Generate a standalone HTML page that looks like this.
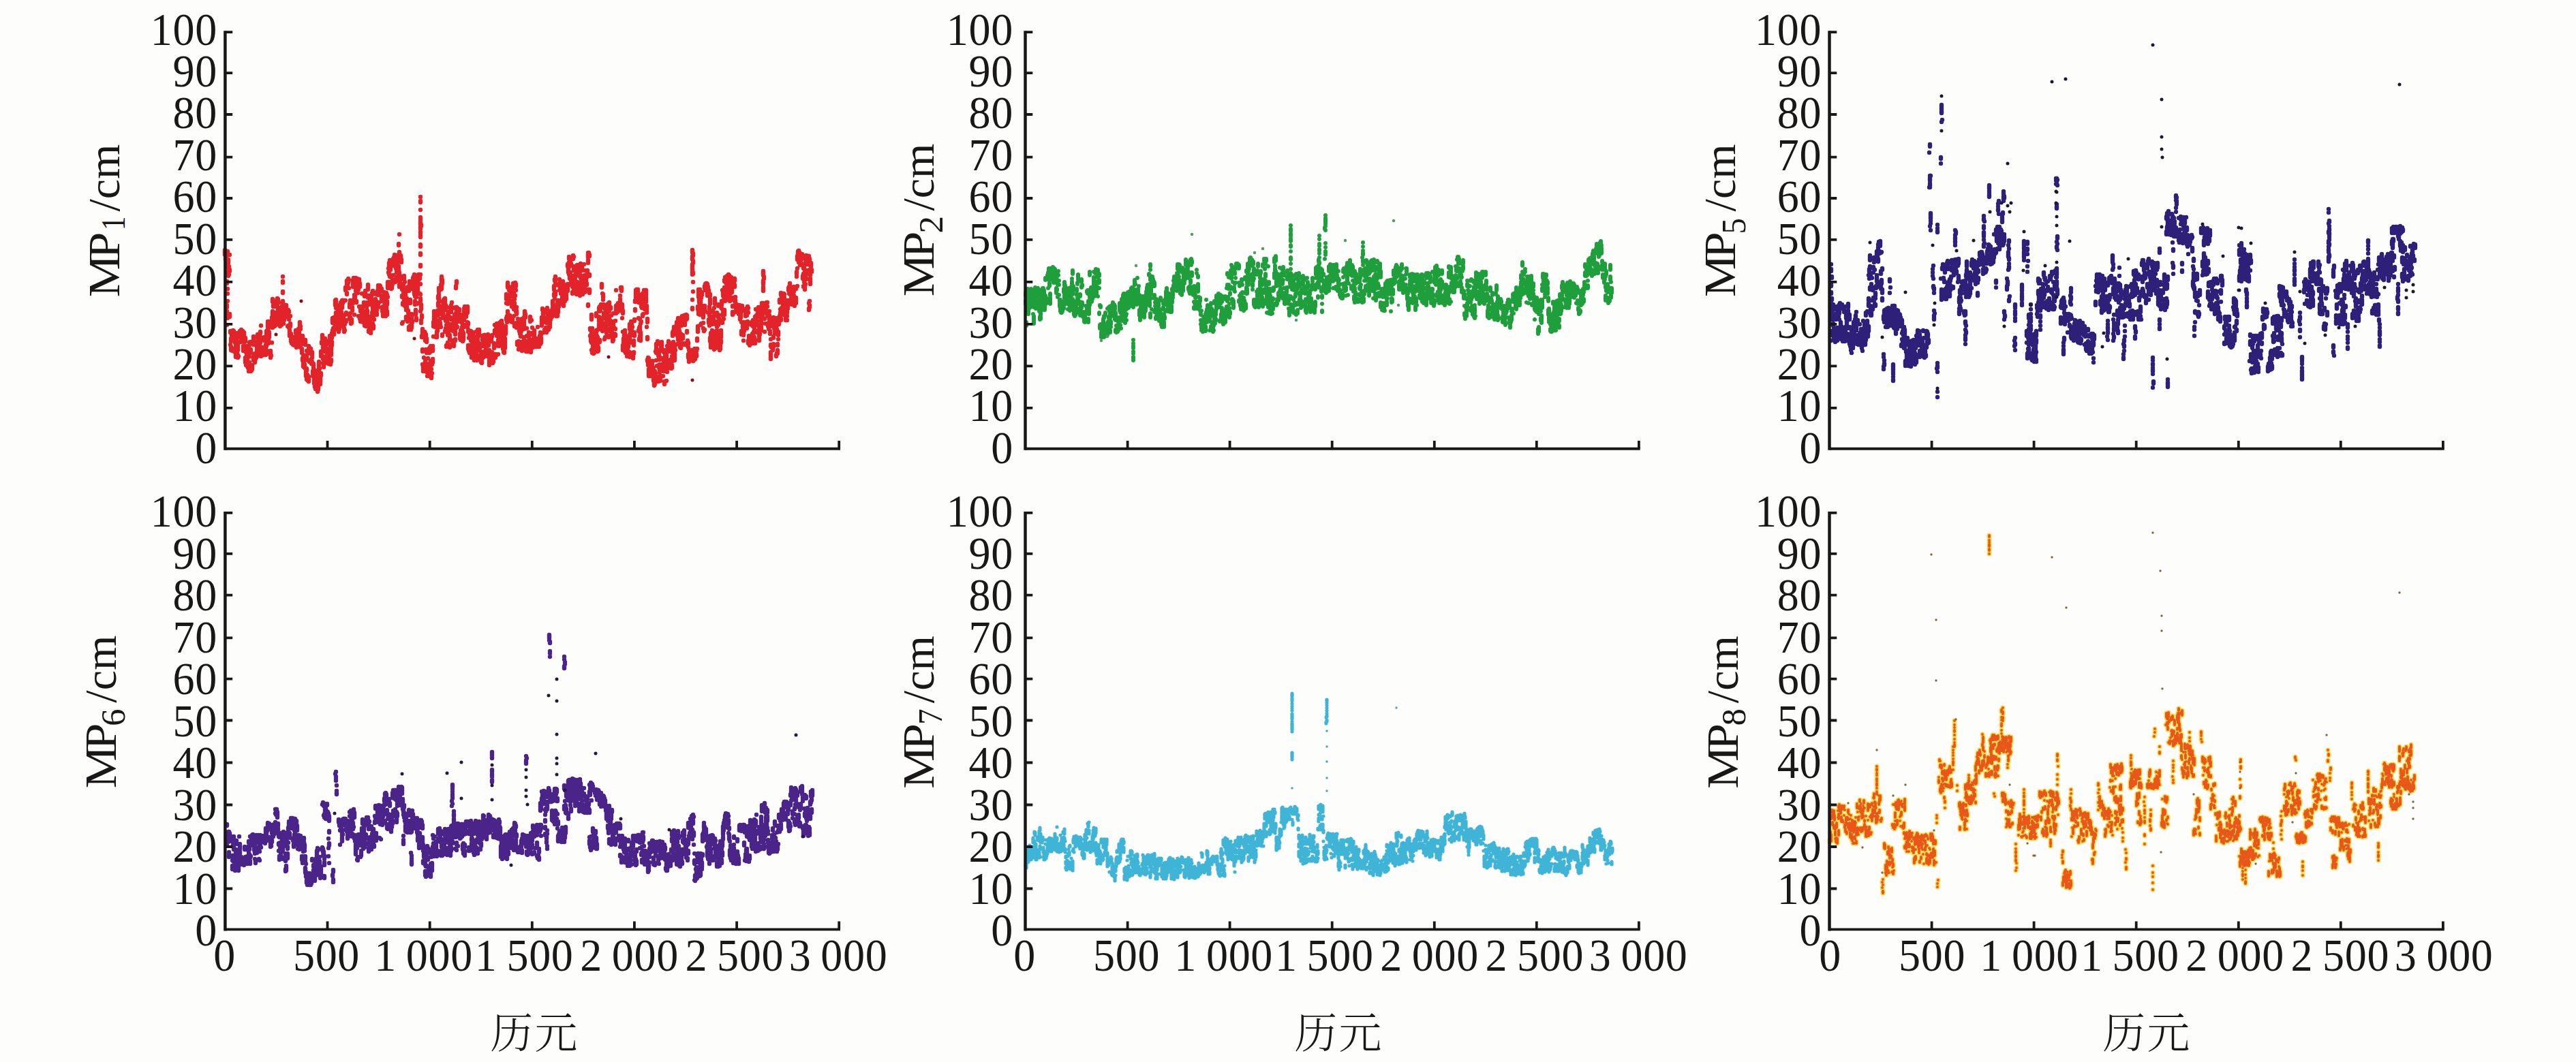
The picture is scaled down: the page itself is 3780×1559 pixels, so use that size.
<!DOCTYPE html>
<html lang="zh"><head><meta charset="utf-8"><title>MP</title>
<style>
html,body{margin:0;padding:0;background:#fdfdfb;}
body{width:3780px;height:1559px;overflow:hidden;}
svg{display:block;}
text{font-family:"Liberation Serif","Noto Serif CJK SC",serif;fill:#1a1718;}
.t{font-size:64px;}
.cj{font-family:"Liberation Serif","Noto Serif CJK SC",serif;font-size:63px;font-weight:300;}
.ax{stroke:#1a1718;fill:none;}
.d{fill:none;stroke-linecap:round;}
</style></head><body>
<svg width="3780" height="1559" viewBox="0 0 3780 1559">
<rect width="3780" height="1559" fill="#fdfdfb"/>
<g>
<text font-size="67.5" letter-spacing="0.7" transform="translate(318.9 679.8) scale(0.95 1)" text-anchor="end">0</text>
<text font-size="67.5" letter-spacing="0.7" transform="translate(318.9 618.4) scale(0.95 1)" text-anchor="end">10</text>
<text font-size="67.5" letter-spacing="0.7" transform="translate(318.9 556.9) scale(0.95 1)" text-anchor="end">20</text>
<text font-size="67.5" letter-spacing="0.7" transform="translate(318.9 495.5) scale(0.95 1)" text-anchor="end">30</text>
<text font-size="67.5" letter-spacing="0.7" transform="translate(318.9 434.1) scale(0.95 1)" text-anchor="end">40</text>
<text font-size="67.5" letter-spacing="0.7" transform="translate(318.9 372.7) scale(0.95 1)" text-anchor="end">50</text>
<text font-size="67.5" letter-spacing="0.7" transform="translate(318.9 311.2) scale(0.95 1)" text-anchor="end">60</text>
<text font-size="67.5" letter-spacing="0.7" transform="translate(318.9 249.8) scale(0.95 1)" text-anchor="end">70</text>
<text font-size="67.5" letter-spacing="0.7" transform="translate(318.9 188.4) scale(0.95 1)" text-anchor="end">80</text>
<text font-size="67.5" letter-spacing="0.7" transform="translate(318.9 126.9) scale(0.95 1)" text-anchor="end">90</text>
<text font-size="67.5" letter-spacing="0.7" transform="translate(318.9 65.5) scale(0.95 1)" text-anchor="end">100</text>
<g transform="translate(174.6 434.1) rotate(-90)" font-size="66"><text letter-spacing="-5.6" transform="translate(-2.1 0) scale(1.065 1)">MP</text><text transform="translate(96 8.5) scale(0.8 1)" font-size="51">1</text><text x="123.5" y="0">/cm</text></g>
<path class="d" stroke="#e2232a" stroke-width="6.4" d="M330 367v7M331 379v2M331 368v5M331 373v3M332 387v4M332 369v5M332 370v2M333 371v4M333 381v3M333 392h0M334 372h0M334 369v5M334 386v3M335 381v5M335 400v5M335 398v4M336 393h0M336 403h0M336 391v5M337 374h0M337 396v2M337 461v4M338 488h0M338 486h0M338 506h0M339 509v5M339 497v4M339 489h0M340 490v3M340 490h0M340 493v3M341 512h0M341 512v3M341 489v7M342 485v5M342 488v2M342 498v2M343 488h0M343 487v2M343 486v7M344 494v4M344 516h0M344 493h0M345 490v5M345 503h0M345 494v7M346 489h0M346 508v5M346 519v5M347 507v5M347 495v4M347 505v5M348 512v4M348 518v2M349 525h0M349 521v3M349 507v7M349 504h0M350 523h0M350 490v5M350 490v3M351 492h0M351 488v3M352 488h0M352 486v5M352 502h0M353 486v5M353 493v3M353 491v4M353 486v3M354 491v5M354 484v7M354 495v7M355 490v3M355 492h0M356 487v4M356 486v4M356 486v3M356 489h0M357 488h0M357 488h0M357 508v7M358 488v4M358 493h0M358 499h0M359 507h0M359 515h0M359 500v2M360 529v2M360 496v5M360 525v7M361 510v7M361 531h0M361 536h0M362 516v5M362 517h0M363 531v7M363 524v4M363 533v5M364 537v3M364 533v4M364 508v3M364 539h0M365 521h0M365 524h0M365 545h0M366 532v5M366 507h0M366 503h0M367 502h0M367 537h0M368 513v5M368 537v4M368 543v2M368 544h0M369 544h0M369 543h0M369 542v2M370 539v3M370 537h0M370 536v2M371 524h0M371 504h0M371 501h0M372 524v5M372 506h0M372 494v5M373 504h0M373 522h0M374 519v2M374 527v5M374 519h0M374 527h0M375 523v4M375 524h0M375 521v3M376 520v5M376 520h0M376 520v3M377 509v7M377 517v5M377 507h0M378 491v5M378 512v2M378 501v4M379 498v3M379 501v3M379 514v5M380 516v4M380 520v2M380 496v5M381 518v3M381 502v7M381 499v3M382 494v7M382 487v2M382 498v5M383 478h0M383 517v2M383 516v7M384 512h0M384 516v5M384 496v3M385 510v3M385 518h0M386 511v4M386 518v2M386 518h0M386 519h0M387 518v3M387 516h0M387 515h0M388 511v3M388 495v5M388 514v2M389 516h0M389 517h0M390 516v5M390 512h0M390 506v2M391 508h0M391 517h0M391 494v7M391 486v7M392 515v4M392 502v3M393 495h0M393 493v2M393 476v5M393 472v7M394 486h0M394 480h0M394 499v5M395 488v4M395 495h0M396 475v4M396 477v3M396 472v5M396 478h0M397 521v3M397 515v4M397 522v3M398 522h0M398 522h0M399 503h0M399 470h0M399 469h0M399 466h0M400 474v7M400 457v7M400 439v4M401 441h0M401 448v2M401 461v7M402 463v5M402 459v2M403 474h0M403 475v4M403 475v3M403 474v5M404 476h0M404 476h0M404 473h0M405 477h0M405 445v5M406 467v7M406 459v7M406 444h0M407 445v3M407 458v3M407 438v7M408 439v5M408 466h0M408 455v7M409 452h0M409 444h0M409 454h0M410 458h0M410 470h0M410 470v5M411 472v7M411 453h0M411 462h0M412 472v3M412 461v2M412 474h0M412 464v3M413 475h0M413 472v5M413 459h0M414 449v5M414 458v7M414 458v4M415 442v7M415 457h0M416 450v4M416 475h0M416 471h0M416 459v2M417 466v4M417 462v2M417 462v4M418 453h0M418 460h0M418 455h0M419 458v4M419 448v2M420 449v4M420 450h0M420 448v7M421 463v2M421 464h0M421 462h0M421 455v7M422 456h0M422 479h0M423 478h0M423 460v2M423 455v4M424 464v5M424 481h0M424 458h0M424 457h0M425 484v7M425 490v3M425 484h0M426 464h0M426 475v4M427 490v4M427 497v2M427 491h0M427 497v4M428 502h0M428 500v4M428 502h0M429 503h0M429 503h0M430 501v5M430 503v2M430 503v2M431 496v7M431 495v5M431 503v3M432 500h0M432 499v7M432 504v3M433 505h0M433 497v2M433 500v2M434 485v4M434 495h0M434 500v5M435 489v2M435 499h0M435 503h0M435 503v7M436 507h0M436 503v5M437 487v4M437 500v5M437 506v2M438 506v3M438 483h0M438 504v3M438 505h0M439 482v2M439 492v5M439 487v7M440 481h0M440 473v5M441 483h0M441 505v5M441 493v5M441 479h0M442 495v3M442 503h0M442 495h0M443 505h0M443 512v5M443 513v5M444 493v5M444 526v3M445 521v5M445 532h0M445 534v2M445 533v5M446 539h0M446 531v7M447 535v4M447 539h0M447 536h0M447 536v4M448 540h0M448 506h0M448 499v7M449 547v5M449 543v3M450 515h0M450 521v5M450 541v3M450 553v4M451 550h0M451 554v4M452 555v4M452 552v7M452 529h0M453 553h0M453 555v5M453 508v4M454 514v3M454 531h0M454 512v3M454 510v3M455 512h0M455 512v2M456 512v3M456 512v4M456 513v5M456 514v5M457 517h0M457 527v7M458 517v4M458 525h0M458 534h0M458 531h0M459 545v3M459 552h0M460 536v3M460 539v4M460 534v5M460 547v5M461 556v7M461 549v7M462 565v3M462 557v3M462 556v7M463 568v2M463 544h0M463 567v4M463 549h0M464 550h0M464 552h0M464 559v4M465 563h0M465 567v4M466 568v7M466 550v5M466 570v2M467 571h0M467 568v4M467 554v7M468 544v5M468 532v4M468 537v3M468 531v7M469 552v3M469 541h0M469 533h0M470 564h0M470 552v4M470 554v7M471 548v3M471 523h0M471 516v4M472 504h0M472 502h0M473 504h0M473 492v3M473 493v2M473 495v2M474 500v2M474 509v2M474 523v4M475 534v5M475 532v2M476 527h0M476 511v5M476 530v4M476 524v4M477 497v4M477 507h0M477 504h0M478 512v4M478 507v5M479 528h0M479 512h0M479 511v2M480 513v4M480 521v4M480 522h0M480 503v2M481 520v5M481 528v3M481 530h0M482 533h0M482 529v5M483 525h0M483 516h0M483 500v2M483 501v4M484 498v2M484 493v4M484 503h0M485 509h0M485 528v7M486 528v3M486 495v7M486 510v4M486 517v4M487 489v7M487 504v3M487 502v2M488 467v7M488 485v4M489 482v2M489 486v2M489 474h0M490 482v4M490 466v7M490 484v7M491 471v4M491 481v3M491 480v2M492 471v4M492 441v7M492 472h0M493 459v5M493 452h0M493 443v3M493 440v3M494 468v2M494 470v4M495 480h0M495 471v7M495 448h0M496 455h0M496 454v2M496 456v3M496 454v3M497 464h0M497 483v4M498 477h0M498 479v4M498 456v5M498 469h0M499 473v2M499 457v7M499 459v5M500 446v4M500 450v7M500 444v5M501 458v7M501 467h0M502 470v4M502 445v7M502 441v2M502 477v2M503 471h0M503 441v4M504 441v2M504 467v2M504 469h0M505 482v4M505 483v2M505 484v2M505 483v4M506 485h0M506 473v3M507 462h0M507 441h0M507 422v4M507 423v2M508 459h0M508 470v2M509 415v4M509 412v7M509 417h0M509 430v2M510 412h0M510 413v7M511 409v4M511 413v2M511 410v2M511 415h0M512 411h0M512 423h0M513 446v5M513 461v7M513 451h0M514 460h0M514 466h0M514 441v7M514 443v5M515 473h0M515 470v5M516 470v4M516 469v4M516 471v2M517 451v5M517 453h0M517 452h0M518 414v7M518 441v4M518 411h0M519 408v7M519 410v5M519 414v5M520 433h0M520 462h0M520 437v3M521 415v7M521 433v4M521 410v2M522 408v7M522 417h0M522 413v7M522 427h0M523 417h0M523 442v2M524 417h0M524 409v5M524 419v2M525 422h0M525 410v5M525 430h0M526 420v5M526 464h0M526 416v4M527 414v2M527 410v5M527 450h0M528 465v3M528 416v5M528 451h0M529 454v3M529 472h0M529 465v7M530 466v5M530 450h0M530 466h0M530 472h0M531 458v3M531 431h0M532 460h0M532 451v4M532 459h0M533 465h0M533 471v2M533 469h0M534 444v3M534 457h0M534 461h0M535 472h0M535 474v4M535 433v2M536 427v4M536 470v3M536 465v2M536 461h0M537 479h0M537 463h0M538 473v3M538 463v7M538 451h0M539 463h0M539 470h0M539 456v3M539 444v3M540 418v7M540 434v3M540 445h0M541 434h0M541 465v7M541 485v2M542 477h0M542 478v3M543 442v5M543 473h0M543 470v2M544 485h0M544 482v7M544 441h0M545 464v3M545 440v5M545 433v3M546 459h0M546 443v5M546 430h0M547 475v2M547 427v5M547 450v7M548 463v2M548 478v4M548 448h0M548 445v4M549 469h0M549 456v2M550 462h0M550 458v4M550 447v7M550 449v3M551 439v4M551 430h0M552 442v7M552 432h0M552 461h0M553 455h0M553 454h0M553 460v2M554 427h0M554 449h0M554 448h0M555 433h0M555 444v7M555 419v5M556 428v4M556 420v5M556 444h0M557 429v4M557 426v5M557 427v2M557 419v5M558 420v3M558 423v2M559 425h0M559 424h0M559 425v2M560 438v4M560 424h0M560 436v5M561 436v3M561 453v4M561 451v4M562 450h0M562 460v4M562 434v2M563 452v5M563 462h0M563 438v5M564 440v4M564 437h0M564 429v7M565 448h0M565 448v3M565 446v5M566 462h0M566 464h0M566 453v4M567 430v7M567 451v5M567 455v7M568 457v5M568 433h0M568 442v5M569 436h0M569 418v5M569 414v3M570 400h0M570 417v5M570 394h0M571 386v5M571 397v3M571 400v3M572 382h0M572 404v2M572 386h0M573 393v3M573 390v5M573 414h0M574 421h0M574 419h0M574 407h0M574 417v7M575 420v3M575 420v3M576 415v2M576 413h0M576 412v5M577 411v3M577 404h0M577 380v7M578 378v5M578 383v3M578 388v2M579 378h0M579 374v7M579 377v2M580 382v7M580 389h0M580 410v4M581 392v2M581 410h0M581 381h0M582 406h0M582 398v2M582 375v4M583 397v3M583 375v4M583 375v5M584 390v3M584 380h0M584 378v7M585 413h0M585 391v7M585 406h0M586 401v3M586 400v3M586 418v3M587 414v2M587 406v3M587 378v4M588 375v7M588 376h0M588 378v2M588 379v3M589 381v4M589 406v4M589 417h0M590 425h0M590 434v2M590 475h0M591 473h0M591 445v2M592 417v2M592 424v5M592 419v7M593 405v5M593 422v3M593 436v7M594 436h0M594 414h0M594 446v3M595 450h0M595 431v5M595 426v5M596 455h0M596 448v5M596 465v4M597 444v3M597 450v3M597 438v3M598 467v2M598 472h0M598 443h0M599 421v3M599 444h0M599 456v3M600 480v4M600 461v3M600 427h0M601 413v7M601 417v4M601 415v7M602 440v5M602 467v2M602 478h0M603 478v4M603 479v5M603 480v2M604 481h0M604 472v7M604 461v7M605 471v2M605 422h0M605 424h0M606 408h0M606 418h0M606 412v5M607 420h0M607 406h0M607 411h0M608 403v4M608 423v7M608 430v2M609 430v5M609 442v5M609 427h0M610 414v7M610 455v7M610 434v2M611 432v2M611 467v3M611 436h0M612 445h0M612 446h0M612 414h0M613 407v7M613 419v5M613 426h0M614 403v4M614 406h0M614 403v5M615 403v5M615 404v5M615 408v2M616 404v3M616 407v2M616 431h0M617 457h0M617 432h0M617 438v4M618 447v7M618 470h0M618 474h0M619 463v3M619 493v2M619 464h0M620 483v7M620 513v3M620 535h0M621 538v7M621 536v2M621 544h0M622 525h0M622 488h0M622 492h0M623 536v4M623 492h0M623 487v3M624 489h0M624 530v5M624 496v4M625 513h0M625 491h0M625 491v7M626 497v5M626 516v2M626 544v2M627 534v4M627 545v2M627 552h0M628 552h0M628 545v7M628 526h0M629 541v4M629 550h0M629 541v7M630 516v2M630 541h0M630 511h0M631 539h0M631 510v7M631 514h0M632 508v3M632 513h0M632 530v7M633 542h0M633 550v2M633 550v5M634 548h0M634 534h0M634 535h0M635 508h0M635 511v4M635 527v5M636 494h0M636 479h0M636 473v2M637 459v4M637 462v7M637 457v7M638 460v3M638 467v3M638 475v5M639 464v2M639 470v7M639 469h0M640 495h0M640 471v5M640 495h0M641 488v7M641 490h0M641 487v4M642 481v3M642 483v3M642 456v7M643 435v3M643 445v4M643 475v2M644 439v2M644 432v5M644 423v5M645 449v5M645 450h0M645 470h0M646 468h0M646 474v3M646 450v2M647 458v3M647 480h0M647 418v7M648 406h0M648 417v7M648 408v5M649 411v5M649 443h0M649 491v2M650 459v5M650 450v3M650 444h0M651 465v2M651 446v4M651 440v4M652 441v2M652 442h0M652 439v5M653 438v7M653 442h0M653 486h0M654 448v7M654 466v5M654 482v5M655 507v2M655 470h0M655 477h0M656 464v7M656 451h0M656 468h0M657 461h0M657 490v2M657 503v4M658 475h0M658 506h0M658 458v5M659 481h0M659 465h0M659 483v3M660 510h0M660 492h0M660 492v7M661 455h0M661 467h0M661 466h0M662 469h0M662 448v5M662 455v3M663 444h0M663 476v7M663 476v5M664 500v7M664 502v2M664 482h0M665 500v4M665 482v4M665 477v5M666 470v7M666 505v3M666 452h0M667 462v4M667 483v2M667 471v5M668 487v4M668 498v2M668 500h0M669 477v5M669 460h0M669 451v2M670 465v5M670 451v7M670 453v4M671 480h0M671 452v3M671 452v3M672 465v7M672 461h0M672 463v2M673 464v3M673 462v3M673 458h0M674 456h0M674 454h0M674 467v5M675 490v5M675 494v3M675 494h0M676 485v5M676 485v7M676 499h0M677 496v3M677 495h0M677 462v4M678 495h0M678 471v3M678 480v3M679 496v5M679 477v3M679 487v3M680 492v7M680 490h0M680 489v4M681 477v3M681 453v4M681 463v7M682 460h0M682 454h0M682 450v7M683 477h0M683 458v3M684 455h0M684 463v2M684 458v4M684 451v4M685 460h0M685 451v4M685 452v3M686 452v7M686 450v7M686 473v7M687 474v2M687 484v3M687 507v5M688 496h0M688 507v7M688 512v3M689 518h0M689 511h0M689 491v5M690 489v5M690 487h0M690 497h0M691 507v4M691 493v7M691 486v5M692 518v7M692 515h0M692 515h0M693 495v4M693 521h0M693 504v5M694 488v7M694 488h0M694 489h0M695 507h0M695 518v7M696 519h0M696 494v3M696 500v4M696 527v2M697 512v4M697 498h0M697 500v7M698 507v7M698 497v4M698 500v2M699 487h0M699 515v4M699 520v7M700 522v7M700 521v3M700 523v3M701 491v5M701 484v4M701 500h0M702 485v5M702 490h0M702 487h0M703 484v7M703 504h0M704 506h0M704 511v4M704 510v3M704 492h0M705 524v4M705 524h0M706 532h0M706 531h0M706 519v3M706 523v7M707 533h0M707 526v7M707 530h0M708 505v3M708 495v4M708 517v3M709 503v5M709 493h0M709 522v3M710 516v7M710 492v4M710 496v2M711 492v4M711 501v5M712 492v2M712 522h0M712 521v2M712 502h0M713 506v4M713 506v5M713 517v5M714 500v5M714 501v2M714 502v4M715 495v3M715 508h0M715 492v7M716 491h0M716 493v4M716 491v3M717 519v5M717 498h0M717 505v2M718 495v4M718 514v4M718 529v7M719 526v7M719 520v3M719 531h0M720 530v2M720 525v7M720 524v2M721 527v2M721 520v4M721 496v5M722 517v5M722 494h0M722 492v2M723 529v2M723 530v3M723 529h0M724 526v4M724 531h0M724 530h0M725 504v7M725 505h0M725 520v3M726 485v4M726 477h0M726 477h0M727 508h0M727 520v5M728 478v3M728 479h0M728 483v5M729 521h0M729 475v7M729 493h0M729 478h0M730 479v7M730 484v7M731 475v5M731 479h0M731 499v4M731 520h0M732 506v2M732 486h0M733 475v4M733 484v2M733 494h0M733 486v2M734 475v5M734 473v5M734 475v2M735 477v4M735 479h0M736 471v7M736 480v3M736 497h0M736 480v3M737 477v3M737 496v7M737 476v4M738 492h0M738 483v5M738 507v5M739 507v7M739 514v3M740 509h0M740 516v2M740 495v3M741 497v3M741 499v7M741 491h0M741 508v3M742 487v3M742 479v5M743 467v2M743 445h0M743 432v7M744 469v4M744 467v5M744 464v7M745 441v5M745 457v2M745 436h0M745 415v7M746 462v2M746 463h0M747 465v5M747 435v3M747 421v5M748 425h0M748 432v3M748 463v2M748 441v4M749 430h0M749 443h0M750 442v4M750 470v2M750 430h0M751 427v7M751 430h0M751 445v5M752 445v2M752 430h0M752 466v7M752 443v4M753 436h0M753 416v7M753 442h0M754 464h0M754 430v7M754 447v7M755 475v4M755 445v2M755 439h0M756 422v3M756 434h0M756 415v7M757 417v3M757 426h0M757 457h0M758 451h0M758 456v5M758 474v7M759 502v4M759 477v4M759 476v2M760 502h0M760 468h0M760 503v2M761 513h0M761 508h0M761 501v4M762 479v7M762 471v2M762 481v5M763 485v5M763 475v4M763 470v5M764 491h0M764 471v5M764 491v3M765 504h0M765 502h0M765 481v5M766 468v4M766 505v5M766 515h0M767 514h0M767 502v2M767 471h0M768 470h0M768 474h0M769 483h0M769 466v5M769 473v7M769 495v4M770 501v2M770 457v5M770 462v2M771 482h0M771 461v5M771 501v7M772 511v3M772 512v4M773 508v3M773 511h0M773 493h0M773 482h0M774 501v7M774 504h0M774 516h0M775 515h0M775 514v2M775 513h0M776 488v7M776 515h0M777 515h0M777 504v7M777 509v7M777 500h0M778 510v3M778 465v7M779 508v4M779 500v5M779 512v5M779 500v2M780 470h0M780 499h0M780 489v2M781 500h0M781 481h0M781 504h0M782 507h0M782 506v2M782 503v7M783 507h0M783 506v2M783 497h0M784 485v5M784 503v2M784 492v3M785 502v4M785 504v5M785 505v3M786 505h0M786 502v3M786 506h0M787 506h0M787 504v5M787 505h0M788 502v7M788 503v3M789 498h0M789 497v5M789 480h0M789 505h0M790 504h0M790 504h0M791 499v5M791 502v7M791 505h0M792 504h0M792 493v4M792 501h0M792 501h0M793 488v5M793 501v4M793 502v2M794 491h0M794 496v7M795 471v3M795 474v4M795 466v3M795 471h0M796 453v2M796 453h0M797 459v7M797 459v4M797 467h0M797 463v4M798 456h0M798 469v3M798 488h0M799 484h0M799 486h0M799 485h0M800 473h0M800 459h0M801 455v2M801 458h0M801 481v2M802 472v2M802 484v4M802 454v2M802 466h0M803 455h0M803 452v2M804 460h0M804 471h0M804 457v7M805 459h0M805 462v2M805 461v2M805 480v4M806 466v4M806 479v2M807 480h0M807 467v5M807 471v7M808 469h0M808 464h0M808 463h0M809 463v2M809 461v5M809 462v3M809 456v7M810 462h0M810 460v5M811 463h0M811 451v4M811 442v5M812 450v7M812 449v5M812 447v7M813 420v5M813 432v2M813 456h0M814 410v2M814 427v3M814 438h0M815 409h0M815 406v7M815 417v2M815 428v5M816 455v3M816 449v3M816 460v4M817 449h0M817 456v7M818 454v3M818 441v3M818 461v2M818 459v5M819 456v2M819 453h0M820 447v3M820 445h0M820 444h0M821 426h0M821 410h0M821 442v2M821 416v4M822 415v5M822 416v5M822 441h0M823 427v3M823 429v2M823 443h0M824 422h0M824 427h0M824 441v5M825 436v5M825 423v4M826 413v4M826 426v3M826 444h0M827 445h0M827 442v7M827 440v7M827 425v5M828 418v3M828 431h0M828 433h0M829 438v4M829 436h0M830 436h0M830 421h0M830 433v7M831 434v5M831 434v2M831 432v3M831 426h0M832 424h0M832 425h0M833 422v5M833 423v2M833 417h0M833 388v3M834 395v5M834 389h0M835 403h0M835 385v7M835 377v3M835 387h0M836 381v7M836 387v3M836 402v7M837 379v5M837 384v5M837 400v5M838 418h0M838 413h0M838 387v3M839 407v3M839 412h0M840 429v2M840 405v5M840 421h0M841 378v2M841 376v2M841 375h0M842 377h0M842 391h0M842 424v2M842 394v3M843 417v2M843 406v3M844 426h0M844 411v4M844 417v3M844 403v4M845 413h0M845 397v3M846 392v4M846 427v5M846 414h0M847 414v4M847 415h0M847 389v4M847 420h0M848 422v5M848 404h0M848 419v2M849 392h0M849 391h0M850 398v7M850 404h0M850 427h0M851 422v3M851 424h0M851 431v3M852 408h0M852 394v4M852 387h0M852 404h0M853 424v3M853 409v7M854 392v4M854 423v7M854 418h0M854 412v2M855 427h0M855 427v5M856 423v3M856 414h0M856 413v7M857 412v7M857 388h0M857 397h0M857 405h0M858 424v5M858 404v2M858 427h0M859 424v4M859 424v4M859 418h0M860 425v2M860 405v7M861 397h0M861 416v2M861 405v2M862 397h0M862 400v3M862 402h0M863 382v4M863 371v5M863 374v4M864 372v3M864 371v4M864 375h0M865 374h0M865 376h0M865 403v2M865 425v5M866 482v2M866 493h0M867 498v3M867 492v7M867 483h0M868 496v7M868 514h0M868 462v7M868 486v2M869 482h0M869 513v5M869 514v4M870 507v4M870 512h0M870 515h0M871 516h0M871 512v7M872 514v3M872 513v5M872 505h0M873 488h0M873 493h0M873 498v7M873 502h0M874 510v2M874 503v7M874 507v2M875 485v3M875 502h0M875 460v4M876 493v5M876 485h0M877 484h0M877 502v5M877 495v4M877 513v3M878 512v3M878 510v5M879 452v3M879 476v4M879 465v7M880 499v3M880 476h0M880 450v7M881 456h0M881 476v7M881 470v4M882 467h0M882 473v4M882 447v5M883 469v2M883 421h0M883 417v4M883 422h0M884 431h0M884 483v3M885 432v4M885 434v2M885 440h0M886 460v7M886 480v4M886 447v4M887 460h0M887 475h0M887 498h0M888 477h0M888 495h0M888 454h0M889 453v2M889 476v4M889 461v7M890 485v4M890 473h0M890 456v4M891 452h0M891 450h0M891 462v7M891 458v5M892 454h0M892 456h0M892 446v5M893 493v2M893 448v7M894 454v3M894 444v5M894 446v7M894 466h0M895 482v4M895 470v7M896 481v3M896 476h0M896 451h0M896 451v2M897 463h0M897 481v5M897 483v7M898 493h0M898 475h0M898 488h0M899 497v4M899 483h0M900 472v7M900 497v2M900 491v5M900 460h0M901 490v3M901 460h0M902 482h0M902 482h0M902 490v3M903 491v2M903 483h0M903 471h0M904 453v7M904 449v2M904 453h0M904 426h0M905 450h0M905 448v5M906 454v2M906 451v7M906 451h0M907 454h0M907 449h0M907 445v7M908 453v3M908 455h0M908 454v2M908 453v3M909 453v3M909 454h0M910 453v2M910 439v5M910 434h0M911 452v4M911 454h0M911 422v2M912 422v5M912 451v5M912 453v2M913 450v4M913 447v4M913 467h0M914 456v4M914 487h0M914 507v7M915 506v7M915 497v7M915 505h0M916 507v5M916 490v7M916 504v3M916 510v5M917 498v2M917 485v5M918 515v3M918 512v2M918 493v5M918 503v2M919 507v2M919 510v3M920 497h0M920 523h0M920 494h0M921 514h0M921 515h0M921 520h0M921 510v7M922 507h0M922 507v2M923 500v3M923 502v2M923 498v2M924 517v7M924 476v7M924 491v7M924 495v5M925 476h0M925 488h0M926 472h0M926 477v5M926 472v5M926 477h0M927 476v3M927 485v7M928 503h0M928 480h0M928 519h0M929 504h0M929 518h0M929 521v5M930 517v2M930 507h0M930 500v7M931 469v2M931 471h0M931 488v5M932 456h0M932 441v2M932 454h0M933 433v3M933 430v2M933 426v2M934 426v7M934 425v4M934 426v4M934 425v4M935 425v4M935 426v3M936 427v4M936 425v4M936 430v7M937 467h0M937 439v5M937 485h0M938 481v2M938 497v2M938 484v3M939 479v7M939 469h0M939 493v2M940 488v7M940 497v3M940 475h0M941 445v5M941 446v4M941 472h0M942 449v3M942 445h0M942 432v3M943 462v2M943 438v7M943 431h0M944 431h0M944 436h0M944 461h0M945 449h0M945 426v7M945 431h0M946 433v3M946 454h0M946 434v4M947 452v2M947 444v4M947 429h0M948 436v7M948 426v7M948 452h0M949 449v5M949 480h0M949 456v3M950 468v5M950 495v3M950 528v2M951 526v4M951 527v5M951 531v5M951 525v2M952 526v7M952 547v5M952 542v4M953 549h0M953 541v4M954 549v3M954 549v2M954 548v4M955 549v3M955 548v4M955 546v5M956 543v2M956 537h0M956 539h0M957 530h0M957 539v4M957 532v7M958 530h0M958 549h0M958 549h0M959 554v4M959 559h0M959 540h0M960 561v5M960 562v4M960 563v2M961 564h0M961 549v7M961 545h0M962 548v7M962 559v2M962 516h0M963 505v3M963 511v7M963 529h0M964 556v2M964 559h0M964 537h0M965 501v4M965 553v2M965 516v2M966 522h0M966 560h0M966 514h0M967 558h0M967 536v4M967 518v7M968 524v4M968 544v3M968 535v4M969 552v7M969 541v4M969 505h0M970 508v5M970 512v2M970 509v3M971 504v7M971 503v7M971 502v2M972 515h0M972 515h0M972 535h0M973 552h0M973 526h0M973 539v2M974 528v3M974 545h0M974 514v3M975 539v4M975 540v4M975 560v4M976 545h0M976 521h0M976 536h0M977 535v7M977 543h0M977 521v4M978 514v7M978 522v2M978 559h0M979 508h0M979 532h0M979 546h0M980 529h0M980 533h0M980 540h0M981 531v5M981 501v7M981 509v7M982 536v4M982 529v5M982 503v4M983 535v2M983 530h0M983 530v5M984 507h0M984 511v3M984 528v5M985 538v3M985 537v2M985 509v4M986 517h0M986 536v4M986 523h0M987 530h0M987 504v2M987 488v5M988 502h0M988 486v5M988 486h0M989 509h0M989 481v3M989 480v7M990 519v3M990 524v5M990 507v3M991 485v5M991 485v3M991 514h0M992 506h0M992 486v4M992 479h0M993 484h0M993 488h0M993 473v4M994 473v7M994 489v4M994 505h0M995 495v4M995 467v2M995 470v3M996 493v2M996 479h0M996 482v2M997 502v2M997 486v3M997 506h0M998 509h0M998 510h0M998 508h0M999 509v2M999 490v7M999 501v5M1000 478h0M1000 473v3M1000 466v7M1001 466h0M1001 467h0M1001 464v2M1002 470v2M1002 492v5M1002 464v3M1003 469h0M1003 469h0M1003 465h0M1004 464v3M1004 463v5M1004 504v2M1005 470v7M1005 470v5M1005 469h0M1006 463v5M1006 464v5M1006 463v4M1007 465h0M1007 463v4M1007 462v7M1008 464v4M1008 463v5M1008 486v2M1009 500v2M1009 508h0M1009 507h0M1010 510h0M1010 503v2M1010 520v5M1011 520v4M1011 514h0M1011 524v7M1012 520v3M1012 518v5M1012 528h0M1013 516v4M1013 515h0M1013 518h0M1014 517h0M1014 518h0M1014 518v4M1015 517h0M1015 518v3M1015 514v7M1016 520h0M1016 522v7M1016 515h0M1017 519v2M1017 526h0M1017 528v2M1018 529h0M1018 518v7M1018 518h0M1019 523v2M1019 514v4M1019 512v5M1020 519v4M1020 523v4M1020 517h0M1021 515v3M1021 513v3M1021 513v4M1022 515h0M1022 520v3M1022 513h0M1023 512h0M1023 497h0M1023 497v3M1024 450v4M1024 482v5M1024 479v4M1025 454v7M1025 432v4M1025 425v4M1026 429v2M1026 439v5M1026 437h0M1027 425h0M1027 441v4M1027 459v3M1028 441v5M1028 477h0M1028 446v5M1029 475h0M1029 430v7M1029 429v4M1030 454h0M1030 429v4M1030 452v3M1031 455v7M1031 449v3M1031 463h0M1032 461v5M1032 474h0M1032 482h0M1033 486h0M1033 484v2M1034 484h0M1034 454v2M1034 420v3M1034 449v7M1035 457h0M1035 426h0M1035 417v5M1036 420v3M1036 416v7M1036 418v4M1037 416v7M1037 420h0M1037 418v3M1038 419v3M1038 427v7M1038 417v7M1039 421v3M1039 421h0M1039 459h0M1040 426v4M1040 430v3M1040 469v5M1041 450v3M1041 475v3M1041 459v4M1042 496v5M1042 432v2M1042 439v7M1043 489v4M1043 505v5M1043 508h0M1044 488v4M1044 490h0M1044 476h0M1045 469v7M1045 485v7M1045 465v5M1046 505v4M1046 510h0M1046 456v2M1047 464v5M1047 490v2M1047 496v5M1048 509v4M1048 452h0M1049 438h0M1049 499v2M1049 439v7M1049 460v3M1050 472v4M1050 506v4M1050 511h0M1051 494v5M1051 486v5M1051 493v2M1052 477v3M1052 502v2M1052 459h0M1053 486v7M1053 500h0M1053 478h0M1054 462v4M1054 472v5M1054 447v2M1055 475h0M1055 467h0M1055 497h0M1056 501h0M1056 509v5M1056 499h0M1057 505v7M1057 500v5M1057 447v3M1058 500v3M1058 493v2M1058 485v7M1059 453h0M1059 445v3M1059 442h0M1060 470v4M1060 462h0M1060 426h0M1061 464h0M1061 458v5M1061 429v5M1062 468h0M1062 436h0M1063 455v7M1063 422v5M1063 439v3M1063 411v2M1064 407h0M1064 412h0M1064 437v5M1065 434v7M1065 431h0M1065 410v5M1066 409v7M1066 406v7M1066 421v7M1067 434h0M1067 430v5M1067 405v3M1068 406v2M1068 413v5M1068 429h0M1069 405h0M1069 403v4M1069 403v7M1070 409v2M1070 414v3M1070 404v3M1071 424v7M1071 425v4M1071 435v7M1072 426h0M1072 424v3M1072 419v4M1073 407v4M1073 413v5M1073 426v4M1074 411v7M1074 422v7M1074 420h0M1075 449h0M1075 458v4M1075 450h0M1076 437v3M1076 458v2M1076 412v3M1077 413v4M1077 417v2M1077 416v4M1078 442h0M1078 409v3M1078 418v3M1079 440v4M1079 436h0M1080 456v2M1080 456h0M1080 448v4M1080 451h0M1081 451h0M1081 447v7M1081 448v7M1082 450h0M1082 452h0M1082 453h0M1083 449v5M1083 448v7M1084 461h0M1084 454h0M1084 458v3M1085 449v3M1085 448v5M1085 450v3M1085 449v3M1086 454h0M1086 457h0M1086 464v5M1087 462v4M1087 459h0M1087 456v4M1088 473h0M1088 486v5M1088 449v5M1089 449v3M1089 450h0M1089 450v3M1090 479v2M1090 473v3M1090 491h0M1091 490h0M1091 500h0M1091 487v5M1092 481v4M1092 484v2M1092 454v2M1093 479h0M1093 474h0M1093 473h0M1094 454h0M1094 461h0M1094 459v5M1095 456v5M1095 453v3M1095 477h0M1096 456h0M1096 482h0M1096 461v2M1097 450v5M1097 457h0M1097 472v5M1098 500v4M1098 452h0M1098 459h0M1099 493h0M1099 495v4M1099 498h0M1100 504h0M1100 503v4M1100 501v5M1101 499v2M1101 503v2M1101 503v2M1102 494h0M1102 504h0M1102 502v2M1103 495h0M1103 493v4M1103 473v4M1104 478h0M1104 490h0M1104 502h0M1105 500v4M1105 470v7M1105 479h0M1106 487v2M1106 503h0M1107 470v4M1107 495h0M1107 480h0M1107 480v4M1108 499v5M1108 473v5M1108 465h0M1109 454h0M1109 454h0M1109 471h0M1110 463v3M1110 469v2M1110 463v3M1111 476h0M1111 471h0M1111 486v2M1112 458v7M1112 465h0M1113 454v7M1113 458h0M1113 451h0M1113 451h0M1114 462v3M1114 493v7M1114 477v5M1115 458v7M1115 484v3M1115 487v4M1116 480h0M1116 484v2M1116 476v3M1117 464v5M1117 480v4M1117 471v5M1118 445v5M1118 462h0M1119 462v4M1119 457v3M1119 451v2M1120 448v2M1120 445v3M1120 445h0M1121 455v4M1121 446h0M1121 447h0M1122 450v2M1122 468h0M1122 487h0M1123 475h0M1123 454h0M1123 452h0M1123 458h0M1124 446v2M1124 448v7M1125 444h0M1125 446v3M1125 445h0M1125 445h0M1126 444h0M1126 450h0M1126 461v3M1127 458h0M1127 479h0M1128 474h0M1128 477h0M1128 475h0M1128 481v2M1129 465v7M1129 463v2M1129 457h0M1130 486v4M1130 479h0M1131 498h0M1131 506v2M1131 517v5M1131 520v7M1132 510h0M1132 478h0M1132 474v4M1133 470h0M1133 469h0M1134 474h0M1134 477v2M1134 512v2M1134 509v3M1135 505v4M1135 494v2M1135 466v7M1136 481h0M1136 468v2M1136 478v4M1137 483v4M1137 485v5M1138 467v3M1138 469h0M1138 479h0M1138 476h0M1139 468v7M1139 480h0M1139 521v2M1140 518h0M1140 483h0M1140 472v4M1141 475v2M1141 505v2M1141 514v5M1142 498h0M1142 487v5M1143 472v4M1143 467v5M1143 466h0M1144 464h0M1144 468h0M1144 440v4M1145 459h0M1145 459v4M1145 462v5M1145 454h0M1146 459h0M1146 468v2M1146 430v3M1147 452v2M1147 432v7M1147 438h0M1148 440h0M1148 454h0M1149 437v2M1149 462h0M1149 443v5M1149 452v2M1150 442v4M1150 431v5M1151 451v3M1151 432h0M1151 437v4M1151 452h0M1152 443v7M1152 457v5M1153 463v2M1153 470h0M1153 470h0M1153 467v3M1154 469h0M1154 470h0M1155 470h0M1155 464h0M1155 458h0M1155 454v5M1156 449v4M1156 441h0M1156 441v2M1157 426h0M1157 423h0M1158 444h0M1158 443h0M1158 426v5M1158 421v7M1159 417h0M1159 416v3M1160 424v3M1160 430v3M1160 422v5M1161 438h0M1161 439h0M1161 441h0M1162 438v7M1162 434h0M1162 435v2M1162 444v3M1163 444v3M1163 445h0M1164 446h0M1164 437v7M1164 426v4M1165 421v7M1165 434v5M1165 442v3M1165 440h0M1166 444v5M1166 439v5M1166 440v4M1167 443h0M1167 443v2M1168 445h0M1168 441v3M1168 437v5M1168 422v2M1169 406h0M1169 399v3M1170 420h0M1170 381h0M1170 394h0M1170 376v4M1171 371v4M1171 369v4M1172 368v7M1172 378h0M1172 378v7M1172 373h0M1173 370v5M1173 372h0M1173 374v2M1174 381h0M1174 387v2M1175 382v3M1175 373h0M1175 375v4M1176 379h0M1176 375h0M1176 374v2M1176 374h0M1177 373v3M1177 375v5M1177 375v5M1178 405v4M1178 389h0M1179 402h0M1179 421h0M1179 389v5M1179 420h0M1180 409v5M1180 388v5M1181 416v4M1181 420v5M1181 418v3M1181 399v4M1182 417h0M1182 385h0M1183 408v2M1183 397v5M1183 375v7M1184 384v2M1184 376v3M1184 388h0M1184 384h0M1185 383v5M1185 381h0M1186 397v5M1186 376v5M1186 376v5M1186 383h0M1187 376v5M1187 378v2M1188 380h0M1188 396h0M1188 380v4M1188 382v7M1189 417h0M1189 402v2M1189 409v7M1190 386v5M1190 399h0M1191 396v3M333 477h0M334 465v2M333 457v2M333 448v3M334 442h0M334 431h0M334 424h0M333 413v3M415 428v2M415 413v2M415 406h0M617 417h0M617 403h0M617 389v2M617 372v2M617 359v3M617 344h0M617 346v2M617 344h0M617 340v3M617 340h0M617 336h0M617 333v3M618 330v2M617 327v3M617 325v3M617 324h0M617 322h0M617 319h0M617 319h0M617 308h0M617 295v2M617 289h0M586 370v2M585 358v2M586 344h0M1016 401v2M1016 397v3M1016 397h0M1016 393v3M1016 392h0M1016 388v2M1017 386h0M1017 383v2M1016 381h0M1016 378v2M1016 376h0M1017 372v3M1016 371h0M1016 367v2M1016 452v2M1016 440h0M1017 428h0M1017 414h0M1017 400v2M1120 425v2M1120 423h0M1120 421h0M1120 417h0M1120 413v3M1120 412h0M1121 406v3M1120 404h0M1120 401v2M1120 398v3M1187 453v2M1188 448v3M1187 445h0M1188 442h0M669 420v3M670 413v3M863 447v2M863 425h0"/>
<path class="d" stroke="#7a1418" stroke-width="5" d="M1016 558h0M442 442h0M405 491h0M608 497h0M893 524h0"/>
<path class="ax" stroke-width="4.5" d="M330.4 45.3 V660.7"/>
<path class="ax" stroke-width="3.9" d="M330.4 658.8 H1233"/>
<path class="ax" stroke-width="3.8" d="M330.4 598.8 h10.8 M330.4 537.3 h10.8 M330.4 475.8 h10.8 M330.4 413.8 h10.8 M330.4 351.8 h10.8 M330.4 291 h10.8 M330.4 230.7 h10.8 M330.4 168 h10.8 M330.4 107.2 h10.8 M330.4 47.2 h10.8 M480.5 658.8 v-11.8 M630.7 658.8 v-11.8 M780.8 658.8 v-11.8 M930.9 658.8 v-11.8 M1081.1 658.8 v-11.8 M1231.2 658.8 v-11.8"/>
</g>
<g>
<text font-size="67.5" letter-spacing="0.7" transform="translate(1487 679.8) scale(0.95 1)" text-anchor="end">0</text>
<text font-size="67.5" letter-spacing="0.7" transform="translate(1487 618.4) scale(0.95 1)" text-anchor="end">10</text>
<text font-size="67.5" letter-spacing="0.7" transform="translate(1487 556.9) scale(0.95 1)" text-anchor="end">20</text>
<text font-size="67.5" letter-spacing="0.7" transform="translate(1487 495.5) scale(0.95 1)" text-anchor="end">30</text>
<text font-size="67.5" letter-spacing="0.7" transform="translate(1487 434.1) scale(0.95 1)" text-anchor="end">40</text>
<text font-size="67.5" letter-spacing="0.7" transform="translate(1487 372.7) scale(0.95 1)" text-anchor="end">50</text>
<text font-size="67.5" letter-spacing="0.7" transform="translate(1487 311.2) scale(0.95 1)" text-anchor="end">60</text>
<text font-size="67.5" letter-spacing="0.7" transform="translate(1487 249.8) scale(0.95 1)" text-anchor="end">70</text>
<text font-size="67.5" letter-spacing="0.7" transform="translate(1487 188.4) scale(0.95 1)" text-anchor="end">80</text>
<text font-size="67.5" letter-spacing="0.7" transform="translate(1487 126.9) scale(0.95 1)" text-anchor="end">90</text>
<text font-size="67.5" letter-spacing="0.7" transform="translate(1487 65.5) scale(0.95 1)" text-anchor="end">100</text>
<g transform="translate(1370.2 433.1) rotate(-90)" font-size="66"><text letter-spacing="-5.6" transform="translate(-2.1 0) scale(1.065 1)">MP</text><text transform="translate(90.7 12.5) scale(1.0 1)" font-size="51">2</text><text x="123.5" y="0">/cm</text></g>
<path class="d" stroke="#1f9e3c" stroke-width="6" d="M1505 429h0M1505 432v2M1505 441v5M1506 436v4M1506 474h0M1506 473v5M1506 435h0M1507 437h0M1507 455h0M1508 444v4M1508 449v7M1508 424v7M1509 433v7M1509 426v7M1509 454v7M1510 439h0M1510 442v7M1510 431v5M1511 452h0M1511 439v2M1511 431h0M1512 431h0M1512 425v2M1512 426h0M1512 426h0M1513 426h0M1513 426h0M1513 424v2M1514 426h0M1514 429h0M1514 427h0M1515 446v4M1515 426h0M1515 430v4M1516 438v5M1516 461h0M1517 468v7M1517 474h0M1517 464v3M1517 447v4M1518 440h0M1518 432h0M1518 427v2M1519 422v7M1519 432v2M1520 449h0M1520 428h0M1520 445h0M1520 449v4M1521 426h0M1521 427h0M1521 429v7M1522 442v3M1522 449v2M1523 426v5M1523 426h0M1523 423v4M1524 425h0M1524 425v7M1524 425v4M1525 439v5M1525 431v2M1525 457h0M1525 451v4M1526 468h0M1526 449h0M1526 465v4M1527 459v5M1527 465v3M1527 442v2M1528 426h0M1528 436v5M1528 449v7M1529 441v5M1529 449v4M1530 426v2M1530 426v5M1530 423v7M1531 426h0M1531 423v5M1531 430v2M1532 426v7M1532 435v5M1532 440v2M1533 433v7M1533 448v7M1533 436v7M1534 434h0M1534 408v3M1534 438h0M1534 444v3M1535 444h0M1535 437v7M1536 438h0M1536 445h0M1536 442v3M1537 442h0M1537 410h0M1537 404v2M1538 423h0M1538 401v5M1538 400v4M1539 395v3M1539 394v2M1539 395v2M1539 396h0M1540 407v5M1540 416v4M1541 431v3M1541 443v3M1541 437v4M1542 398v4M1542 401v4M1542 394v5M1543 402v5M1543 401v4M1543 395h0M1543 396v4M1544 398v2M1544 395h0M1545 392v7M1545 395h0M1545 393v5M1546 393v7M1546 409h0M1546 410v5M1546 405v7M1547 395h0M1547 395h0M1547 400h0M1548 395h0M1548 395v7M1548 395v7M1549 398h0M1549 407v4M1549 403v7M1550 423v7M1550 410v5M1551 425h0M1551 424v2M1551 431h0M1552 436h0M1552 411v7M1552 405h0M1552 399v2M1553 398h0M1553 404h0M1554 412h0M1554 418h0M1554 433h0M1555 440v3M1555 446v3M1555 445v5M1556 440h0M1556 445h0M1556 452v5M1557 446v5M1557 452v7M1557 453v3M1558 452v7M1558 453v4M1558 453h0M1558 453v3M1559 448v4M1559 453v4M1559 443h0M1560 449h0M1560 444v7M1560 446v2M1561 451v2M1561 424v5M1561 444h0M1562 433v5M1562 414v5M1562 417v2M1563 426h0M1563 419v3M1564 437v7M1564 435v2M1564 446h0M1565 445h0M1565 437h0M1565 432h0M1566 431v4M1566 439v4M1566 440v3M1566 443h0M1567 454h0M1567 425h0M1568 425v5M1568 431h0M1568 423v4M1569 448h0M1569 439v2M1569 429h0M1569 438v5M1570 429v2M1570 451v5M1571 446h0M1571 455h0M1571 434v7M1571 427v4M1572 430h0M1572 426v7M1572 421v2M1573 413v5M1573 409h0M1573 430v3M1574 422v7M1574 439h0M1574 397v5M1575 420v5M1575 444v7M1576 442v7M1576 456v4M1576 460v2M1577 457v7M1577 459v3M1577 459v3M1577 461h0M1578 459v4M1578 458v4M1579 457v2M1579 449h0M1579 432h0M1580 452h0M1580 431v2M1580 442v5M1580 424v3M1581 438v4M1581 415v2M1582 439v2M1582 444v2M1582 403v7M1583 413h0M1583 445h0M1583 436h0M1584 453v3M1584 456h0M1584 460h0M1585 456v7M1585 453v7M1585 432v3M1585 443v2M1586 449v3M1586 453v4M1587 410v4M1587 420v2M1587 448h0M1587 452h0M1588 418v2M1588 444v4M1588 461h0M1589 461v4M1589 463h0M1589 463h0M1590 458v3M1590 464h0M1591 465v2M1591 463v5M1591 468v4M1592 473h0M1592 462h0M1592 463v2M1592 458h0M1593 449h0M1593 458h0M1594 469v2M1594 457v4M1594 468h0M1595 450v4M1595 427h0M1595 429h0M1595 452v7M1596 470h0M1596 426v5M1597 442v3M1597 470v3M1597 468v5M1597 447v5M1598 457v4M1598 450v5M1599 441v7M1599 433v4M1599 399v5M1600 433v5M1600 425v7M1600 436h0M1601 425h0M1601 434h0M1601 422v2M1602 436v3M1602 437v5M1602 436v7M1603 439h0M1603 431v4M1603 428v3M1603 435v2M1604 424v5M1604 435h0M1605 399h0M1605 407v4M1605 412v7M1605 430v4M1606 433h0M1606 435h0M1607 424h0M1607 425v5M1607 399v2M1608 396v2M1608 398h0M1608 395v2M1609 397v2M1609 432h0M1609 425v5M1610 413v3M1610 421v3M1610 398h0M1610 403v4M1611 396v5M1611 404h0M1611 435h0M1612 414h0M1612 412h0M1613 402v3M1613 411v4M1613 423h0M1613 459v2M1614 448h0M1614 477v5M1614 449h0M1615 449v2M1615 476v3M1615 480v3M1616 488h0M1616 488v7M1617 493v2M1617 492v3M1617 490v2M1618 484v7M1618 488v4M1618 476v7M1619 487v4M1619 468v7M1619 480v2M1620 492h0M1620 464v3M1620 490v5M1621 478h0M1621 492h0M1621 487v5M1621 482h0M1622 482v3M1622 459v4M1622 481h0M1623 491v2M1623 488v2M1624 475v7M1624 488v5M1624 491v2M1625 491h0M1625 492h0M1625 453h0M1626 472v5M1626 484h0M1626 480v4M1627 451v2M1627 453h0M1627 471h0M1627 465v2M1628 450v7M1628 469v2M1629 459h0M1629 485v3M1629 467h0M1629 460v2M1630 449v4M1630 472v4M1630 480h0M1631 461v3M1631 456v7M1631 451h0M1632 453h0M1632 448v3M1633 444v7M1633 449v2M1633 447v3M1634 450h0M1634 447v2M1634 448v5M1634 446v3M1635 447v3M1635 448v5M1636 458v5M1636 467v2M1636 449v5M1637 469h0M1637 463v7M1637 459v5M1637 484v3M1638 483v5M1638 484v4M1638 478h0M1639 480h0M1639 485v2M1640 484v3M1640 485v2M1640 479v7M1641 470v3M1641 477v5M1641 483v2M1642 468h0M1642 469h0M1642 466v2M1643 453v3M1643 447v2M1643 445v7M1644 477h0M1644 466v3M1644 459h0M1645 454h0M1645 454v2M1645 482h0M1645 465h0M1646 469v2M1646 456h0M1646 439v2M1647 443v3M1647 463v3M1648 445h0M1648 448v2M1648 433v3M1649 452v7M1649 433h0M1649 431v5M1650 437v7M1650 431h0M1650 467h0M1651 447v4M1651 467v7M1651 472h0M1652 462v2M1652 455h0M1652 449v5M1652 450h0M1653 470h0M1653 461h0M1654 443h0M1654 440v2M1654 446v7M1655 438v7M1655 430v2M1655 431h0M1655 429v7M1656 435v2M1656 448v4M1657 450h0M1657 437v7M1657 428v5M1657 432h0M1658 428v4M1658 433h0M1658 432v2M1659 431h0M1659 446v3M1660 432h0M1660 427v4M1660 426h0M1660 423v2M1661 431h0M1661 422v7M1662 422v4M1662 424v3M1662 423h0M1663 440v4M1663 436v7M1663 444v7M1664 435v5M1664 440v5M1664 436h0M1665 432v7M1665 428v2M1665 425v3M1665 411v7M1666 417h0M1666 426h0M1667 436v5M1667 432h0M1667 443v3M1668 444v2M1668 438v7M1668 444v3M1669 441v5M1669 441v5M1669 408h0M1670 424v5M1670 441v3M1670 433v3M1671 420h0M1671 444h0M1671 438v2M1672 433v3M1672 455v5M1672 456v7M1673 456v7M1673 457v2M1673 465v5M1674 448v5M1674 436v3M1674 440v3M1674 437v4M1675 435v5M1675 451h0M1675 464h0M1676 448h0M1676 459v3M1676 456v5M1677 437h0M1677 445h0M1678 435v4M1678 449v3M1678 437v7M1679 461v5M1679 462v2M1679 456v5M1680 458h0M1680 449v4M1680 453h0M1681 447h0M1681 456h0M1681 452v3M1682 441v3M1682 431v5M1682 428h0M1683 424v3M1683 423v4M1683 422v5M1684 433v7M1684 418v7M1684 435h0M1684 439h0M1685 419h0M1685 439v2M1686 402v2M1686 425v2M1686 446v2M1687 417v7M1687 436v5M1687 444v5M1688 460v2M1688 460v4M1688 463v3M1689 438h0M1689 425v7M1689 424h0M1690 454h0M1690 410h0M1690 413h0M1691 406v5M1691 410h0M1691 410h0M1692 410v2M1692 410v5M1692 413h0M1693 416h0M1693 416h0M1693 413v7M1694 415v5M1694 433v5M1694 458h0M1695 456h0M1695 444h0M1695 449h0M1696 440h0M1696 466v2M1696 447v7M1697 439v4M1697 463h0M1697 454v4M1698 455h0M1698 441h0M1698 463v2M1698 456v4M1699 458v4M1699 464v4M1700 441v2M1700 441v3M1700 443v7M1701 453v4M1701 467v4M1701 453h0M1702 465h0M1702 441h0M1702 457v7M1703 440h0M1703 437v2M1703 459h0M1704 476h0M1704 475v2M1704 467h0M1705 474v2M1705 478v2M1705 479h0M1706 470v3M1706 468v5M1706 442h0M1707 446h0M1707 468v5M1707 451v3M1708 466v2M1708 473v7M1708 461v2M1709 440h0M1709 455h0M1709 465v3M1710 455v2M1710 443v3M1710 440v7M1711 434v2M1711 428v7M1711 430v7M1712 429v4M1712 426v5M1712 423v4M1712 424h0M1713 438v3M1713 443v2M1714 447v5M1714 454v2M1714 453v4M1715 450v4M1715 447v7M1715 436h0M1716 431v7M1716 437v4M1716 454h0M1717 446v5M1717 450v5M1717 451v7M1718 433v3M1718 453v4M1718 451v3M1719 449v4M1719 453v5M1719 453v2M1720 441v3M1720 437h0M1720 424v2M1721 428v5M1721 431v3M1721 437h0M1722 424h0M1722 422v4M1722 419v4M1722 412h0M1723 416v3M1723 406v4M1724 407v7M1724 413h0M1724 411h0M1725 408v7M1725 416v3M1725 418h0M1726 407h0M1726 406v3M1726 412h0M1727 401h0M1727 416v3M1727 427h0M1728 420v3M1728 418h0M1728 388v7M1729 395v2M1729 405v2M1729 401h0M1730 388h0M1730 393v4M1730 406h0M1731 389h0M1731 411v5M1731 421v5M1732 430h0M1732 429v2M1732 431h0M1732 429h0M1733 431h0M1733 431h0M1734 428v5M1734 429v4M1734 430h0M1735 419h0M1735 414h0M1735 393v7M1736 399h0M1736 394v7M1736 420v7M1737 409v4M1737 416h0M1737 404v4M1738 407v3M1738 416h0M1738 410v3M1739 408h0M1739 396h0M1739 410h0M1740 381v2M1740 382v7M1740 381v5M1741 386v3M1741 398v7M1741 383h0M1742 386v2M1742 384v7M1742 392h0M1743 398v7M1743 389v4M1743 397h0M1744 405v3M1744 422v3M1744 423v2M1745 427h0M1745 425v3M1745 425v2M1746 424v7M1746 427h0M1746 420v3M1747 411v4M1747 381v4M1747 422v4M1748 400h0M1748 389h0M1748 380v2M1749 383v3M1749 400v5M1749 424v3M1750 424v5M1750 431h0M1750 422v2M1751 433h0M1751 432h0M1751 421v7M1752 443h0M1752 451v2M1752 420h0M1753 445h0M1753 443h0M1753 431v3M1754 433v4M1754 452h0M1754 446v7M1755 443h0M1755 437h0M1755 423v5M1756 420v4M1756 401h0M1756 396h0M1757 445v4M1757 443h0M1757 446v7M1758 417v4M1758 405h0M1758 405v2M1758 421v7M1759 436h0M1759 448h0M1760 443h0M1760 444v3M1760 442v3M1761 437v5M1761 450h0M1761 456h0M1762 460v2M1762 470h0M1762 476h0M1763 472v7M1763 485h0M1763 479v3M1763 456h0M1764 475v2M1764 479v4M1765 478h0M1765 480v7M1765 479v5M1766 465h0M1766 469h0M1766 475v7M1767 476h0M1767 468v2M1767 471v5M1768 472v2M1768 482v2M1768 466v7M1769 461v4M1769 469v2M1769 479v7M1770 458v4M1770 462v2M1770 440h0M1771 454v5M1771 470v3M1771 470h0M1772 455v7M1772 448v4M1772 465v4M1773 456v7M1773 456v3M1773 463v5M1774 464v7M1774 455h0M1774 466v3M1775 462v7M1775 485h0M1775 455h0M1776 452h0M1776 472h0M1776 450h0M1777 445v2M1777 479v5M1777 455v3M1777 484h0M1778 455v3M1778 453v7M1779 478v2M1779 473v7M1779 475v7M1780 484v3M1780 464h0M1780 476v7M1781 473v5M1781 485h0M1781 475h0M1781 457v4M1782 442v3M1782 465v4M1783 475h0M1783 467h0M1783 461v5M1784 455v7M1784 442h0M1784 468v3M1785 434v7M1785 434v2M1785 447v7M1786 434h0M1786 439h0M1786 452h0M1787 439v3M1787 437v3M1787 451h0M1788 431v7M1788 438h0M1788 438h0M1789 435h0M1789 436v4M1789 449v2M1790 439v5M1790 470v2M1790 438h0M1791 435v5M1791 433v4M1791 441v5M1792 435h0M1792 444h0M1792 461v7M1793 436v7M1793 452v7M1793 469h0M1794 471h0M1794 457v3M1794 435h0M1795 460v2M1795 472v3M1795 471v5M1796 461h0M1796 460h0M1796 466v5M1797 469h0M1797 472v2M1797 469h0M1798 466v7M1798 435v3M1798 457v4M1799 453h0M1799 457v5M1799 436v4M1800 459v5M1800 450h0M1800 423h0M1801 401v2M1801 442h0M1801 418v5M1802 436h0M1802 437v3M1802 421h0M1803 421v3M1803 418v2M1803 404v3M1804 446h0M1804 462v4M1804 452v2M1805 430v2M1805 458v3M1805 460h0M1806 397h0M1806 399v3M1806 421v3M1807 404v5M1807 402v4M1807 389h0M1808 439v3M1808 395h0M1808 391v2M1809 414h0M1809 396v2M1809 440h0M1810 452h0M1810 442v5M1810 445v7M1811 423h0M1811 422v4M1811 395v5M1812 400v2M1812 417h0M1812 428h0M1813 408h0M1813 392v2M1813 415h0M1814 389v2M1814 387v5M1814 387v7M1815 389h0M1815 389v3M1815 387v5M1816 387v4M1816 388v3M1816 387v4M1817 389h0M1817 388v3M1817 388v3M1818 389v5M1818 415h0M1818 441v2M1819 434h0M1819 442h0M1819 418v2M1820 438v5M1820 449h0M1820 444v5M1821 448v2M1821 450v4M1821 431v7M1821 443v2M1822 410v3M1822 418h0M1823 429v2M1823 418h0M1823 448v4M1824 451h0M1824 449v5M1824 451v2M1825 451v2M1825 449v7M1825 437h0M1826 447v3M1826 441v7M1826 452h0M1827 452h0M1827 407v3M1827 445v2M1828 446v7M1828 447v3M1828 428v2M1829 397v2M1829 428v3M1829 422v3M1830 410v7M1830 424v7M1830 410v4M1831 403v7M1831 387v7M1831 396v7M1832 413v5M1832 390h0M1832 394v4M1833 390v2M1833 395h0M1833 388h0M1834 388h0M1834 383v4M1834 379v7M1835 379v4M1835 378v7M1835 383v4M1836 403v4M1836 406v3M1836 411h0M1837 390h0M1837 385v2M1837 381v4M1838 383v2M1838 416v4M1838 425h0M1839 384v4M1839 409v3M1839 401v5M1840 409h0M1840 394v5M1840 440v7M1841 445h0M1841 447v3M1841 448h0M1842 446h0M1842 447h0M1842 446v5M1843 443v4M1843 442h0M1843 440v2M1844 428h0M1844 400v3M1844 402h0M1845 397v5M1845 431v4M1845 438v4M1846 430h0M1846 387v4M1846 425h0M1847 445v4M1847 448v2M1847 447v4M1848 435h0M1848 439v3M1848 446v3M1849 404v4M1849 422v3M1849 413v7M1850 398h0M1850 426v5M1850 398v3M1851 434v3M1851 411v5M1851 416v3M1852 436v5M1852 442v4M1852 444h0M1853 388v3M1853 445v5M1853 446h0M1854 425v5M1854 410v7M1854 388h0M1855 380h0M1855 383h0M1855 380h0M1856 418h0M1856 393v2M1856 411v2M1857 402v4M1857 412v5M1857 387h0M1858 439v7M1858 380v3M1858 419v5M1859 459h0M1859 433v4M1859 441h0M1860 431h0M1860 426v5M1860 424v4M1861 429v7M1861 449v2M1861 391h0M1862 440h0M1862 414v3M1862 458v2M1863 424v5M1863 427v7M1863 439v7M1864 436v7M1864 434v4M1864 449v7M1865 445h0M1865 454v7M1865 424h0M1866 456v2M1866 445v2M1866 453h0M1867 460h0M1867 452h0M1867 424v2M1868 451v3M1868 424v3M1868 438v2M1869 446v2M1869 448h0M1869 422v4M1870 381v4M1870 379h0M1870 401v7M1871 394v4M1871 390h0M1871 391h0M1872 376v7M1872 398v5M1872 382h0M1873 413v7M1873 402h0M1873 445v3M1874 405v4M1874 439h0M1874 442v4M1875 404h0M1875 440h0M1875 402v3M1876 430v4M1876 438v3M1876 409h0M1877 404v3M1877 419h0M1877 405v4M1878 393h0M1878 427v2M1878 414h0M1879 423v3M1879 416v2M1879 406h0M1880 427h0M1880 409v2M1880 406h0M1881 395h0M1881 401h0M1881 432v4M1882 438h0M1882 413h0M1882 413v4M1883 392v4M1883 399v2M1883 411h0M1884 402v2M1884 430v7M1884 423h0M1885 434h0M1885 444h0M1885 442v4M1886 441v5M1886 443v3M1886 440h0M1887 435h0M1887 437h0M1887 435v5M1888 422v7M1888 422h0M1888 406h0M1889 441h0M1889 397v3M1889 406v4M1890 434h0M1890 437v7M1890 445h0M1891 446h0M1891 453h0M1891 442h0M1892 456v7M1892 405h0M1892 421h0M1893 405v4M1893 411v5M1893 413v3M1894 405v5M1894 435v3M1894 413v4M1895 405v5M1895 451v2M1895 447v3M1896 421v3M1896 452v2M1896 425h0M1897 416v3M1897 404v4M1897 451v4M1898 413v3M1898 456v3M1898 438v2M1899 416v7M1899 422v3M1899 426h0M1900 444v2M1900 421v4M1900 436h0M1901 446v2M1901 432v3M1901 459v2M1902 459v3M1902 422v7M1902 402v7M1903 419h0M1903 420v5M1903 431h0M1904 455v5M1904 404v2M1904 422v2M1905 444v3M1905 415v4M1905 407v5M1906 401v7M1906 409h0M1906 407h0M1907 439v5M1907 418v2M1907 439h0M1908 432h0M1908 434v5M1908 429v5M1909 416h0M1909 452h0M1909 441v7M1910 425h0M1910 414h0M1910 406v2M1911 425v5M1911 443h0M1911 424h0M1912 413v5M1912 412h0M1912 405v7M1913 419h0M1913 407h0M1913 409h0M1914 408v3M1914 422v7M1914 443v7M1915 423v3M1915 431h0M1915 447v3M1916 425v5M1916 450v7M1916 439h0M1917 450h0M1917 459h0M1917 453v3M1918 408h0M1918 444h0M1918 422h0M1919 415v7M1919 422h0M1919 414v2M1920 443h0M1920 432v4M1920 435v5M1921 431v4M1921 439h0M1921 439h0M1922 427v5M1922 444v7M1922 454h0M1923 452v3M1923 456v2M1923 453v2M1924 447v2M1924 438v7M1924 450v7M1925 422v3M1925 452v3M1925 418v2M1926 413h0M1926 409h0M1926 408v2M1927 418v4M1927 447v2M1927 445v2M1928 451v4M1928 454v2M1928 453v2M1929 447h0M1929 450h0M1929 452v7M1930 448h0M1930 443v7M1930 425h0M1931 396v7M1931 408h0M1931 393v3M1932 392h0M1932 393h0M1932 417v3M1933 405h0M1933 402v4M1933 416v2M1934 435v2M1934 420h0M1934 414v3M1935 403v7M1935 389v7M1935 417v5M1936 410v3M1936 405v3M1936 396v2M1937 407h0M1937 395v3M1937 406v3M1938 394h0M1938 412h0M1938 402h0M1939 426v2M1939 407v3M1939 400v3M1940 396v4M1940 411h0M1940 400h0M1941 403h0M1941 411v2M1941 421v5M1942 403h0M1942 402v2M1942 412h0M1943 415v7M1943 414v4M1943 424v2M1944 420v7M1944 417h0M1944 421v2M1945 424v4M1945 424v5M1945 418v2M1946 422v5M1946 416h0M1946 423v7M1947 425h0M1947 415h0M1947 407v4M1948 423v5M1948 421v7M1948 418h0M1949 414v5M1949 413v5M1949 411h0M1950 420v7M1950 391v7M1950 418v3M1951 405v3M1951 415v3M1951 391v4M1952 393h0M1952 388v7M1952 406v5M1953 393v2M1953 394v7M1953 392h0M1954 389v7M1954 392v3M1954 390v2M1955 389v4M1955 397h0M1955 395v7M1956 398v7M1956 423h0M1956 413h0M1957 410v2M1957 389v7M1957 396v7M1958 391v7M1958 393v2M1958 398h0M1959 407h0M1959 390v2M1959 402v7M1960 392h0M1960 390v5M1960 421v3M1961 400h0M1961 396v5M1961 388v7M1962 404v3M1962 411h0M1962 409h0M1963 412h0M1963 421v4M1963 425v2M1964 415v5M1964 398h0M1964 409v4M1965 424v3M1965 416v3M1965 411h0M1966 425v3M1966 427v3M1966 431v2M1967 427v5M1967 431v5M1967 435h0M1968 435h0M1968 433v4M1968 433v4M1969 431v7M1969 435h0M1969 435h0M1970 433v3M1970 431v7M1970 417h0M1971 399h0M1971 396h0M1971 407h0M1972 394v5M1972 425h0M1972 418v3M1973 418v4M1973 418h0M1973 416v5M1974 396v7M1974 427h0M1975 422v4M1975 415v2M1975 394v4M1975 434h0M1976 401h0M1976 396v5M1976 391v4M1977 408h0M1977 406v7M1977 386v3M1978 401v2M1978 433h0M1979 416h0M1979 393v2M1979 386v5M1979 392v4M1980 386h0M1980 392v5M1980 393h0M1981 391h0M1981 383v7M1981 382v7M1982 401h0M1982 390v4M1982 392h0M1983 400v4M1983 397h0M1983 420v4M1984 389v5M1984 391v3M1984 398v7M1985 391v3M1985 421v2M1985 412h0M1986 424v4M1986 418v7M1986 420v4M1987 421v7M1987 424h0M1987 435v5M1988 437v7M1988 423v4M1988 398v7M1989 431v3M1989 429v5M1989 409v7M1990 411h0M1990 402v4M1990 416h0M1991 441h0M1991 441h0M1991 441h0M1992 439v4M1992 441h0M1992 441h0M1993 439v4M1993 439v3M1993 409v5M1994 432h0M1994 410h0M1994 433h0M1995 412v2M1995 408v3M1995 422v2M1996 395v7M1996 420v3M1996 405v3M1997 403v2M1997 418h0M1997 398h0M1998 398v2M1998 428v5M1998 436v7M1999 440h0M1999 439v5M1999 437v7M2000 439v3M2000 437v3M2000 433v7M2001 427v3M2001 440h0M2001 438v5M2002 427v5M2002 412h0M2002 395v5M2003 397v7M2003 406h0M2003 394h0M2004 420v7M2004 427h0M2004 401v5M2005 405v7M2005 382v2M2005 385h0M2006 385h0M2006 395v3M2006 384v3M2007 418v7M2007 388v4M2008 423v5M2008 409h0M2008 418h0M2008 400h0M2009 427v7M2009 400v2M2010 409h0M2010 413v2M2010 396v4M2010 394h0M2011 420v7M2011 385v4M2011 388v5M2012 383h0M2012 386v2M2012 386h0M2013 382v3M2013 385h0M2013 382v4M2014 383h0M2014 390v7M2015 388v4M2015 438h0M2015 411v7M2015 417v5M2016 426v2M2016 406v3M2016 381v7M2017 383h0M2017 420v5M2018 403v4M2018 392v5M2018 433h0M2019 402h0M2019 417v7M2019 437v4M2019 414h0M2020 431v3M2020 411h0M2020 406v2M2021 392v3M2021 383v2M2021 404v5M2022 386h0M2022 407h0M2022 416v4M2023 419v4M2023 430v5M2024 399v2M2024 393v5M2024 393v4M2024 433v2M2025 403h0M2025 388v5M2025 387v7M2026 398v7M2026 407h0M2026 444v7M2027 446v3M2027 428h0M2027 429v3M2028 424v2M2028 447h0M2028 448v7M2029 446v4M2029 445v4M2029 436h0M2030 449v7M2030 449h0M2031 452v4M2031 431h0M2031 449h0M2032 456h0M2032 445v4M2032 427v5M2032 423v3M2033 416v4M2033 426v5M2033 418h0M2034 437h0M2034 430h0M2035 440h0M2035 444v4M2035 413v4M2035 420h0M2036 438h0M2036 416v2M2036 412v5M2037 432h0M2037 415v7M2037 429v2M2038 413h0M2038 426h0M2038 417h0M2039 426h0M2039 414v2M2040 412v4M2040 412v3M2040 411v3M2040 411v3M2041 457h0M2041 432h0M2041 425v4M2042 420h0M2042 441v3M2042 438h0M2043 443h0M2043 439v2M2044 416h0M2044 410v5M2044 425v4M2044 427v5M2045 417h0M2045 397v4M2045 399v5M2046 397h0M2046 401h0M2046 412v4M2047 408v7M2047 405v4M2047 401v4M2048 392v3M2048 392v3M2049 389v5M2049 391h0M2049 392h0M2049 407h0M2050 398v2M2050 391v7M2050 406h0M2051 398v3M2051 398v3M2052 403h0M2052 397v2M2052 394h0M2053 414v5M2053 413h0M2053 416v5M2053 422v3M2054 417v7M2054 412v7M2054 417v7M2055 419v5M2055 394v4M2055 395h0M2056 404v7M2056 423v2M2056 413v7M2057 407v5M2057 388v7M2058 405h0M2058 407v4M2058 413v4M2059 416v4M2059 423v7M2059 424h0M2059 423v4M2060 424v4M2060 422v7M2061 421h0M2061 422h0M2061 426h0M2061 427h0M2062 409h0M2062 422v3M2062 420h0M2063 418h0M2063 403h0M2063 394h0M2064 394v5M2064 398h0M2064 402h0M2065 427v7M2065 435v4M2065 423v2M2066 438v4M2066 429v2M2066 445v4M2067 440v7M2067 451v4M2067 450h0M2068 438v7M2068 439h0M2068 427h0M2069 415v7M2069 412h0M2069 403v4M2070 415v7M2070 408h0M2070 419v4M2071 424v2M2071 413v5M2071 406h0M2072 403v2M2072 402v7M2073 430h0M2073 427v3M2073 438v7M2073 425v2M2074 422h0M2074 420v3M2074 430v7M2075 413h0M2075 403v7M2075 413h0M2076 442h0M2076 422v7M2076 435h0M2077 452v2M2077 450v5M2077 451v3M2078 441v3M2078 438v7M2079 448h0M2079 418v3M2079 405v4M2079 403v4M2080 403v3M2080 413v2M2080 410h0M2081 419v7M2081 427h0M2081 415h0M2082 413v2M2082 416h0M2082 418v7M2083 416v3M2083 433v2M2084 435h0M2084 408h0M2084 436v2M2084 429h0M2085 432v4M2085 423v4M2085 427h0M2086 419h0M2086 403v4M2087 403v5M2087 412h0M2087 410v4M2087 436v7M2088 426h0M2088 419h0M2088 429v7M2089 445h0M2089 437v7M2090 440h0M2090 436v2M2090 413v3M2090 435v4M2091 423h0M2091 440v3M2091 445h0M2092 436v7M2092 431h0M2092 440v5M2093 431h0M2093 441v7M2093 401v7M2094 427h0M2094 416h0M2094 429v7M2095 431v5M2095 437h0M2095 419v3M2096 401h0M2096 429h0M2096 420v4M2097 433v5M2097 415h0M2097 402h0M2098 402v2M2098 404v5M2099 408h0M2099 411v3M2099 406v2M2099 439h0M2100 438v4M2100 434v3M2100 440v5M2101 430h0M2101 424v3M2102 424v2M2102 435h0M2102 399h0M2102 431v5M2103 442h0M2103 445h0M2104 442v7M2104 444h0M2104 440v7M2105 443v2M2105 408v7M2105 402v2M2106 392v4M2106 395h0M2106 395h0M2106 399h0M2107 395v4M2107 411v7M2108 390v5M2108 432v3M2108 403v5M2109 412v3M2109 441h0M2109 412h0M2110 413v4M2110 414v4M2110 428h0M2110 436v2M2111 396h0M2111 401v3M2112 419v5M2112 438v3M2112 441v4M2112 429v3M2113 439h0M2113 434v2M2113 426v5M2114 418v2M2114 410v3M2114 424v2M2115 420h0M2115 439v5M2116 435v3M2116 439v4M2116 413v5M2116 397v5M2117 420v2M2117 434h0M2117 441v4M2118 439h0M2118 440h0M2118 441v3M2119 444h0M2119 441h0M2120 441v7M2120 432v5M2120 436v7M2120 437h0M2121 429v2M2121 437v2M2121 418v7M2122 418v5M2122 441v4M2123 434v3M2123 440v4M2123 442h0M2123 432v3M2124 435v5M2124 427v5M2125 433v3M2125 437h0M2125 426v4M2126 430h0M2126 400v7M2126 439v5M2126 391v2M2127 439v7M2127 422v5M2127 421h0M2128 398v4M2128 423v4M2129 443h0M2129 392v7M2129 401h0M2130 404v5M2130 422h0M2130 420h0M2130 415v7M2131 421v5M2131 415v3M2132 422v7M2132 424v3M2132 425v3M2133 424v4M2133 419h0M2133 410v2M2133 423h0M2134 425h0M2134 422v7M2134 423h0M2135 418h0M2135 419v3M2135 419h0M2136 406h0M2136 391h0M2136 404h0M2137 394h0M2137 394v4M2137 414v5M2138 406v3M2138 396v2M2138 381h0M2139 378v4M2139 393v4M2139 377v3M2140 377v4M2140 382v5M2140 417v3M2141 380v7M2141 397h0M2141 395v3M2142 394v4M2142 402h0M2142 402h0M2143 397h0M2143 414h0M2143 413v3M2144 403v5M2144 417h0M2144 421h0M2145 396v2M2145 422v7M2145 407h0M2146 398h0M2146 388h0M2146 396h0M2147 382h0M2147 384v3M2147 391v4M2148 427v7M2148 433v5M2149 432v5M2149 434v2M2149 449h0M2149 460v3M2150 464v2M2150 466v2M2150 466v2M2151 460h0M2151 451h0M2152 454v4M2152 458h0M2152 461v3M2152 439h0M2153 445v5M2153 412h0M2153 417v3M2154 426h0M2154 418h0M2155 436v3M2155 440v4M2155 428v4M2155 419v2M2156 433v3M2156 428v2M2157 437h0M2157 428v2M2157 420h0M2157 412h0M2158 442v2M2158 440v2M2158 452v4M2159 410v2M2159 437v3M2160 430v7M2160 431h0M2160 449h0M2160 429h0M2161 455v7M2161 462h0M2161 455h0M2162 426h0M2162 452h0M2163 465h0M2163 421v3M2163 450v7M2163 412v3M2164 448h0M2164 467h0M2164 452v7M2165 464h0M2165 421v7M2165 432v3M2166 400v7M2166 417v3M2167 411v5M2167 435v4M2167 415v5M2168 428v7M2168 434h0M2168 418h0M2168 411v2M2169 417v4M2169 431v7M2170 402v7M2170 417h0M2170 416h0M2171 411v5M2171 437v5M2171 441v5M2171 443h0M2172 426v7M2172 416v4M2173 413v4M2173 423h0M2173 419h0M2173 427h0M2174 402h0M2174 402h0M2174 402v4M2175 436v3M2175 403v5M2175 399v4M2176 399v2M2176 427h0M2176 432v2M2177 420h0M2177 426h0M2177 442v3M2178 442v4M2178 443v3M2179 432v5M2179 443h0M2179 438h0M2180 432v3M2180 436v3M2180 399v5M2180 417v3M2181 425h0M2181 412v4M2181 420v3M2182 425h0M2182 431v3M2183 434v7M2183 456v5M2183 462v3M2183 458v3M2184 448h0M2184 449v4M2184 461v4M2185 463h0M2185 467h0M2185 438v2M2186 454h0M2186 444h0M2186 437v2M2187 461h0M2187 422v5M2187 441h0M2188 462v3M2188 461v4M2188 438v5M2189 441h0M2189 442h0M2189 451v5M2190 431v2M2190 431v2M2190 430v2M2191 446v7M2191 454h0M2191 456v3M2192 459v2M2192 464h0M2192 455v4M2193 455v7M2193 466h0M2193 466v3M2194 463h0M2194 459v3M2194 449v7M2195 432h0M2195 430h0M2195 447v4M2196 419v7M2196 451h0M2197 446v4M2197 456v5M2197 443v3M2197 467v2M2198 463v7M2198 447v4M2198 435v5M2199 446h0M2199 452h0M2199 446h0M2200 442h0M2200 443v2M2201 443v2M2201 448v3M2201 440v5M2201 442h0M2202 440v5M2202 440v4M2202 439v7M2203 442v2M2203 442v2M2203 467h0M2204 451v2M2204 453h0M2204 454h0M2205 464v5M2205 469v4M2205 467v2M2206 455v5M2206 451v7M2207 456h0M2207 449v5M2207 473h0M2208 464v4M2208 454v7M2208 463v7M2209 476h0M2209 473h0M2209 475v2M2209 457v4M2210 460h0M2210 449h0M2210 458v2M2211 455h0M2211 457h0M2212 445h0M2212 450v3M2212 444h0M2213 443h0M2213 440v3M2213 466h0M2214 440v7M2214 442v7M2214 442v7M2215 442v3M2215 443v7M2215 452h0M2215 470v5M2216 475v4M2216 474v7M2216 476v2M2217 466v7M2217 469v2M2218 457h0M2218 466v2M2218 463v7M2218 467h0M2219 460h0M2219 453v3M2220 438v5M2220 441h0M2220 434h0M2220 432h0M2221 431v7M2221 460h0M2222 431v5M2222 433h0M2222 439v4M2222 439h0M2223 437h0M2223 440v3M2223 430v3M2224 449h0M2224 432v3M2224 444v7M2225 450v4M2225 422v5M2225 424h0M2226 426v2M2226 427v5M2226 425v5M2227 427h0M2227 431v5M2227 427h0M2228 443v5M2228 439v5M2228 425v2M2229 426h0M2229 429h0M2230 442h0M2230 445v3M2230 448h0M2230 428h0M2231 435v3M2231 421h0M2232 418h0M2232 414v7M2232 404v5M2232 416v4M2233 414v7M2233 426v7M2234 414h0M2234 385v5M2234 399h0M2235 414v4M2235 431h0M2235 409v7M2236 400v3M2236 424h0M2236 426v4M2236 429v2M2237 427h0M2237 398v2M2238 399h0M2238 395h0M2238 414v3M2238 428h0M2239 412h0M2239 417h0M2240 444h0M2240 426v2M2240 421v4M2241 416v2M2241 410v5M2241 406h0M2242 406h0M2242 406v2M2242 428v4M2243 445h0M2243 435h0M2243 416h0M2244 421v3M2244 412v7M2244 411v3M2244 406v4M2245 432v7M2245 435v2M2246 415v3M2246 422v5M2246 406v5M2247 413h0M2247 405v7M2247 437h0M2247 409v2M2248 448h0M2248 446h0M2249 426h0M2249 436v2M2249 421h0M2249 446h0M2250 416v5M2250 426h0M2250 431h0M2251 440h0M2251 435v7M2252 438v7M2252 469h0M2252 452v2M2253 454v2M2253 445v2M2253 439v5M2253 444v5M2254 447h0M2254 440v4M2255 443v5M2255 458h0M2255 437v7M2255 442h0M2256 444v2M2256 441h0M2256 443h0M2257 454h0M2257 483v7M2258 449v7M2258 480v7M2258 461h0M2259 450h0M2259 453h0M2259 446v3M2260 441v3M2260 445h0M2260 444v2M2261 440v2M2261 457h0M2261 467v4M2261 468v2M2262 472v2M2262 463v7M2263 447v5M2263 440v5M2263 423v4M2263 418h0M2264 404v4M2264 402h0M2265 402v5M2265 404v2M2265 410v4M2266 408h0M2266 408v2M2266 408v3M2267 424v4M2267 436h0M2267 432h0M2268 417v3M2268 411h0M2268 412v2M2268 405v3M2269 414h0M2269 403v2M2270 412v4M2270 428v3M2270 414h0M2271 429v2M2271 414v3M2271 422v4M2272 437v5M2272 455v7M2272 439h0M2273 456v2M2273 461v3M2273 453v3M2273 466v7M2274 460v4M2274 466v7M2275 472v4M2275 483v2M2275 486h0M2276 473v5M2276 485h0M2276 483v4M2276 483h0M2277 484v3M2277 485h0M2277 485h0M2278 481v2M2278 479h0M2278 475v3M2279 461v5M2279 466v7M2279 443v3M2280 475v4M2280 458v7M2280 446h0M2281 450v7M2281 485h0M2282 481v4M2282 475h0M2282 472v7M2282 483h0M2283 485h0M2283 481h0M2284 453v4M2284 442v7M2284 469h0M2284 473v2M2285 443h0M2285 460v5M2285 449v4M2286 460v2M2286 441v3M2287 471v2M2287 455h0M2287 449h0M2288 471h0M2288 478v3M2288 468h0M2289 452v2M2289 447v2M2289 432v4M2290 439v4M2290 448v7M2290 458v3M2291 453v4M2291 452v3M2291 447h0M2292 433v7M2292 431v7M2292 419v4M2293 421v7M2293 416v2M2293 414v3M2294 417h0M2294 417v2M2294 423v5M2294 419v2M2295 451h0M2295 439h0M2295 418v5M2296 420h0M2296 421v2M2296 422v5M2297 440v3M2297 429h0M2298 429h0M2298 421v5M2298 424h0M2298 445v3M2299 429v5M2299 443h0M2299 449v3M2300 440v2M2300 417v2M2300 415v2M2301 417v3M2301 426v4M2301 431v4M2302 452h0M2302 446v5M2303 415v4M2303 439v7M2303 441v3M2303 439v5M2304 413v7M2304 419v3M2305 423h0M2305 426v5M2305 434v2M2305 424h0M2306 424v3M2306 424v4M2306 416v2M2307 418h0M2307 421h0M2308 417v2M2308 429v7M2308 425v7M2308 426v5M2309 416h0M2309 423v3M2310 432v3M2310 432v5M2310 422h0M2310 418v7M2311 435h0M2311 431h0M2312 430v4M2312 427v2M2312 426v4M2312 428h0M2313 428v2M2313 445h0M2314 430h0M2314 421v7M2314 427h0M2314 424v5M2315 424v3M2315 441v5M2316 452h0M2316 444h0M2316 453v2M2317 454v5M2317 459v2M2317 459v2M2318 459h0M2318 457v3M2318 459h0M2318 456h0M2319 456v2M2319 431h0M2320 427h0M2320 444h0M2320 441v7M2320 433v5M2321 433h0M2321 438h0M2322 431v3M2322 430v7M2322 444h0M2322 442v4M2323 426h0M2323 428v5M2323 424v7M2324 439v4M2324 429h0M2325 418v2M2325 423v2M2325 414v2M2326 402v3M2326 400v5M2326 419h0M2326 388v4M2327 391h0M2327 403h0M2327 401v3M2328 396v5M2328 403v2M2328 419h0M2329 397v7M2329 397h0M2330 419v4M2330 412h0M2330 391h0M2331 391v7M2331 381v2M2331 402h0M2331 385h0M2332 383v3M2332 390v3M2332 382h0M2333 379v5M2333 384v7M2333 383v3M2334 383h0M2334 398h0M2335 380v5M2335 381h0M2335 378v7M2335 395v7M2336 398v7M2336 398h0M2336 401v3M2337 372v3M2337 380v3M2337 384h0M2338 368v7M2338 381v2M2339 387v2M2339 376v5M2339 383h0M2340 372h0M2340 369v4M2340 402h0M2341 395v5M2341 398v3M2341 396h0M2341 390v2M2342 365v4M2342 386h0M2343 358v5M2343 389v2M2343 364v7M2344 362v3M2344 361v3M2344 387v2M2345 390v5M2345 398v3M2345 365v3M2346 393v2M2346 372v5M2346 368v4M2347 375h0M2347 360h0M2347 365h0M2347 358h0M2348 357h0M2348 356v4M2348 361h0M2349 361v7M2349 354v7M2350 360h0M2350 364v5M2350 367v5M2350 395h0M2351 383v2M2351 389v7M2352 390v3M2352 387v5M2352 403v5M2352 390v4M2353 391h0M2353 391h0M2354 410v5M2354 407v4M2354 391v4M2355 387v5M2355 410h0M2355 388v2M2355 389v7M2356 404v2M2356 420v2M2356 434v7M2357 421h0M2357 424v3M2357 398v5M2358 425h0M2358 428h0M2359 424h0M2359 417v4M2359 427v2M2360 437v2M2360 421v7M2360 437v7M2360 438v7M2361 439h0M2361 440v3M2362 437h0M2362 440v2M2362 423v4M2363 394v2M2363 409v2M2363 389v4M2363 406v3M2364 432v5M2364 414h0M2365 423v7M1663 529h0M1663 524v3M1663 519h0M1663 516h0M1663 511h0M1663 508h0M1663 504h0M1663 499h0M1894 401v2M1894 395h0M1894 387h0M1894 378v3M1894 369h0M1894 360v2M1894 352v2M1894 350h0M1894 344v2M1894 343h0M1894 337v2M1894 336h0M1894 331h0M1936 385v2M1935 381v3M1936 378h0M1936 372h0M1936 366v2M1936 361h0M1936 358h0M1936 351h0M1936 346h0M1945 338h0M1944 334v2M1945 332h0M1945 329h0M1945 324v3M1945 322v2M1945 320h0M1945 316h0M1944 380h0M1945 374h0M1945 369v2M1945 363h0M1945 357h0M2000 389h0M2000 382v3M1999 378h0M2000 371v3M2000 368h0M2000 362h0M2000 356h0M1940 456v2M1940 446h0M1940 434v3M1687 439h0M1688 431v2M1687 424h0M1687 417v3M1688 408v3M1688 405h0M1688 396h0M1688 388v3"/>
<path class="d" stroke="#4f9c6a" stroke-width="4.5" d="M1667 390h0M1749 344h0M1616 500h0M1625 494h0M1974 353h0M2045 324h0M1853 365h0M1841 371h0M1902 470h0M2052 448h0"/>
<path class="ax" stroke-width="4.5" d="M1504.5 45.3 V660.7"/>
<path class="ax" stroke-width="3.9" d="M1504.5 658.8 H2406.7"/>
<path class="ax" stroke-width="3.8" d="M1504.5 598.8 h10.8 M1504.5 537.3 h10.8 M1504.5 475.8 h10.8 M1504.5 413.8 h10.8 M1504.5 351.8 h10.8 M1504.5 291 h10.8 M1504.5 230.7 h10.8 M1504.5 168 h10.8 M1504.5 107.2 h10.8 M1504.5 47.2 h10.8 M1654.6 658.8 v-11.8 M1804.6 658.8 v-11.8 M1954.7 658.8 v-11.8 M2104.8 658.8 v-11.8 M2254.8 658.8 v-11.8 M2404.9 658.8 v-11.8"/>
</g>
<g>
<text font-size="67.5" letter-spacing="0.7" transform="translate(2673.2 679.8) scale(0.95 1)" text-anchor="end">0</text>
<text font-size="67.5" letter-spacing="0.7" transform="translate(2673.2 618.4) scale(0.95 1)" text-anchor="end">10</text>
<text font-size="67.5" letter-spacing="0.7" transform="translate(2673.2 556.9) scale(0.95 1)" text-anchor="end">20</text>
<text font-size="67.5" letter-spacing="0.7" transform="translate(2673.2 495.5) scale(0.95 1)" text-anchor="end">30</text>
<text font-size="67.5" letter-spacing="0.7" transform="translate(2673.2 434.1) scale(0.95 1)" text-anchor="end">40</text>
<text font-size="67.5" letter-spacing="0.7" transform="translate(2673.2 372.7) scale(0.95 1)" text-anchor="end">50</text>
<text font-size="67.5" letter-spacing="0.7" transform="translate(2673.2 311.2) scale(0.95 1)" text-anchor="end">60</text>
<text font-size="67.5" letter-spacing="0.7" transform="translate(2673.2 249.8) scale(0.95 1)" text-anchor="end">70</text>
<text font-size="67.5" letter-spacing="0.7" transform="translate(2673.2 188.4) scale(0.95 1)" text-anchor="end">80</text>
<text font-size="67.5" letter-spacing="0.7" transform="translate(2673.2 126.9) scale(0.95 1)" text-anchor="end">90</text>
<text font-size="67.5" letter-spacing="0.7" transform="translate(2673.2 65.5) scale(0.95 1)" text-anchor="end">100</text>
<g transform="translate(2546.4 433.9) rotate(-90)" font-size="66"><text letter-spacing="-5.6" transform="translate(-2.1 0) scale(1.065 1)">MP</text><text transform="translate(90.3 14.6) scale(0.92 1)" font-size="51">5</text><text x="123.5" y="0">/cm</text></g>
<path class="d" stroke="#2e2079" stroke-width="6.4" d="M2686 469h0M2686 449v2M2687 462v7M2687 476h0M2687 500h0M2688 486h0M2688 487v5M2689 451v7M2689 464h0M2689 454v5M2690 447v5M2690 467v2M2690 475v3M2691 494v4M2691 481v2M2691 491h0M2692 468h0M2692 495h0M2692 495h0M2693 498v4M2693 499v2M2694 500h0M2694 488v3M2694 465v4M2694 461v5M2695 482h0M2695 450v5M2696 481v5M2696 500h0M2696 487v5M2697 494v4M2697 495v3M2697 495h0M2698 492v4M2698 461v3M2699 469h0M2699 450v2M2699 455v5M2699 447v4M2700 450h0M2700 445v7M2700 450v2M2701 450v3M2701 473v4M2702 495v3M2702 479v5M2702 487v7M2703 447v5M2703 480h0M2703 486v3M2704 487v3M2704 499v2M2704 489h0M2705 493v2M2705 498h0M2706 485v7M2706 450h0M2706 452v3M2706 458h0M2707 498v3M2707 499h0M2708 498h0M2708 488v7M2708 483v7M2709 492v5M2709 479v4M2709 462v5M2710 468v7M2710 467h0M2710 493v7M2711 490v5M2711 449h0M2712 448h0M2712 456v3M2712 446v5M2713 469h0M2713 491v2M2713 495h0M2714 501v4M2714 462v7M2714 469h0M2714 480v2M2715 498h0M2715 508h0M2716 505v5M2716 506v5M2716 506v5M2717 489v7M2717 508h0M2717 484v7M2718 504v2M2718 507v3M2719 498v3M2719 506v5M2719 502v7M2720 478v7M2720 476h0M2720 473v5M2721 488v2M2721 504h0M2721 501v2M2722 500h0M2722 493v4M2722 469h0M2723 463v4M2723 470h0M2723 495v2M2724 474h0M2724 480v5M2724 458h0M2725 499v4M2725 502v3M2726 472h0M2726 492v3M2726 495h0M2726 470h0M2727 501v5M2727 501v3M2728 502h0M2728 502v4M2728 502h0M2729 499v4M2729 476h0M2729 489v3M2730 500h0M2730 497v5M2731 488h0M2731 497h0M2731 501v3M2731 483v5M2732 498v7M2732 500v7M2733 502h0M2733 494v7M2733 494v7M2734 502h0M2734 471h0M2734 498v7M2735 490v4M2735 484h0M2736 475v2M2736 478v2M2736 495h0M2737 491v7M2737 499v7M2737 501v5M2738 492v3M2738 494v5M2738 459v4M2738 481v2M2739 488h0M2739 495h0M2740 471v5M2740 489h0M2740 457v2M2741 490v4M2741 481h0M2742 479v7M2742 438v3M2742 445v4M2742 404h0M2743 409h0M2743 395v4M2744 375v7M2744 391v3M2744 422v3M2745 449v4M2745 402v5M2745 459v4M2746 456v7M2746 417v5M2746 441h0M2747 408h0M2747 451h0M2748 422v4M2748 440h0M2748 452v2M2749 400h0M2749 392v2M2749 437v4M2750 441h0M2750 385h0M2750 378v3M2751 396h0M2751 378v4M2751 446v3M2752 447v2M2752 438h0M2752 430v4M2753 420v2M2753 421v2M2754 413h0M2754 404v7M2754 419v2M2754 369v5M2755 416h0M2755 373v3M2756 363v2M2756 380v4M2756 359h0M2757 358h0M2757 369v3M2757 355v4M2758 414v7M2758 369v3M2758 418v3M2759 358h0M2759 418h0M2759 354v7M2760 371h0M2760 398v4M2760 417v7M2761 411v5M2761 370h0M2762 394v2M2762 425v5M2762 438v3M2764 467h0M2764 464v5M2765 473h0M2765 456v5M2765 462v3M2766 461v4M2766 455v2M2766 456h0M2767 459h0M2767 480h0M2768 458v7M2768 457v2M2768 454v5M2769 453v4M2769 468h0M2769 473v7M2770 477h0M2770 480h0M2770 458v5M2771 466h0M2771 472h0M2771 452v5M2772 459h0M2772 469h0M2773 457v5M2773 461h0M2773 459h0M2773 457v2M2774 454v7M2774 455v7M2775 474v4M2775 467v5M2775 471v7M2776 458h0M2776 470v4M2776 456h0M2777 459h0M2777 449v4M2777 454v7M2778 462v7M2778 460v4M2779 477v4M2779 468v3M2779 449v4M2780 449v3M2780 470h0M2780 479h0M2780 479v3M2781 482h0M2781 463h0M2782 475v4M2782 462v7M2782 483v7M2783 470h0M2783 464v3M2783 455v4M2784 481v2M2784 470v5M2784 460v2M2785 456v5M2785 464h0M2786 460v5M2786 463v3M2786 462h0M2787 462v4M2787 461v5M2787 462v5M2788 462v5M2788 465v2M2788 463v7M2789 466v4M2789 477v2M2789 469v4M2790 477v2M2790 506v2M2791 498h0M2791 470v5M2791 472v4M2791 489h0M2792 500v3M2792 486v4M2793 492h0M2793 482v2M2793 497v5M2794 506v3M2794 480v7M2794 506v5M2795 484v7M2795 495h0M2795 510h0M2796 499v3M2796 530v7M2797 515v2M2797 533v3M2797 531v4M2798 529v3M2798 520v4M2798 523v3M2799 534h0M2799 496v7M2799 517v5M2800 516v7M2800 506h0M2800 533v4M2801 524v4M2801 519h0M2801 528h0M2802 534v2M2802 509v4M2802 501h0M2803 527v4M2803 524v7M2804 530v7M2804 533v5M2804 533v3M2805 534h0M2805 518h0M2805 504v4M2806 522v4M2806 500h0M2806 508v4M2807 516h0M2807 502h0M2808 499v5M2808 512v7M2808 511v3M2809 511v4M2809 503h0M2809 519v7M2810 528v7M2810 526v2M2810 518h0M2811 530h0M2811 526v7M2811 506v5M2812 527v5M2812 521v7M2812 493h0M2813 492h0M2813 494h0M2813 497v5M2814 491h0M2814 495h0M2814 485v7M2815 492h0M2815 505v2M2816 489h0M2816 486h0M2816 489h0M2817 515v5M2817 491v4M2817 517v7M2818 503v3M2818 497v2M2818 519h0M2819 500h0M2819 501v5M2820 510v5M2820 501v5M2820 520v2M2821 514h0M2821 505v5M2821 499v5M2822 513h0M2822 486h0M2822 485h0M2823 521v3M2823 496h0M2823 517v7M2824 519v3M2824 520v5M2825 515v2M2825 507v4M2825 511v3M2825 507v5M2826 521v2M2826 522h0M2827 506v4M2827 507h0M2827 486v5M2828 487v2M2828 493h0M2828 499v4M2829 504h0M2829 490v4M2829 490h0M2830 499v4M2848 409h0M2849 433v7M2849 425v7M2850 437h0M2850 427v7M2850 393v2M2851 390h0M2851 388v4M2851 390h0M2852 408h0M2852 426v7M2852 394h0M2853 412v2M2853 435h0M2853 395h0M2854 393v7M2854 429h0M2854 432h0M2855 435v4M2855 437h0M2855 424v3M2856 430v4M2856 435v4M2856 434h0M2857 386v3M2857 421v5M2858 387h0M2858 415v7M2858 383v7M2859 393v2M2859 415h0M2859 416h0M2860 428v3M2860 413v2M2860 419v2M2861 410v7M2861 431v4M2861 420v7M2862 393v2M2862 426h0M2862 412h0M2863 406v2M2863 420h0M2864 397h0M2864 383v4M2864 382v5M2865 384h0M2865 395h0M2865 382v5M2866 421v2M2866 385v3M2866 384v4M2867 382v4M2867 399v5M2867 387v2M2868 384h0M2868 382v7M2869 381v7M2869 386v3M2869 384v2M2870 383v4M2870 388v5M2870 383v4M2871 398v3M2871 381v5M2871 382v2M2872 383h0M2872 383h0M2873 390h0M2873 384v3M2873 414h0M2874 380v7M2874 408v2M2874 405v7M2875 437v7M2875 453h0M2875 457v4M2876 449v7M2876 435h0M2876 426v4M2877 439v4M2877 437h0M2877 453h0M2878 441h0M2878 431h0M2878 421v5M2879 415h0M2879 421v2M2880 414h0M2880 413v2M2880 417h0M2881 413v4M2881 416h0M2881 419h0M2882 421v4M2882 457h0M2882 458v2M2883 423h0M2883 417v3M2883 458v5M2884 457v5M2884 424v7M2884 412v4M2885 424h0M2885 436h0M2885 403v3M2886 384v7M2886 396v5M2886 431v4M2887 405v3M2887 423v3M2888 431h0M2888 405v4M2888 419v5M2889 424h0M2889 432h0M2889 431v5M2890 431v3M2890 431v3M2891 413v4M2891 400v5M2891 419v2M2891 424v7M2892 403v7M2892 408v3M2893 407v2M2893 385v5M2893 423h0M2894 381v5M2894 387h0M2894 382v4M2895 383v3M2895 384h0M2895 384v2M2896 389v5M2896 389h0M2896 408h0M2897 388h0M2897 412h0M2897 383v7M2898 402v4M2898 400v4M2898 410h0M2899 417h0M2899 413v3M2900 401h0M2900 401v2M2900 385h0M2901 397v4M2901 414h0M2901 391v3M2902 430v4M2902 415h0M2902 387v3M2903 408v3M2903 399h0M2903 397h0M2904 386v3M2904 382v3M2904 381h0M2905 371v2M2905 375h0M2906 385h0M2906 371h0M2906 374v4M2907 377h0M2907 371h0M2907 370v2M2908 373h0M2908 370v3M2908 372v4M2909 379v2M2909 383v5M2909 373v2M2910 385v4M2910 395v7M2911 399h0M2911 399h0M2911 397h0M2911 399h0M2912 398h0M2912 394h0M2913 397v3M2913 379h0M2913 398h0M2914 378v5M2914 394v5M2915 396h0M2915 385v2M2915 377v3M2916 369v4M2916 372v7M2916 379v5M2917 368v4M2917 365v2M2917 368v7M2918 374v3M2918 359v2M2918 382v3M2919 377v7M2919 360v7M2919 368v4M2920 382v3M2920 378h0M2920 383v4M2921 362v2M2921 383v5M2922 381v4M2922 383v2M2922 384v2M2923 369v3M2923 387h0M2923 382v5M2924 381h0M2924 368v5M2924 370v5M2925 382h0M2925 380v5M2925 379v3M2926 378h0M2926 344h0M2926 369v7M2927 366v4M2927 370h0M2927 366v7M2928 370v2M2928 368v4M2929 369v2M2929 338v5M2929 337v2M2930 347v4M2930 341v5M2930 352v2M2931 365h0M2931 365h0M2931 333v7M2932 345v4M2932 334v5M2932 352v5M2933 350h0M2933 355h0M2934 363v3M2934 333v7M2934 343v3M2934 360h0M2935 338v5M2935 341h0M2936 345v2M2936 339h0M2936 337v4M2937 339h0M2937 354h0M2937 354h0M2938 358v2M2938 352v7M2938 358h0M2939 357h0M2939 353v7M2940 354v4M2940 349v7M2940 353v4M2941 347v7M2941 344h0M2974 503h0M2974 486v7M2975 519v3M2975 523v3M2976 517v3M2976 512h0M2976 489v7M2977 493v7M2977 494v2M2977 497v5M2978 494h0M2978 518h0M2979 502h0M2979 487v4M2979 491v3M2979 492h0M2980 490h0M2980 498v3M2981 494v2M2981 497h0M2981 524v3M2982 524v3M2982 524h0M2982 524v5M2983 522v7M2983 493v2M2983 505v2M2984 501v3M2984 496v2M2984 513v5M2985 524v7M2985 493h0M2986 513v7M2986 490v2M2986 511v2M2987 520v2M2987 505v3M2987 490v4M2987 515h0M2991 409v4M2991 427v5M2991 444v5M2992 411v5M2992 434v7M2992 444h0M2993 411v2M2993 449h0M2994 433v4M2994 448h0M2994 448v3M2994 448v7M2995 424h0M2995 445v7M2995 429v3M2996 440v4M2996 447v3M2997 417h0M2997 451h0M2997 448v2M2998 429h0M2998 422v3M2998 443h0M2999 437h0M2999 400v4M3000 446v5M3000 427v2M3000 408h0M3000 426v7M3001 408h0M3001 409v2M3002 417h0M3002 449h0M3002 451h0M3003 450v3M3003 450v2M3003 451h0M3004 442v7M3004 450h0M3004 427h0M3005 413h0M3005 421v3M3005 446v7M3006 448v7M3006 441h0M3006 448v7M3007 444h0M3007 438v3M3007 439v5M3008 405v5M3008 426h0M3009 408h0M3009 408v2M3009 444v2M3010 425v4M3010 405h0M3010 446v3M3011 399v4M3011 428v2M3011 425h0M3012 444h0M3012 447v7M3013 433h0M3013 414h0M3013 448v4M3014 437v4M3014 441h0M3014 449v5M3015 451h0M3015 417v3M3015 439v3M3016 414v2M3016 397v3M3016 401h0M3017 419v2M3017 425h0M3017 407h0M3018 413v5M3018 399v4M3018 418h0M3019 425v7M3024 472v3M3024 449v2M3024 466v3M3025 468h0M3025 447v5M3025 442v4M3026 441v2M3026 452h0M3026 440h0M3027 439v4M3027 444h0M3028 439v3M3028 438v5M3028 437v7M3029 442v5M3029 447v7M3029 459h0M3030 462v4M3030 474v2M3030 469v2M3031 466h0M3031 468h0M3031 450h0M3032 464v4M3032 461v3M3032 469h0M3034 488h0M3035 461h0M3035 464v7M3035 462h0M3036 462h0M3036 461v3M3036 461v4M3037 477v2M3037 464h0M3037 464h0M3038 462v3M3038 464h0M3039 463v5M3039 484v3M3039 491v4M3040 484h0M3040 490h0M3040 490v7M3040 467h0M3041 485v3M3041 480h0M3042 483v5M3042 495h0M3042 494h0M3043 488v4M3043 493h0M3043 493v7M3044 494h0M3044 475v3M3044 489v3M3045 474h0M3045 470v5M3045 476h0M3046 471v5M3046 495h0M3046 471v3M3047 496h0M3047 480v2M3048 474v2M3048 472h0M3048 484v5M3049 497v5M3049 473h0M3049 474v3M3050 486v4M3050 500v3M3050 488v3M3051 501h0M3051 482h0M3052 471v7M3052 498v5M3052 487v4M3052 475v5M3053 478v2M3053 497v7M3054 479v5M3054 498v2M3054 476v5M3055 480h0M3055 477h0M3055 483v4M3056 478v3M3056 474v7M3056 475v5M3057 483h0M3057 480v4M3057 481v3M3058 482v3M3058 490v2M3058 481v4M3059 506h0M3059 479v3M3060 485v3M3060 489v5M3060 483v5M3061 506v7M3061 507v4M3061 504v4M3062 508h0M3062 511v4M3062 508v2M3063 507v7M3063 485h0M3064 483v2M3064 485h0M3064 501v2M3064 514h0M3065 494h0M3065 492h0M3065 513v2M3066 514v5M3066 517h0M3067 506v5M3067 512v5M3067 507v4M3068 503h0M3068 514v4M3069 514v5M3069 517v2M3069 490h0M3070 510v5M3070 504v2M3070 493h0M3070 492v5M3071 497v2M3071 490h0M3071 517h0M3072 503v4M3072 498h0M3073 496v2M3073 492v4M3075 443h0M3075 444v4M3075 420h0M3076 412h0M3076 426v2M3077 416h0M3077 403v5M3077 403v5M3078 404v2M3078 405h0M3078 409v3M3079 425v4M3079 421v3M3079 408v2M3080 408v2M3080 403v4M3080 413h0M3081 414v4M3081 403v3M3081 425h0M3082 408h0M3082 410v5M3082 442v5M3083 444v3M3083 423v3M3084 435v7M3084 446v4M3084 455v4M3084 444v2M3085 420v4M3085 405v2M3086 430h0M3086 439v5M3086 442h0M3087 456h0M3087 451h0M3087 434h0M3088 452h0M3088 409v7M3089 417h0M3089 421v5M3089 441v4M3090 447h0M3090 442v3M3090 443h0M3091 454h0M3091 454h0M3091 449v2M3092 415h0M3092 435v2M3092 449v5M3093 443v2M3093 419h0M3093 447v2M3094 453v5M3094 456h0M3095 408v5M3095 453v5M3095 436v4M3095 449v2M3096 433v4M3096 415h0M3096 450v2M3097 406v2M3097 409h0M3098 409v3M3098 405h0M3098 405v4M3100 413v3M3100 413h0M3101 423v7M3101 426h0M3101 425v7M3102 410v7M3102 414h0M3103 412v7M3103 437h0M3103 409v7M3104 419v5M3104 415h0M3105 427v4M3105 419h0M3105 436v2M3105 440h0M3106 438h0M3106 422v4M3107 421h0M3107 435v2M3107 427h0M3108 422v3M3108 421v3M3108 419v3M3109 436h0M3109 437v7M3109 416h0M3110 422h0M3110 421h0M3110 420v4M3111 436v4M3111 418v3M3111 452v2M3112 425v5M3112 459v7M3112 434v4M3113 462v3M3113 448v3M3114 463h0M3114 461v2M3114 461v4M3115 455v2M3115 454v5M3115 462v4M3116 460v4M3116 463h0M3116 460v3M3117 461v4M3117 462v2M3117 450v3M3118 434h0M3118 439h0M3118 428v5M3119 425h0M3119 445v4M3120 424h0M3120 434h0M3120 420h0M3121 426v7M3121 426h0M3121 438h0M3122 448h0M3122 447h0M3122 460v2M3123 461v4M3123 442h0M3124 440v2M3124 462h0M3124 421h0M3125 446h0M3125 446v4M3125 434h0M3126 420h0M3126 457v5M3126 469h0M3127 468h0M3127 469h0M3127 463v2M3128 431v5M3128 417h0M3129 422v4M3129 421h0M3129 456v3M3129 423h0M3130 435h0M3130 467v2M3131 421v4M3131 401v2M3131 398v4M3132 400h0M3132 411v7M3132 413v3M3133 458v4M3133 404v2M3133 429v4M3134 401h0M3134 397v7M3134 417v7M3135 402v4M3135 462h0M3135 400h0M3136 426v4M3136 428h0M3136 423h0M3137 459h0M3137 457v5M3138 463v2M3138 464v5M3138 403v7M3139 468h0M3139 437v4M3140 463h0M3140 467v2M3140 436h0M3141 430v2M3141 450h0M3141 451v7M3141 464h0M3142 469h0M3142 428v5M3143 434h0M3143 406h0M3143 386v3M3144 424h0M3144 410v4M3144 382v3M3145 427h0M3145 428v4M3145 382v2M3146 393v2M3146 397h0M3147 390h0M3147 390h0M3147 402v7M3147 433v3M3148 389v5M3148 405v3M3149 403h0M3149 438h0M3149 442v3M3149 445h0M3150 434h0M3150 401v2M3151 387v7M3151 417v5M3151 420v2M3152 383h0M3152 417v3M3153 440h0M3153 427v4M3153 380v5M3153 387h0M3154 427v3M3154 399v3M3154 421h0M3155 416v7M3155 407h0M3156 411h0M3156 430v3M3156 425h0M3157 411v7M3157 404h0M3157 415h0M3158 400h0M3158 404h0M3158 384v7M3159 399v3M3159 395v3M3159 417v2M3160 390h0M3160 399v5M3160 419v7M3161 407v7M3161 386v2M3162 392v5M3162 413h0M3162 419v5M3163 416v2M3163 402h0M3163 411v7M3164 416v3M3164 428v3M3164 431h0M3165 411v4M3165 396h0M3166 386v2M3166 388v5M3166 415v5M3167 431v7M3167 434h0M3167 442v5M3168 432v5M3168 436v4M3168 426v2M3169 435h0M3169 449h0M3169 426v5M3170 416h0M3170 414v4M3170 438v3M3171 447v7M3171 450v2M3171 431v4M3172 452h0M3172 450v2M3173 451h0M3173 440h0M3173 429h0M3174 447h0M3174 439v2M3174 426v4M3175 453h0M3175 450v3M3176 412h0M3176 403v7M3176 417v3M3176 447v4M3177 451v4M3177 447v4M3178 410h0M3178 407v7M3178 411h0M3179 438v3M3179 451h0M3179 421v3M3180 423h0M3180 442v5M3180 417v3M3181 406h0M3181 408v3M3179 318v3M3179 340v4M3180 313v5M3180 320v2M3180 333v7M3181 322v2M3181 328v5M3181 320v7M3182 310v5M3182 344h0M3182 315h0M3183 332v5M3183 336v7M3183 324v2M3184 335v4M3184 327v5M3185 330h0M3185 324h0M3185 330h0M3185 327v7M3186 339h0M3186 345h0M3187 314h0M3187 325v4M3187 332v7M3188 335h0M3188 317v2M3188 341h0M3189 319v7M3189 337h0M3190 336h0M3190 320h0M3190 342v5M3191 332v3M3191 325h0M3191 328h0M3192 345h0M3192 340v2M3192 342v5M3192 345h0M3193 343v3M3193 334v2M3194 341v3M3194 344v2M3194 342h0M3195 344v2M3195 342h0M3195 344h0M3196 341v7M3196 341v4M3197 340h0M3197 320h0M3197 353h0M3198 351v5M3198 352h0M3198 341h0M3199 337h0M3199 351v4M3199 352h0M3200 318h0M3200 329h0M3200 318v4M3201 325v2M3201 344v4M3201 326v2M3202 326v3M3202 350v5M3203 350v7M3203 352h0M3203 353h0M3203 350v3M3204 319v2M3204 327v5M3205 336h0M3205 342h0M3205 333v4M3206 321v7M3206 345h0M3206 349v7M3207 348h0M3207 340v7M3208 319h0M3208 335v2M3208 337h0M3209 334v4M3209 346v5M3209 356v3M3210 352v3M3210 359v3M3210 345v7M3211 355h0M3211 373h0M3211 359h0M3212 358v2M3212 349v4M3212 346v7M3213 354v5M3213 352h0M3213 347v2M3214 350v5M3214 347h0M3215 347h0M3215 347v2M3215 348v2M3215 347v2M3216 345v5M3216 348h0M3217 348h0M3217 364v5M3218 420h0M3218 413v7M3219 401v7M3219 419v4M3219 405v5M3220 405v4M3220 422v3M3220 410h0M3221 429v7M3221 406v5M3221 457v2M3222 407v3M3222 431h0M3222 432h0M3223 441h0M3223 402v7M3223 430v2M3224 402v7M3224 406v4M3225 442h0M3225 460v2M3225 432v3M3226 458v7M3226 461v4M3226 463h0M3227 448h0M3227 460h0M3227 462h0M3228 426v4M3228 430v3M3230 335v7M3230 338h0M3230 337v2M3231 335v7M3231 336v3M3232 336v3M3232 337v2M3232 336v4M3233 334v7M3233 336v4M3233 338h0M3234 341h0M3234 353v7M3235 336v7M3235 351v7M3235 348v2M3235 349v7M3236 339h0M3236 354h0M3236 343h0M3237 344v3M3237 344v3M3238 351v5M3238 351h0M3238 338v3M3239 339h0M3239 335v5M3239 336v3M3240 344v3M3240 354v4M3240 353v5M3241 350v4M3241 347v5M3241 355h0M3242 351v3M3242 345h0M3242 344v3M3243 341v5M3243 338h0M3232 384v7M3232 404h0M3233 398h0M3233 401h0M3234 394v4M3234 372v7M3234 376v2M3235 377v7M3235 390v5M3235 378h0M3236 382v2M3236 378v3M3236 397v2M3237 387h0M3237 400h0M3237 396v7M3238 389v3M3238 397v3M3239 402h0M3239 395h0M3239 384v4M3240 395h0M3240 383v4M3240 396v3M3241 395h0M3241 399h0M3240 435v2M3240 432v4M3240 428v3M3241 415v5M3241 416h0M3242 419h0M3242 439h0M3242 433v7M3242 449h0M3243 446v3M3243 449h0M3244 415v4M3244 414v3M3244 436v4M3245 445h0M3245 454h0M3245 446v2M3246 425h0M3246 437v2M3246 421h0M3247 449h0M3247 427v7M3248 416v2M3248 430h0M3248 412v2M3249 409v7M3249 429h0M3249 412h0M3250 457v4M3250 460h0M3250 435h0M3251 427v2M3251 432v2M3251 447v7M3252 445h0M3252 430h0M3252 409v5M3253 411h0M3253 435v2M3254 416h0M3254 444v2M3254 438h0M3255 428h0M3255 451v2M3255 466v3M3256 463h0M3256 459v2M3256 458v3M3257 468h0M3257 460h0M3257 465v5M3258 465v2M3258 465v7M3259 443h0M3259 426v5M3259 405v7M3259 407v4M3260 405v7M3260 409v3M3261 416v3M3261 413v5M3261 411v3M3264 479v3M3264 503v2M3264 491h0M3265 465v4M3265 466v3M3265 466v3M3266 474v2M3266 485v5M3267 493h0M3267 497v7M3267 470v4M3268 496h0M3268 466v3M3268 477h0M3269 468h0M3269 465v5M3269 465v5M3270 492v5M3270 486h0M3271 465v5M3271 497v7M3271 482v4M3271 478h0M3272 486h0M3272 505v3M3272 491h0M3273 507v2M3273 505h0M3274 505v5M3274 506v3M3274 507h0M3275 492v3M3275 507h0M3275 505v4M3276 503v5M3276 499v5M3276 504h0M3277 492v3M3277 498v7M3277 451h0M3278 438v7M3278 453v2M3279 488v4M3279 456v5M3279 480h0M3279 493v7M3280 440h0M3280 479v2M3281 452v4M3281 442v7M3282 463h0M3282 471v4M3282 454v4M3282 484v2M3283 460h0M3283 460v4M3286 367v7M3286 369v3M3286 360h0M3287 372h0M3287 367v4M3288 363v4M3288 392v7M3288 381h0M3289 398h0M3289 381h0M3289 364h0M3289 384v7M3290 408v2M3290 409h0M3291 408v2M3291 403v3M3291 386v4M3292 382v2M3292 368h0M3292 377v3M3293 366h0M3293 371v2M3294 372v2M3286 405v7M3286 409v3M3287 397v7M3287 398v7M3288 410h0M3288 410h0M3288 382v4M3289 410h0M3289 406h0M3289 408v5M3290 400v3M3290 387v5M3290 380h0M3291 379v7M3291 377v7M3292 395h0M3292 402v5M3292 404h0M3293 378h0M3293 377v5M3293 385v2M3294 383v4M3294 385v2M3294 378v5M3295 395v4M3295 407v3M3295 382v3M3296 388v4M3296 396v5M3297 374v7M3297 406v5M3297 408v3M3298 393v4M3298 407v5M3298 409v2M3299 393v5M3299 401h0M3299 410h0M3300 410h0M3300 406v7M3300 405h0M3301 380v7M3301 377v4M3301 382v5M3302 374v7M3302 397h0M3303 382v4M3301 530h0M3302 501v5M3302 491v2M3302 492h0M3303 521v4M3303 520h0M3303 543h0M3304 543v5M3304 541h0M3305 544v2M3305 506v5M3305 511h0M3305 530v2M3306 505h0M3306 495v7M3307 493h0M3307 515h0M3307 519v5M3308 515v2M3308 496v5M3308 540v7M3309 528h0M3309 538v2M3309 546h0M3310 534h0M3310 529v4M3310 493v5M3311 532v7M3311 530v7M3312 524h0M3312 514v3M3312 493v3M3313 517v4M3313 507v5M3313 534h0M3314 546h0M3314 542h0M3314 539h0M3315 498v5M3315 494v4M3315 496h0M3316 498h0M3316 499h0M3316 496v4M3317 520v5M3317 490v4M3318 491v3M3318 526h0M3318 515h0M3319 489v7M3319 491v2M3319 503v2M3320 466h0M3320 465v4M3321 455h0M3321 453v5M3321 455v2M3322 464h0M3322 478v5M3322 477v2M3323 479v2M3323 478v4M3323 458h0M3324 455v7M3324 455h0M3324 466h0M3325 454v5M3325 459h0M3325 457v4M3326 454h0M3326 461v4M3327 458v2M3328 538v7M3329 534v3M3329 537h0M3329 542h0M3330 541h0M3330 542h0M3331 541v2M3331 540v2M3331 531v4M3331 525v2M3332 517v7M3332 524h0M3333 515v7M3333 533v4M3333 537v5M3334 537v4M3334 538h0M3334 524v3M3335 493h0M3335 467v5M3335 475h0M3336 495v7M3336 494v2M3336 496h0M3337 465v2M3337 489v7M3337 501h0M3338 513v4M3338 516h0M3339 475h0M3339 515v5M3339 521h0M3340 465v4M3340 475v7M3340 483h0M3341 466v7M3341 464v7M3341 485h0M3342 511v7M3342 520v4M3342 467v3M3343 494v5M3343 468v5M3343 464v5M3344 482v2M3344 478v3M3345 522h0M3345 511h0M3345 470v4M3346 476h0M3346 488v3M3346 490v7M3347 476v4M3347 521h0M3347 518v4M3348 467v4M3348 496v5M3348 489v2M3349 505h0M3349 520v2M3345 431v4M3345 420v4M3346 421v5M3346 437h0M3346 429v7M3347 427v7M3347 438v5M3347 439v3M3348 443h0M3348 441v7M3348 421v4M3349 444v2M3349 437v3M3349 443v5M3350 422v2M3350 422v3M3351 431v5M3351 454h0M3351 448h0M3352 455v4M3352 457h0M3352 457v4M3352 456v7M3353 461h0M3353 435h0M3354 431h0M3354 431h0M3354 458v7M3355 428v4M3355 430v2M3355 430v5M3356 462v2M3356 438h0M3356 436v5M3357 463v2M3357 464v7M3357 465v2M3358 467h0M3358 473h0M3359 455h0M3359 465h0M3359 439v7M3360 453h0M3360 453h0M3360 448v7M3361 443v2M3361 455v7M3362 449v5M3362 464v7M3362 463v2M3362 479h0M3363 472v2M3363 449v2M3363 458h0M3364 479h0M3364 474h0M3381 414h0M3381 425v4M3382 413v2M3382 446h0M3382 418v2M3383 416v3M3383 413h0M3383 410v7M3384 413h0M3384 414v4M3384 414v7M3385 441h0M3385 425h0M3385 442h0M3386 433h0M3386 413v2M3387 414h0M3387 445v4M3387 417v4M3388 425v2M3388 421h0M3388 446v4M3389 419v4M3389 442h0M3389 414h0M3390 424v2M3390 428v5M3390 448v3M3391 430v7M3391 444v5M3391 443v5M3392 434h0M3392 421v5M3393 427v2M3393 441h0M3393 435v3M3394 442v7M3394 429v3M3394 440v4M3390 395v7M3390 403v4M3391 393h0M3391 393v4M3391 386v3M3392 411v2M3392 404h0M3392 398v5M3393 398v2M3393 389h0M3393 394h0M3394 400v5M3394 384v7M3394 387h0M3395 384v4M3395 385v4M3395 393h0M3396 402v5M3396 413h0M3397 407v4M3397 404v4M3397 413h0M3398 413h0M3398 414h0M3398 411v3M3399 411v5M3399 410v7M3399 412h0M3400 401v4M3400 410v7M3400 410v7M3401 411v5M3401 403h0M3401 403v5M3402 387h0M3402 388h0M3402 384v7M3403 393h0M3403 398v2M3404 389h0M3404 400h0M3404 410v7M3405 412v2M3405 410v4M3405 413h0M3406 411v5M3406 411v3M3403 424v3M3404 438h0M3404 458v2M3404 447v7M3405 461h0M3405 455v5M3406 441v4M3406 432v7M3406 440v4M3406 460h0M3407 461h0M3407 445v3M3408 456v5M3408 427h0M3408 422v4M3409 420v7M3409 420v7M3409 421v5M3410 479h0M3410 479v3M3410 479v4M3411 475v2M3411 479h0M3411 452v3M3412 477v7M3412 477h0M3413 476h0M3413 427v4M3413 438h0M3414 423h0M3414 424v7M3414 427h0M3415 423v2M3415 424v4M3415 458v5M3427 427h0M3428 432v4M3428 471v4M3428 463v4M3429 447v5M3429 449v4M3430 419v4M3430 421h0M3430 421h0M3430 433v4M3431 424h0M3431 431h0M3431 422v7M3432 466v7M3432 428h0M3433 445h0M3433 417v7M3433 463v5M3434 471v3M3434 473v3M3434 468v3M3435 466h0M3435 428h0M3435 444h0M3436 440v7M3436 465v3M3436 469h0M3437 462h0M3437 455v5M3438 452v7M3438 444v3M3438 472v4M3439 421h0M3439 468h0M3439 450v7M3440 438h0M3440 433h0M3440 466v2M3441 475h0M3441 473h0M3441 462v5M3442 449v2M3442 420v4M3438 396h0M3438 421h0M3438 416v7M3439 416v5M3439 409v3M3440 403v2M3440 395v3M3440 414h0M3441 387v4M3441 390h0M3441 411v5M3442 390h0M3442 415v5M3443 391h0M3443 393v4M3443 383v7M3444 409h0M3444 420v2M3444 419h0M3445 422h0M3445 418h0M3445 404v3M3446 422h0M3446 417v7M3446 418v7M3447 410h0M3447 400v5M3447 407v5M3448 413v7M3448 421h0M3449 418v2M3449 390h0M3449 418v7M3449 418v4M3450 414v7M3450 420v4M3451 393v5M3451 421h0M3451 408v7M3451 413v3M3452 386v3M3452 386h0M3453 393h0M3453 389h0M3453 395h0M3454 420h0M3454 398h0M3451 423v7M3452 463v4M3452 461h0M3453 392h0M3453 407v2M3453 393v5M3454 456v2M3454 402v3M3454 428v7M3455 417v5M3455 406v3M3455 404v5M3456 405h0M3456 442h0M3456 422h0M3457 446v4M3457 442v5M3457 438v7M3458 464v7M3458 462v7M3458 468h0M3459 467h0M3459 468h0M3460 425v2M3460 454v7M3460 466h0M3460 396v5M3461 462h0M3461 466h0M3461 466v5M3462 441v3M3462 425v4M3463 390v4M3463 451v4M3463 458h0M3464 454h0M3464 390v4M3464 416v4M3465 415h0M3465 425v2M3466 440v7M3466 408v3M3466 398h0M3466 434v2M3467 404v4M3467 403h0M3468 389h0M3468 385v5M3468 405v2M3469 398v2M3469 390h0M3469 384v5M3470 390h0M3470 409v4M3470 419v4M3471 404h0M3471 386v2M3471 425h0M3472 403h0M3472 404v7M3473 392v5M3473 431h0M3473 395h0M3474 385v3M3474 425h0M3474 387v2M3475 403v4M3475 384v7M3475 393h0M3476 403h0M3476 417v5M3477 399h0M3477 419v2M3477 419v3M3477 422v4M3478 429v3M3478 414v7M3479 402v7M3479 432h0M3479 405v5M3480 433h0M3480 429v7M3480 411h0M3481 406h0M3481 433v2M3481 428h0M3482 420v4M3482 416v2M3482 420v5M3483 426h0M3483 416h0M3483 404v5M3484 431v4M3484 400v2M3485 430v4M3485 407v3M3485 429h0M3486 427v7M3486 430h0M3486 428h0M3487 433h0M3487 417h0M3487 424v4M3488 432v4M3488 407h0M3488 430v5M3489 408h0M3489 407v3M3489 396h0M3490 388h0M3490 432h0M3481 456v4M3482 457v3M3482 456v2M3483 458h0M3483 456v3M3483 452v4M3484 454v4M3484 458h0M3484 458h0M3485 454v2M3485 453v5M3485 458h0M3485 448h0M3486 448v7M3486 457v2M3487 458h0M3487 456v3M3487 455v7M3488 455v7M3488 455v7M3488 455v7M3489 456v5M3489 457v3M3490 455v7M3490 458h0M3490 447v5M3491 397h0M3491 378v5M3492 382v7M3492 394v5M3492 398v4M3493 406h0M3493 389v4M3493 400v3M3494 394h0M3494 401v5M3495 373v5M3495 403h0M3495 385v7M3495 396v3M3496 405v4M3496 399h0M3497 389v7M3497 388h0M3497 409h0M3498 396v4M3498 407v4M3498 381v4M3499 392v4M3499 389v2M3499 387h0M3500 386h0M3500 397h0M3500 398v5M3501 394v2M3501 395h0M3502 390v2M3502 379v7M3502 377h0M3503 399v3M3503 383v4M3503 376v2M3504 373v7M3504 375v2M3504 380h0M3505 395h0M3505 391v7M3505 407v5M3506 408h0M3506 400h0M3506 382h0M3507 383h0M3507 392v3M3508 399v5M3508 390v7M3508 388h0M3509 374v5M3509 371v7M3509 373v3M3510 371v7M3510 374v2M3510 377v4M3511 379h0M3511 398h0M3511 383h0M3512 375h0M3512 377h0M3513 375v3M3513 407h0M3513 406h0M3514 392v2M3514 396h0M3514 394h0M3510 355v4M3510 335v7M3510 354h0M3511 357v7M3511 351v4M3512 351v3M3512 337h0M3512 333v7M3513 342h0M3513 335v2M3513 339h0M3514 336h0M3514 334v3M3515 333v5M3515 335h0M3515 333v5M3515 333v4M3516 334v3M3516 336h0M3517 333v4M3517 335v7M3517 334v4M3518 337v3M3518 334v5M3518 336h0M3519 340v7M3519 340v2M3519 334v2M3520 344v7M3520 336h0M3520 338v3M3521 336h0M3521 334v3M3522 354v7M3522 341v2M3522 343h0M3522 332v7M3523 360v5M3523 368h0M3524 366h0M3524 356v4M3524 334v7M3525 334v3M3525 337h0M3526 363v7M3526 360h0M3526 337v2M3525 378v7M3525 402v5M3526 407h0M3526 406v7M3526 383h0M3527 407v4M3527 381v7M3527 408v2M3528 395v7M3528 401v5M3528 400v2M3529 363v4M3529 406v4M3529 379v2M3530 408v2M3530 394h0M3531 392h0M3531 409h0M3531 383h0M3532 408v2M3532 374v2M3532 385v4M3532 387v5M3533 394h0M3533 408v3M3534 405v4M3534 406v5M3534 405v7M3535 393v3M3535 397h0M3535 385v3M3536 377v2M3536 396h0M3537 361h0M3537 405h0M3537 400v5M3537 362h0M3538 382v4M3538 391v4M3539 372v4M3539 393h0M3539 401h0M3540 403h0M3540 367v5M3540 364v7M3541 375v2M3541 360h0M3542 360h0M3542 358v5M3542 358v5M3542 360h0M3543 381v2M3543 359v3M3544 359v5M3544 359v3M3544 362h0M2688 446v3M2688 438v2M2687 429v2M2687 417v3M2688 406v2M2687 395v3M2687 388h0M2717 518h0M2716 514h0M2733 515h0M2732 508v3M2733 504v3M2764 542h0M2764 538h0M2765 533v3M2765 529h0M2764 524h0M2764 520h0M2773 430h0M2774 422h0M2773 410v3M2778 557v2M2778 553h0M2778 549h0M2778 546h0M2778 541v2M2778 536v3M2778 535h0M2831 275h0M2832 270v3M2832 269h0M2832 263v2M2832 261h0M2832 258h0M2833 338h0M2832 332h0M2833 328h0M2833 324h0M2833 318v3M2833 313v3M2837 409h0M2836 405h0M2836 400h0M2836 395h0M2837 390h0M2838 430h0M2838 423v2M2837 420v2M2838 467v2M2838 463v2M2839 460h0M2838 456h0M2843 339v2M2843 335h0M2843 330h0M2843 546h0M2842 541h0M2843 537v3M2843 533h0M2843 583h0M2843 575h0M2869 360h0M2869 354v2M2869 349v2M2869 345h0M2870 340v3M2869 338h0M2884 505h0M2884 499h0M2884 496h0M2884 492h0M2885 487v2M2884 484h0M2885 478h0M2884 472v3M2911 359v3M2912 357h0M2911 352h0M2911 347h0M2911 341v3M2911 335h0M2911 332h0M2912 325h0M2911 321v2M2911 317h0M2919 286v3M2919 283h0M2919 280h0M2919 272v3M2933 314h0M2932 307v2M2932 303h0M2932 299h0M2933 295h0M2938 323v3M2938 319v3M2938 316h0M2939 312v2M2940 288v2M2940 285h0M2940 281h0M2947 396h0M2948 391v3M2948 387h0M2948 379v2M2947 374v3M2947 370v2M2948 365h0M2947 360h0M2948 353v2M2929 422h0M2929 412v3M2945 425h0M2945 420v3M2946 415v3M2946 413v2M2945 409h0M2948 440v2M2949 435h0M2941 469h0M2942 463v2M2941 457v2M2957 471h0M2957 467h0M2957 460v2M2957 457h0M2957 452h0M2957 447v3M2957 514h0M2956 508h0M2957 504v2M2956 500h0M2957 496h0M2970 382h0M2970 375v3M2970 371v2M2970 369h0M2970 363v2M2970 358v3M2970 354v3M2967 448h0M2967 445h0M2967 438v2M2967 434v2M2967 431h0M2967 425v2M2967 420v3M2967 418h0M2977 483h0M2977 477h0M2978 472h0M2977 467h0M2977 462v3M2977 520h0M2977 513v3M2977 511h0M2977 506h0M2977 501v3M2977 500h0M2977 495v2M2990 465h0M2989 461h0M2990 455v2M2989 452h0M2989 448h0M2988 531h0M2988 528h0M2987 524h0M2987 520v2M2988 517h0M2987 513v2M2987 510h0M2987 506v3M2988 503h0M2988 499v3M2987 496v2M2988 493h0M2988 489v2M2988 486h0M2980 482v2M2980 478h0M2980 470v2M2980 466h0M2980 461h0M2980 454h0M2980 447h0M2975 399h0M2975 391h0M2976 383h0M2975 373h0M2975 365v2M2975 355v3M2994 484h0M2994 478h0M2994 472h0M2994 463v3M2994 456h0M2994 449v3M3019 272h0M3018 269h0M3018 266h0M3019 264h0M3018 262h0M3018 303v3M3018 300h0M3019 367h0M3018 362v2M3019 358h0M3018 355h0M3019 347v3M3018 407h0M3018 400h0M3018 394v2M3018 422h0M3018 417h0M3039 447h0M3038 442v3M3039 436v3M3038 434h0M3039 429h0M3039 423v2M3028 518v2M3028 513v3M3028 508h0M3028 503h0M3029 496v3M3072 532h0M3072 526h0M3100 396h0M3101 393h0M3101 388h0M3100 385h0M3100 380v2M3100 375v3M3093 499h0M3092 494h0M3093 487v2M3093 480v3M3093 476h0M3093 471h0M3101 500h0M3102 494v2M3101 490h0M3102 482v3M3102 478h0M3102 474h0M3101 469h0M3102 462h0M3108 486v3M3107 481v2M3108 474v2M3108 469v2M3107 463h0M3107 456v3M3110 405h0M3110 393h0M3116 525v2M3116 520h0M3117 515h0M3117 507v2M3116 505h0M3117 499v2M3118 494h0M3118 486h0M3118 478h0M3133 494v3M3134 486v2M3133 479v3M3159 549h0M3159 543v2M3159 540h0M3159 534v2M3159 529h0M3159 525h0M3159 569h0M3160 560v3M3169 481v2M3169 476h0M3169 469v2M3181 565v3M3181 561v3M3181 557h0M3169 368v3M3169 365h0M3193 311h0M3193 305h0M3194 300h0M3193 294h0M3193 287v3M3189 366v2M3188 356h0M3189 402h0M3189 390v3M3188 386h0M3202 397v2M3202 386v2M3220 493h0M3220 484h0M3220 480h0M3221 473h0M3219 395h0M3218 391h0M3219 380v3M3289 359v2M3289 357h0M3297 448v3M3297 442v2M3297 438h0M3297 430v3M3296 425v3M3367 418h0M3367 412v2M3367 409h0M3367 403h0M3367 396v2M3367 392h0M3367 387h0M3367 381h0M3375 476h0M3374 470v2M3375 465v3M3375 459h0M3375 495h0M3375 484v2M3378 554v3M3378 549v3M3378 544v3M3378 540h0M3378 534h0M3378 530h0M3378 524v3M3417 381v3M3417 377v2M3418 374v3M3417 370h0M3417 366v2M3417 362h0M3418 358v2M3417 354v3M3418 352h0M3418 348h0M3418 342v3M3417 340v2M3418 336v2M3418 332h0M3417 328h0M3418 324v2M3417 312h0M3417 307h0M3424 403v3M3424 399v2M3424 396h0M3425 390v3M3425 522h0M3424 516v2M3424 507v3M3445 510v2M3445 503h0M3445 498h0M3445 494h0M3445 487h0M3445 479v2M3445 476h0M3476 396h0M3475 390h0M3475 382v3M3475 380h0M3475 372h0M3475 366h0M3475 361h0M3475 353v3M3492 507v2M3492 502h0M3492 498h0M3492 489v3M3492 486v2M3492 481h0M3492 476h0M3491 469v2M3519 441v2M3518 436v3M3519 433h0M3519 426v2M3519 423h0M3519 417h0M3519 459v2M3519 451v3M2849 163v3M2849 158v3M2849 154v2M2849 179h0M2850 176h0M2848 240h0M2848 231v2M2831 224h0M2832 212v3M2832 275h0M2832 269h0M2832 262v3M2833 258h0M3017 270h0M3017 265h0M3017 262h0M2919 289h0M2919 283h0M2919 280h0M2919 275v2M2940 292v3M2941 288v3M2940 283h0M3194 298h0M3194 295h0M3194 290h0"/>
<path class="d" stroke="#1b1830" stroke-width="5" d="M2744 356h0M2762 495h0M2796 429h0M2836 360h0M2839 445h0M2838 477h0M2843 570h0M2871 368h0M2896 353h0M2920 311h0M2946 302h0M2949 311h0M2941 479h0M2970 340h0M2969 397h0M2980 448h0M3001 390h0M3018 282h0M3018 318h0M3018 331h0M3018 385h0M3018 436h0M3037 354h0M3087 489h0M3085 509h0M3123 380h0M3180 527h0M3172 333h0M3232 329h0M3262 376h0M3285 426h0M3285 334h0M3289 335h0M3303 357h0M3286 426h0M3324 445h0M3367 370h0M3375 428h0M3382 504h0M3412 492h0M3432 481h0M3456 479h0M3499 422h0M3531 426h0M3531 437h0M3541 418h0M3541 428h0M3159 66h0M3011 120h0M3031 116h0M3172 146h0M3521 124h0M2849 141h0M2849 192h0M2946 240h0M3017 281h0M3017 298h0M3172 201h0M3172 219h0M3173 231h0M2937 298h0M2951 298h0"/>
<path class="ax" stroke-width="4.5" d="M2684.5 45.3 V660.7"/>
<path class="ax" stroke-width="3.9" d="M2684.5 658.8 H3586.7"/>
<path class="ax" stroke-width="3.8" d="M2684.5 598.8 h10.8 M2684.5 537.3 h10.8 M2684.5 475.8 h10.8 M2684.5 413.8 h10.8 M2684.5 351.8 h10.8 M2684.5 291 h10.8 M2684.5 230.7 h10.8 M2684.5 168 h10.8 M2684.5 107.2 h10.8 M2684.5 47.2 h10.8 M2834.6 658.8 v-11.8 M2984.6 658.8 v-11.8 M3134.7 658.8 v-11.8 M3284.8 658.8 v-11.8 M3434.8 658.8 v-11.8 M3584.9 658.8 v-11.8"/>
</g>
<g>
<text font-size="67.5" letter-spacing="0.7" transform="translate(318.9 1388.4) scale(0.95 1)" text-anchor="end">0</text>
<text font-size="67.5" letter-spacing="0.7" transform="translate(318.9 1326.9) scale(0.95 1)" text-anchor="end">10</text>
<text font-size="67.5" letter-spacing="0.7" transform="translate(318.9 1265.3) scale(0.95 1)" text-anchor="end">20</text>
<text font-size="67.5" letter-spacing="0.7" transform="translate(318.9 1203.8) scale(0.95 1)" text-anchor="end">30</text>
<text font-size="67.5" letter-spacing="0.7" transform="translate(318.9 1142.2) scale(0.95 1)" text-anchor="end">40</text>
<text font-size="67.5" letter-spacing="0.7" transform="translate(318.9 1080.7) scale(0.95 1)" text-anchor="end">50</text>
<text font-size="67.5" letter-spacing="0.7" transform="translate(318.9 1019.1) scale(0.95 1)" text-anchor="end">60</text>
<text font-size="67.5" letter-spacing="0.7" transform="translate(318.9 957.6) scale(0.95 1)" text-anchor="end">70</text>
<text font-size="67.5" letter-spacing="0.7" transform="translate(318.9 896) scale(0.95 1)" text-anchor="end">80</text>
<text font-size="67.5" letter-spacing="0.7" transform="translate(318.9 834.5) scale(0.95 1)" text-anchor="end">90</text>
<text font-size="67.5" letter-spacing="0.7" transform="translate(318.9 772.9) scale(0.95 1)" text-anchor="end">100</text>
<g transform="translate(169.9 1155.2) rotate(-90)" font-size="66"><text letter-spacing="-5.6" transform="translate(-2.1 0) scale(1.065 1)">MP</text><text transform="translate(89.3 13.3) scale(1.0 1)" font-size="51">6</text><text x="123.5" y="0">/cm</text></g>
<text font-size="67.5" letter-spacing="0.7" transform="translate(346 1424.6) scale(0.95 1)" text-anchor="end" word-spacing="-3">0</text>
<text font-size="67.5" letter-spacing="0.7" transform="translate(528.1 1424.6) scale(0.95 1)" text-anchor="end" word-spacing="-3">500</text>
<text font-size="67.5" letter-spacing="0.7" transform="translate(694 1424.6) scale(0.95 1)" text-anchor="end" word-spacing="-3">1 000</text>
<text font-size="67.5" letter-spacing="0.7" transform="translate(841.6 1424.6) scale(0.95 1)" text-anchor="end" word-spacing="-3">1 500</text>
<text font-size="67.5" letter-spacing="0.7" transform="translate(995.9 1424.6) scale(0.95 1)" text-anchor="end" word-spacing="-3">2 000</text>
<text font-size="67.5" letter-spacing="0.7" transform="translate(1150.2 1424.6) scale(0.95 1)" text-anchor="end" word-spacing="-3">2 500</text>
<text font-size="67.5" letter-spacing="0.7" transform="translate(1302.5 1424.6) scale(0.95 1)" text-anchor="end" word-spacing="-3">3 000</text>
<text class="cj" x="784.5" y="1537.9" text-anchor="middle" letter-spacing="2">历元</text>
<path class="d" stroke="#4b2489" stroke-width="6.4" d="M332 1230h0M332 1231h0M333 1238h0M333 1235h0M333 1210v2M333 1236v4M334 1222v2M334 1230v3M335 1233v3M335 1224v3M335 1221h0M336 1251v7M336 1221h0M336 1221v3M337 1223v2M337 1223v2M337 1230h0M338 1230h0M338 1227v3M338 1227v3M339 1229h0M339 1229h0M339 1229h0M340 1230v4M340 1233v2M340 1234h0M341 1256h0M341 1263h0M341 1271v5M342 1257v7M342 1240v2M342 1256v2M343 1245v2M343 1243v4M343 1228v5M344 1259h0M344 1262h0M344 1268v4M345 1275v3M345 1274v3M345 1265h0M346 1267h0M346 1247v5M346 1238h0M347 1234v5M347 1266v2M347 1266v7M348 1271h0M348 1255h0M348 1256h0M349 1258v7M349 1250v2M349 1257h0M350 1273v5M350 1275v2M350 1272h0M351 1269h0M351 1263v3M351 1228h0M352 1239v7M352 1250v3M352 1241h0M353 1262v7M353 1262v7M353 1264v4M354 1265h0M354 1259v4M354 1258h0M355 1264v4M355 1266h0M355 1266h0M355 1260h0M356 1265h0M356 1262v7M357 1264v3M357 1265v2M357 1265v2M358 1263v7M358 1264v4M358 1265h0M359 1264v4M359 1262h0M359 1243v4M360 1258v3M360 1258h0M360 1259h0M360 1244v3M361 1260v2M361 1245h0M362 1246h0M362 1261h0M362 1265h0M363 1261v7M363 1260v3M363 1257v5M364 1260h0M364 1248h0M364 1243h0M365 1252h0M365 1257v5M365 1235v2M366 1244v3M366 1244h0M366 1254v3M367 1259h0M367 1228h0M367 1264v4M367 1256v2M368 1257h0M368 1241h0M369 1238h0M369 1233h0M369 1234v4M369 1227v5M370 1236v3M370 1226v5M371 1225v5M371 1225v5M371 1227v2M372 1227v3M372 1227v4M372 1232h0M373 1232v2M373 1244v4M373 1248h0M374 1242v4M374 1261h0M374 1237h0M374 1250v3M375 1263v4M375 1249h0M376 1231h0M376 1244v7M376 1226v7M377 1230v5M377 1229h0M377 1248v4M378 1233v4M378 1232v2M378 1245v2M379 1226v4M379 1227v3M379 1226v5M380 1232h0M380 1231v5M380 1261h0M381 1263h0M381 1250h0M381 1241h0M382 1240v2M382 1243h0M382 1226v4M383 1244h0M383 1227v7M383 1230v2M384 1230h0M384 1235h0M384 1227v3M385 1230v3M385 1228h0M385 1228h0M385 1228v4M386 1231v5M386 1229v2M387 1231h0M387 1227v3M387 1228v4M388 1234h0M388 1232h0M388 1228v4M389 1234h0M389 1230v3M389 1234v4M390 1219v7M390 1216v7M390 1218v2M391 1223v7M391 1221v3M391 1222v3M392 1229h0M392 1232v2M392 1220h0M393 1210h0M393 1213v5M393 1208v5M394 1210h0M394 1216h0M394 1209v4M395 1229h0M395 1209v2M395 1209h0M396 1211v2M396 1212h0M396 1212v5M397 1235v5M397 1239v4M397 1236v7M398 1242h0M398 1242h0M398 1236v2M399 1232v4M399 1231h0M399 1218v5M400 1223v3M400 1220v7M400 1211v5M401 1225h0M401 1223h0M401 1221v7M401 1221h0M402 1221v4M402 1210v3M403 1222h0M403 1223h0M403 1220v2M404 1207v7M404 1194h0M404 1188h0M405 1192v4M405 1188h0M405 1189v5M406 1188h0M406 1192v5M406 1220h0M407 1192v7M407 1198v2M407 1196v3M408 1209v3M408 1216v2M408 1219v5M409 1238v2M409 1225v3M409 1249h0M410 1227v2M410 1259v3M410 1257h0M411 1248v2M411 1259h0M411 1237v7M412 1253v4M412 1247v4M412 1223h0M413 1249h0M413 1237v7M413 1236h0M414 1234h0M414 1239v2M414 1242v7M415 1246v4M415 1236h0M415 1261h0M416 1261h0M416 1221v5M416 1226v5M417 1223v7M417 1222v7M417 1228h0M418 1225h0M418 1237h0M418 1258v2M419 1257v7M419 1254h0M419 1276v3M420 1253h0M420 1271v7M420 1239v3M421 1260h0M421 1235h0M421 1228h0M422 1253v7M422 1223v7M422 1243v3M423 1215v2M423 1219v5M423 1237h0M424 1225v4M424 1227h0M424 1206v7M425 1224v5M425 1223v4M425 1208v2M426 1212h0M426 1210v4M426 1230h0M427 1201v4M427 1203h0M427 1204v7M428 1205h0M428 1206h0M428 1209v7M429 1202v3M429 1201v4M429 1204v5M430 1210h0M430 1231h0M430 1234h0M431 1239v4M431 1235h0M431 1233h0M432 1212v7M432 1202v4M432 1225v3M433 1202v3M433 1217v3M433 1218v7M434 1213v7M434 1214h0M434 1233v5M435 1226v7M435 1238v2M435 1205v2M436 1212v7M436 1213h0M436 1227h0M437 1246h0M437 1237h0M437 1238h0M438 1226v5M438 1231v7M438 1229v3M439 1245v2M439 1233v7M439 1228v2M440 1229h0M440 1228h0M440 1228v5M441 1227v2M441 1228h0M441 1241h0M442 1230h0M442 1233v5M442 1241v2M443 1257h0M443 1246h0M443 1260v2M444 1243h0M444 1263v2M444 1264v3M445 1241v5M445 1250h0M445 1235v4M446 1230v2M446 1243v2M446 1236v2M447 1240v5M447 1249h0M447 1257v5M448 1257v3M448 1264h0M448 1274v7M449 1268h0M449 1280v7M449 1283v3M450 1295h0M450 1292v4M450 1296h0M451 1294h0M451 1294v3M451 1292v7M452 1292v2M452 1288v3M452 1295h0M453 1293v5M453 1289v5M453 1291v3M454 1282v7M454 1292v5M454 1292v7M455 1293v4M455 1293v4M455 1292v5M456 1296h0M456 1296h0M456 1292v7M457 1294v3M457 1292v2M457 1292v4M458 1293h0M458 1286h0M458 1261v2M459 1287v2M459 1284v4M459 1282v3M460 1287h0M460 1277v2M460 1270v2M461 1269h0M461 1275h0M461 1284h0M462 1289v4M462 1263h0M462 1270h0M463 1279h0M463 1276v2M463 1268h0M464 1285h0M464 1271v3M464 1260v5M465 1272v7M465 1254v2M465 1249v7M466 1259h0M466 1245v4M466 1280v3M467 1284h0M467 1273v2M467 1273h0M468 1275h0M468 1266v2M468 1272h0M469 1276v4M469 1258h0M469 1264v7M470 1283v3M470 1280v5M470 1282v7M471 1281v5M471 1272v7M471 1280h0M472 1246h0M472 1246h0M472 1247h0M473 1244v4M473 1246h0M473 1248h0M474 1247v4M474 1246v4M474 1256h0M475 1250v4M475 1287h0M476 1266v4M476 1286v3M476 1256v5M473 1181h0M474 1180h0M474 1178v3M474 1181h0M475 1179v2M475 1179v4M475 1197h0M476 1195v4M476 1195v2M476 1198v2M477 1186v4M477 1185h0M477 1192v7M478 1188v7M478 1198v4M478 1187v7M479 1190v2M479 1194v7M479 1194v2M480 1200h0M480 1182h0M480 1180v2M481 1192v2M481 1193h0M481 1200h0M482 1201h0M482 1194v3M482 1196v7M483 1198v5M483 1201h0M483 1198v7M497 1203v4M498 1209v3M498 1210h0M498 1206h0M499 1208h0M499 1219h0M499 1240h0M500 1207h0M500 1215v4M500 1208v7M501 1213h0M501 1207h0M501 1215v4M502 1222v5M502 1230v5M502 1220v2M503 1210h0M503 1225h0M503 1203v3M504 1202v7M504 1203v4M504 1206h0M505 1211h0M505 1203v5M505 1202v5M506 1202v5M506 1206v3M506 1204v5M507 1202v5M507 1205v2M507 1218h0M508 1211v2M508 1213v3M508 1211v7M509 1205v3M509 1214v7M509 1215v4M510 1205v3M510 1226v5M510 1217h0M511 1218v4M511 1228h0M511 1224h0M512 1221h0M512 1223v5M512 1221h0M513 1198h0M513 1192h0M513 1208v2M514 1222v5M514 1223v4M514 1214h0M515 1196v4M515 1205v3M515 1190v4M516 1212h0M516 1214v4M516 1213h0M517 1193v4M517 1224v4M517 1198v5M518 1196v3M518 1213v4M518 1208v4M519 1214h0M519 1214h0M519 1188v4M520 1193v7M520 1226v5M520 1229v2M521 1226v2M521 1228v2M521 1235h0M522 1240v7M522 1249h0M522 1247v7M523 1239v7M523 1239v5M523 1236v7M524 1236v4M524 1262h0M524 1243v2M525 1263h0M525 1258h0M525 1235h0M526 1228v5M526 1227v7M526 1225v7M527 1226v4M527 1234h0M528 1228h0M528 1226v4M528 1228h0M528 1235h0M529 1241h0M529 1230v2M529 1258h0M530 1249v2M530 1253h0M530 1253v3M531 1216v5M531 1234v5M531 1219v3M532 1234v2M532 1203v4M532 1206v3M533 1226v5M533 1216v5M533 1244v2M534 1233v3M534 1213h0M534 1213v7M535 1244h0M535 1225v5M535 1212h0M536 1237v3M536 1228h0M536 1227v4M537 1228v3M537 1225v2M537 1205h0M538 1200v5M538 1202v3M538 1208h0M539 1201v3M539 1205v4M539 1204h0M540 1202v5M540 1200v3M540 1201v3M541 1210v7M541 1208v2M541 1245v5M542 1241v7M542 1232v7M542 1206h0M543 1246h0M543 1229v5M543 1242v2M544 1242h0M544 1235v7M545 1235h0M545 1244v3M545 1232v4M545 1213v4M546 1237h0M546 1224v7M546 1241h0M547 1222h0M547 1221v2M547 1222v3M548 1241h0M548 1217v2M548 1239v3M549 1241v2M549 1241h0M549 1231v3M550 1224h0M550 1198h0M550 1206v2M551 1201h0M551 1183v4M552 1223h0M552 1226v4M552 1231v3M552 1200v7M553 1187h0M553 1183v3M553 1183v4M554 1187v4M554 1193v2M554 1188v4M555 1185h0M555 1201h0M555 1183v3M556 1183h0M556 1182v2M556 1188v4M557 1190v2M557 1201v7M557 1230h0M558 1207v3M558 1195v7M559 1206v2M559 1192v4M559 1232h0M559 1203h0M560 1183v5M560 1183h0M560 1185v3M561 1201h0M561 1211h0M561 1193v4M562 1194v3M562 1183v4M562 1199h0M563 1192h0M563 1184h0M564 1181h0M564 1175h0M564 1172h0M564 1173v3M565 1205v3M565 1173v7M565 1165v2M566 1176v5M566 1164h0M566 1164v5M567 1170h0M567 1166v7M567 1172h0M568 1189v7M568 1210v2M568 1211v5M569 1217h0M569 1211h0M569 1202h0M570 1198h0M570 1213v4M570 1195v4M571 1210h0M571 1173v3M571 1211v5M572 1179v4M572 1200v3M573 1213v3M573 1205v7M573 1210h0M574 1212h0M574 1216v2M574 1214v7M574 1215h0M575 1209v5M575 1199h0M575 1199v3M576 1205v4M576 1195h0M576 1164v7M577 1165v4M577 1190v2M577 1160v5M578 1169h0M578 1172h0M579 1165h0M579 1160v4M579 1167v2M580 1188h0M580 1193v5M580 1167h0M580 1160v7M581 1174h0M581 1205h0M582 1192v3M582 1200v7M582 1206h0M582 1204h0M583 1196h0M583 1194v4M583 1176v7M584 1178v2M584 1162v7M585 1167h0M585 1171h0M585 1155v7M585 1156v7M586 1156v7M586 1159h0M587 1175v7M587 1165v3M587 1156v5M588 1157v4M588 1158h0M588 1158h0M588 1157v5M589 1155v7M589 1158h0M590 1157v3M590 1156v5M590 1158v7M591 1173v5M591 1183v5M591 1180v5M591 1183v4M592 1187v4M592 1187v5M592 1196h0M593 1197v3M593 1182v3M593 1193h0M594 1205h0M594 1194v7M595 1208h0M595 1200v3M595 1212v7M595 1216v4M596 1208v2M596 1201v5M596 1221h0M597 1221h0M597 1215v2M598 1219v3M598 1221h0M598 1218h0M598 1217h0M599 1205h0M599 1207h0M599 1206v2M600 1190v4M600 1189v4M600 1197h0M601 1196h0M601 1211v5M602 1220v2M602 1205v7M602 1210v3M603 1211v7M603 1218v2M603 1220v2M604 1216v5M604 1216v5M604 1208h0M604 1205v2M605 1195v3M605 1195v5M605 1190h0M606 1195v4M606 1206v5M607 1200v4M607 1211v5M607 1204v7M607 1202v7M608 1206v2M608 1210v4M608 1202v4M609 1205v5M609 1203v7M610 1204h0M610 1207h0M610 1209v4M610 1206v7M611 1208v5M611 1202v5M611 1203v2M612 1201v7M612 1203v4M612 1217v5M613 1209v7M613 1230v4M613 1221v5M614 1224v5M614 1225v5M615 1231v4M615 1239v4M615 1238v7M616 1233v7M616 1223v7M616 1236v4M616 1231v2M617 1204v5M617 1215h0M618 1207v2M618 1204h0M618 1204h0M618 1204v2M619 1206v3M619 1213h0M620 1211v5M620 1234v4M620 1232v2M620 1229v5M621 1242v7M621 1264v3M621 1240v4M622 1257h0M622 1253v5M622 1253h0M623 1254v7M623 1264v4M624 1266h0M624 1267v3M624 1279v3M624 1285h0M625 1272h0M625 1284v3M626 1257v4M626 1283v3M626 1271h0M626 1257v3M627 1248v5M627 1242v7M627 1261h0M628 1245h0M628 1259v3M628 1282v2M629 1273v7M629 1280h0M629 1285h0M630 1275v7M630 1281h0M630 1280v5M631 1279v4M631 1275v7M632 1282v5M632 1269v7M632 1284v3M632 1268v7M633 1254v4M633 1247v3M633 1251v7M634 1275v3M634 1247v4M634 1267v5M635 1243h0M635 1226h0M636 1251v3M636 1247v7M636 1238v2M636 1231h0M637 1255h0M637 1252v5M637 1252v4M638 1254h0M638 1254h0M638 1228h0M639 1238v5M639 1251v2M639 1242v5M640 1242v3M640 1235v3M640 1240v5M641 1249h0M641 1250v7M641 1248v3M642 1253v2M642 1249v2M643 1231v3M643 1217v7M643 1218v3M643 1220v2M644 1220h0M644 1223h0M645 1216v7M645 1222v5M645 1223v7M645 1221v7M646 1236h0M646 1227v4M646 1222v3M647 1249v7M647 1225h0M647 1220v2M648 1232h0M648 1241v2M649 1245v2M649 1243v5M649 1251v5M649 1250v5M650 1246v7M650 1239v4M650 1245v3M651 1252v2M651 1235v4M651 1244v7M652 1237v3M652 1234v5M653 1235h0M653 1217v5M653 1219v4M653 1224v3M654 1227v5M654 1226v7M654 1232v3M655 1219v4M655 1245h0M655 1247v3M656 1252h0M656 1251v4M656 1231v5M657 1222v5M657 1229v3M657 1225v2M658 1224v5M658 1217h0M658 1232v5M659 1218h0M659 1247h0M660 1240v3M660 1249h0M660 1240h0M660 1245v5M661 1223h0M661 1253v3M662 1244v5M662 1213h0M662 1236h0M663 1228v4M663 1215h0M663 1212h0M663 1224v3M664 1235v3M664 1213h0M665 1225v2M665 1211v4M665 1226v3M665 1216v4M666 1212v3M666 1221h0M667 1210v2M667 1215h0M667 1219h0M667 1210v3M668 1209v5M668 1229h0M668 1246h0M669 1229h0M669 1218v7M670 1248h0M670 1216v7M670 1237v3M671 1222v2M671 1214h0M671 1224h0M672 1209v3M672 1212h0M672 1209v3M672 1242h0M673 1218h0M673 1215h0M673 1211v5M674 1213v4M674 1216h0M675 1219v4M675 1226v3M675 1231h0M676 1230h0M676 1213v7M676 1216v2M677 1210v4M677 1210h0M677 1212v3M678 1210h0M678 1211h0M678 1223v5M679 1220v4M679 1240v7M679 1215v7M680 1238v4M680 1248v5M680 1250h0M681 1220v5M681 1217h0M681 1254h0M682 1252v4M682 1249v5M682 1240v3M683 1214v4M683 1217v7M683 1209h0M684 1206v7M684 1209h0M684 1219h0M685 1210v2M685 1213h0M685 1207h0M685 1207h0M686 1206v3M686 1208h0M686 1207v2M687 1209h0M687 1207v2M688 1221v3M688 1244v5M688 1244v5M688 1244h0M689 1219v4M689 1247v2M690 1215v7M690 1213v7M690 1215v4M691 1208h0M691 1205v5M691 1215v2M692 1219v7M692 1241h0M692 1238v7M692 1231v2M693 1240v2M693 1231v3M693 1225h0M694 1238v3M694 1236v4M695 1217v7M695 1252h0M695 1245v4M696 1209v2M696 1244v5M696 1253h0M696 1252v3M697 1238v3M697 1234v2M697 1234h0M698 1205v7M698 1211v4M698 1218v3M699 1248v2M699 1244v3M700 1232v4M700 1233h0M700 1222v2M701 1246v7M701 1219v7M701 1211v3M701 1208v4M702 1211h0M702 1207v3M703 1206v5M703 1237h0M703 1223v3M704 1225v5M704 1223v7M704 1233v3M704 1211v7M705 1239h0M705 1247h0M706 1223h0M706 1238v4M706 1217v4M706 1214h0M707 1228v4M707 1214v4M708 1208v4M708 1215h0M708 1206v5M709 1206v2M709 1197v3M709 1199v2M710 1198h0M710 1222h0M710 1215v5M710 1229h0M711 1226v2M711 1213h0M711 1217v7M712 1211v5M712 1205h0M712 1217v7M713 1204v3M713 1215v5M713 1209h0M714 1218v7M714 1228v4M714 1226v2M715 1215h0M715 1216h0M716 1220h0M716 1216v5M716 1218v5M717 1207h0M717 1198v5M717 1196v5M718 1210v7M718 1199h0M718 1204h0M719 1200h0M719 1198v3M719 1219v3M720 1203v4M720 1201h0M720 1204h0M721 1205v4M721 1208v2M721 1208v2M722 1208v7M722 1208h0M722 1203v5M723 1203v5M723 1208v2M723 1203v4M724 1216v3M724 1228h0M724 1226v3M725 1217h0M725 1216h0M725 1204v3M726 1210v7M726 1227v2M726 1221v5M726 1226v2M727 1220v5M727 1210v4M728 1211h0M728 1212h0M728 1217v5M729 1213h0M729 1211v3M729 1228v2M730 1210h0M730 1221h0M730 1210h0M731 1206h0M731 1228v3M731 1225v3M731 1205v7M732 1220h0M732 1210h0M732 1203v5M733 1206v2M733 1213h0M734 1215v5M734 1221v3M734 1225v7M735 1242v7M735 1258h0M735 1250v5M736 1239v3M736 1233v7M736 1248v3M736 1247v3M737 1254v7M737 1242v7M738 1256v4M738 1251h0M738 1228v4M739 1235h0M739 1237v7M739 1236v5M740 1233v4M740 1255h0M740 1240h0M741 1245h0M741 1226v7M741 1236v3M742 1227v2M742 1225v7M742 1242v7M742 1244h0M743 1233v5M743 1243h0M744 1227v2M744 1242v5M744 1254v7M744 1247v3M745 1228v3M745 1232h0M745 1231h0M746 1251v3M746 1238h0M747 1224v7M747 1244h0M747 1225v3M748 1221h0M748 1223v7M748 1242v3M748 1236h0M749 1222v4M749 1237v5M750 1220h0M750 1225v7M750 1234v5M751 1243h0M751 1218v7M751 1227v7M751 1239v5M752 1237h0M752 1244h0M753 1216v3M753 1235v3M753 1239v7M754 1241v7M754 1239v3M754 1248h0M755 1222v5M755 1219h0M755 1208v7M756 1222v4M756 1209v3M756 1222h0M756 1218h0M757 1212v2M757 1243h0M757 1233v7M758 1225v3M758 1243v4M759 1244v5M759 1247v2M759 1247h0M760 1246v4M760 1248h0M760 1246v5M761 1247v3M761 1248h0M761 1246v4M761 1248h0M762 1246v4M762 1246h0M763 1248h0M763 1247v3M763 1246v5M764 1246v5M764 1247v2M764 1245v3M764 1242v7M765 1234v7M765 1239v4M766 1248v4M766 1249h0M766 1231v5M767 1232v4M767 1226v5M767 1225v5M767 1230h0M768 1234h0M768 1230v5M769 1228h0M769 1226v3M769 1228h0M770 1236h0M770 1231v4M770 1238h0M771 1231h0M771 1235v4M771 1228v4M771 1231h0M772 1238h0M772 1243h0M773 1250v4M773 1227v7M773 1231v7M774 1250v5M774 1228v4M774 1238h0M775 1250v4M775 1237v3M775 1234h0M776 1239h0M776 1231v3M776 1227v5M776 1242v4M777 1230h0M777 1232v4M778 1232h0M778 1247h0M778 1227v3M779 1238h0M779 1242h0M779 1231h0M779 1223v4M780 1238v7M780 1238h0M781 1240h0M781 1230v4M781 1252v2M782 1220h0M782 1220v5M782 1214h0M782 1212v3M783 1214v4M783 1219h0M784 1225v3M784 1227h0M784 1251v2M785 1245h0M785 1223h0M785 1218h0M786 1214v2M786 1214v5M786 1213v2M787 1213h0M787 1221v5M787 1215v5M788 1237v5M788 1257h0M788 1256h0M789 1257h0M789 1257v3M789 1259h0M790 1255h0M790 1246h0M790 1260h0M791 1259v3M791 1249v2M791 1246h0M792 1221h0M792 1211v7M792 1217v3M793 1214v3M793 1211v4M793 1215v4M794 1213h0M794 1211v5M794 1227h0M793 1183v7M793 1179v7M793 1185h0M794 1183h0M794 1185v3M795 1181h0M795 1172v3M795 1162h0M795 1162h0M796 1162h0M796 1169v7M796 1166v7M797 1164h0M797 1162v2M798 1161v3M798 1165v7M798 1172v4M799 1167v2M799 1176v4M799 1166v3M800 1162h0M800 1165v3M800 1189h0M800 1189h0M801 1188v2M801 1187v4M802 1188h0M802 1188h0M802 1177h0M803 1170h0M803 1181v2M803 1183v5M804 1164v5M804 1164h0M805 1164h0M805 1157v7M805 1158v4M806 1160h0M806 1163v7M806 1162v4M806 1161h0M807 1169h0M807 1173v4M808 1174v2M808 1173v3M808 1174h0M808 1174v2M809 1173v4M809 1175h0M810 1166h0M810 1175h0M810 1173v2M811 1174h0M811 1167v7M811 1173v3M812 1173h0M812 1172v3M812 1174h0M812 1168h0M813 1171h0M813 1171v2M814 1168v7M814 1167h0M814 1158v4M815 1164v7M815 1160h0M815 1160h0M815 1159v7M816 1158v4M816 1159v7M817 1161v2M817 1159v4M817 1173v3M818 1174h0M818 1172v4M818 1174h0M810 1190v4M810 1197v7M810 1190v4M811 1192h0M811 1194h0M812 1205h0M812 1206h0M812 1205h0M812 1200h0M813 1191h0M813 1193h0M814 1198h0M814 1191v7M814 1203v7M815 1190v7M815 1192h0M815 1196v4M815 1194h0M816 1192v4M816 1205v3M817 1202v4M817 1206v4M817 1202v7M818 1210h0M818 1216h0M818 1195h0M819 1208v2M819 1206v3M819 1227v3M819 1228v7M820 1225h0M820 1231v3M821 1227v4M821 1225v7M821 1220v7M821 1226v7M822 1228v5M822 1227v3M823 1225v2M823 1231h0M823 1229v5M824 1233v3M824 1227h0M824 1223v2M824 1221v5M825 1215v7M825 1219h0M826 1221h0M826 1223v4M826 1217v7M827 1223v3M827 1227v2M827 1231v4M828 1233v3M828 1225v5M828 1226v3M829 1220v3M829 1223v7M829 1216v4M830 1214v7M830 1218v2M830 1216v7M828 1183v5M828 1153v5M829 1157v3M829 1176h0M829 1186v2M830 1188h0M830 1189v4M830 1182v2M831 1162v7M831 1187v7M831 1190h0M832 1160h0M832 1175h0M832 1160v3M833 1161v5M833 1164v3M833 1158h0M834 1172h0M834 1161v2M834 1146v7M835 1149v2M835 1148v5M835 1145v5M836 1147v2M836 1145v5M836 1146v3M837 1152v5M837 1182h0M837 1172v5M838 1171v2M838 1187v4M838 1176h0M839 1162v7M839 1160v3M839 1150h0M840 1145v3M840 1143v5M840 1151v5M841 1148v4M841 1147h0M841 1152h0M842 1168h0M842 1165v7M842 1144v7M843 1157h0M843 1148h0M843 1160v2M843 1166h0M844 1145h0M844 1176v7M845 1178h0M845 1170v7M845 1168v4M846 1150v2M846 1154h0M846 1172v7M847 1174h0M847 1164h0M847 1145v2M848 1146v3M848 1159v2M848 1165v4M849 1159h0M849 1182h0M849 1162h0M850 1185h0M850 1181v3M850 1165h0M850 1189v2M851 1153h0M851 1144v5M851 1180h0M852 1153h0M852 1150v3M853 1169v5M853 1156h0M853 1182h0M854 1163v4M854 1161v3M854 1176h0M855 1191h0M855 1182v7M855 1181v5M856 1184v2M856 1189v3M856 1182h0M857 1157h0M857 1169h0M857 1168h0M857 1165h0M858 1183v3M858 1188v5M859 1190v2M859 1185v5M859 1175h0M860 1169v7M860 1186v5M860 1189h0M861 1186v7M861 1180v3M861 1189h0M862 1186v7M862 1187v5M862 1170v3M863 1186v5M863 1187v5M863 1185h0M864 1179v2M864 1191h0M864 1187h0M865 1152h0M865 1162v3M865 1189v4M866 1158h0M866 1165v2M866 1153v2M867 1149v7M867 1159h0M867 1157h0M868 1155v2M868 1175h0M868 1153h0M869 1160h0M869 1151v4M869 1152h0M870 1154h0M870 1155h0M865 1229h0M865 1234v4M865 1239h0M866 1238v4M866 1244h0M867 1245h0M867 1241v7M867 1228h0M867 1244h0M868 1244h0M868 1244v2M869 1243v2M869 1235v7M869 1238h0M870 1216v5M870 1216v3M870 1229h0M871 1224v5M871 1239v3M871 1236v5M872 1221v2M872 1242v2M872 1226v3M872 1232v2M873 1225h0M873 1242h0M874 1229h0M874 1220v3M874 1238v3M875 1230v4M875 1234v3M875 1242v4M876 1244h0M876 1239h0M876 1239v7M873 1164h0M874 1162h0M874 1166v2M874 1163v2M875 1163v3M875 1159v7M875 1162h0M876 1163v2M876 1170v4M876 1162h0M876 1161v5M877 1161v7M877 1162v2M878 1166v5M878 1160v2M878 1165v7M879 1162v5M879 1173h0M879 1167v3M880 1176v5M880 1166v4M880 1173h0M881 1172h0M881 1169v2M881 1172h0M882 1181v3M882 1164v7M882 1173v2M882 1172v4M883 1171h0M883 1171h0M884 1173h0M884 1173v2M884 1179v4M885 1168v5M885 1169v3M885 1171h0M886 1169v5M886 1177h0M886 1176h0M887 1173h0M887 1172v7M887 1184h0M888 1175v3M888 1175h0M888 1183h0M889 1182v7M889 1183v5M889 1190h0M890 1195v3M890 1193v7M890 1200v2M891 1197v2M891 1199v3M891 1197h0M892 1201h0M892 1202v2M892 1202v3M893 1201v4M893 1205h0M893 1201v3M894 1183v3M894 1187v7M894 1187v2M894 1203h0M895 1204h0M895 1204v4M896 1206v3M896 1206v3M896 1198v7M897 1190h0M897 1202h0M897 1194v5M898 1189v3M892 1214v2M892 1212v2M893 1212v4M893 1216v5M893 1223h0M894 1232v4M894 1236h0M894 1233v5M895 1235h0M895 1237h0M895 1234v4M895 1235v3M896 1232v2M896 1232v2M896 1235v2M897 1234v5M897 1233v7M897 1233v5M898 1235h0M898 1217v5M899 1214h0M899 1227h0M899 1232v3M900 1235h0M900 1217v7M900 1224v4M901 1232v2M901 1232h0M901 1237h0M902 1216v7M902 1216h0M902 1211v3M903 1231v5M903 1214v5M903 1212v3M903 1233v7M904 1215v7M904 1215v3M904 1212h0M905 1210v5M905 1211v3M905 1209v7M906 1211v3M906 1209v7M907 1212h0M907 1212v2M907 1211v3M908 1210v5M908 1210v5M908 1212v2M909 1209v7M909 1210v4M909 1210v4M910 1213h0M910 1211v5M908 1227v3M909 1234h0M909 1230h0M909 1227v4M910 1243h0M910 1257h0M910 1255h0M911 1243h0M911 1237v5M911 1232v4M912 1258v5M912 1264v2M912 1257h0M913 1227v7M913 1238v4M913 1230h0M914 1234h0M914 1233v2M915 1247h0M915 1236h0M915 1236v7M915 1233v4M916 1259v4M916 1243v3M916 1248v3M917 1266h0M917 1231v4M917 1239v7M918 1261v3M918 1234h0M919 1259v7M919 1252v2M919 1253v7M920 1262v2M920 1264v3M920 1264h0M921 1256v7M921 1264v7M921 1264v5M921 1265v3M922 1246v2M922 1233v2M922 1258v7M923 1264v2M923 1261v7M923 1255v3M924 1262v5M924 1268v3M925 1263v7M925 1254v7M925 1257v3M925 1245v4M926 1263h0M926 1257h0M927 1245v4M927 1237v5M927 1269h0M927 1250v7M928 1254h0M928 1245h0M928 1241v3M929 1238v4M929 1231v3M929 1227v7M930 1230v3M930 1251v3M931 1227v7M931 1227v4M931 1254h0M931 1256h0M932 1266h0M932 1255v2M932 1260v5M933 1269h0M933 1268v2M933 1261v7M934 1265v4M934 1247v3M934 1264v5M935 1229v4M935 1230v5M936 1227v7M936 1228v3M936 1226v4M936 1232h0M937 1228h0M937 1226v5M938 1229v2M938 1226v4M938 1226v5M938 1231v5M939 1245h0M939 1232v5M940 1229v4M940 1226v4M940 1227v2M941 1226v3M941 1227v2M941 1253v2M942 1243h0M942 1262v2M942 1263v3M942 1251h0M943 1222v3M943 1236h0M944 1222h0M944 1228v5M944 1249h0M945 1242h0M945 1255h0M945 1255v4M945 1263v2M946 1257v5M946 1262v7M946 1249v3M947 1254v7M947 1256v3M947 1249v7M948 1258h0M948 1253h0M948 1263v3M949 1252v5M949 1251h0M949 1267h0M950 1262v3M950 1266h0M951 1272v7M951 1275v5M951 1276v4M952 1278h0M952 1277h0M952 1270v4M953 1246h0M953 1266h0M953 1255v3M953 1238h0M954 1243h0M954 1247h0M954 1243v4M955 1247v3M955 1247v4M956 1241h0M956 1237h0M956 1237h0M957 1234v7M957 1237h0M957 1236v3M958 1235v5M958 1236v3M958 1237v7M958 1234v7M959 1241v5M959 1259v3M959 1264v5M960 1244v4M960 1243v7M961 1250h0M961 1267v3M961 1239h0M962 1245v3M962 1253v2M962 1246v5M963 1256h0M963 1247h0M963 1236v5M964 1238v3M964 1239v5M964 1244h0M964 1236v5M965 1238h0M965 1242h0M965 1241v3M966 1257v4M966 1264h0M967 1268h0M967 1249h0M967 1238h0M968 1237v3M968 1243h0M968 1235v7M968 1242h0M969 1253v7M969 1236v5M969 1240h0M970 1249v3M970 1240v4M970 1236v5M971 1238v3M971 1236v5M971 1254v5M972 1240h0M972 1236v3M972 1238v2M973 1243h0M973 1255v2M973 1239v7M974 1250v2M974 1244h0M974 1260h0M975 1240v2M975 1240v3M975 1250v5M976 1257h0M976 1244v3M976 1255v7M977 1260h0M977 1274v2M978 1263v7M978 1263h0M978 1274v4M978 1256h0M979 1273v5M979 1276v2M980 1271v2M980 1269v3M980 1259v3M981 1264v2M981 1267v4M981 1254v5M982 1258v4M982 1262h0M982 1261h0M982 1269h0M983 1260v3M983 1267v2M984 1268h0M984 1266v5M984 1258v2M984 1262v3M985 1257v2M985 1259v5M985 1247v3M986 1231v4M986 1221v5M987 1222v3M987 1227v5M987 1258v5M988 1253v4M988 1224v3M988 1232v3M988 1236v7M989 1219v7M989 1222v2M990 1223v7M990 1226v3M990 1240v7M990 1222h0M991 1254h0M991 1234h0M991 1237v3M992 1227h0M992 1242v5M993 1258v5M993 1263v3M993 1262v7M994 1263v2M994 1247v2M994 1232v5M994 1221v3M995 1220v7M995 1221v5M995 1221v7M996 1228v2M996 1258v3M996 1242h0M997 1266v3M997 1254h0M997 1267v4M998 1266v5M998 1268v2M998 1265v7M999 1266v3M999 1265h0M1000 1247v5M1000 1259v3M1000 1253v5M1001 1265v3M1001 1227h0M1001 1247h0M1002 1233v3M1002 1223h0M1002 1222v2M1003 1223h0M1003 1224h0M1003 1223h0M1003 1222v2M1004 1219v7M1004 1231v7M1004 1251v2M1005 1249v5M1005 1248h0M1005 1246h0M1006 1242v2M1006 1238h0M1007 1243v5M1007 1255v4M1007 1245v2M1007 1241h0M1008 1253h0M1008 1237h0M1009 1240h0M1009 1260v2M1009 1263h0M1010 1249v4M1010 1237h0M1010 1232v7M1010 1208v7M1011 1227h0M1011 1227v2M1012 1227v2M1012 1223h0M1012 1209h0M1013 1217h0M1013 1202h0M1013 1222v2M1014 1212v3M1014 1202h0M1014 1204v2M1015 1198h0M1015 1217h0M1015 1224v3M1016 1228v4M1016 1218v2M1016 1201v3M1016 1198v3M1017 1205v4M1017 1196v5M1018 1199h0M1018 1222v5M1018 1240h0M1019 1253h0M1019 1266h0M1019 1263v5M1019 1292h0M1020 1285v3M1020 1293h0M1021 1288h0M1021 1276h0M1021 1289h0M1022 1273h0M1022 1283v7M1022 1286v3M1022 1279v4M1023 1257h0M1023 1289h0M1023 1283v3M1024 1253v4M1024 1261v5M1025 1257v5M1025 1253h0M1025 1258v2M1026 1277v2M1026 1261v2M1026 1255v4M1026 1275v4M1027 1272v7M1027 1286h0M1028 1267v2M1028 1253h0M1028 1266h0M1028 1280v5M1029 1261v4M1029 1258v5M1030 1254h0M1030 1266v7M1030 1276h0M1031 1254v2M1031 1231v4M1031 1225v3M1032 1226v3M1032 1231h0M1032 1223v7M1033 1219h0M1033 1226h0M1033 1208h0M1033 1211v4M1034 1215v3M1034 1217v5M1034 1214v3M1035 1225v3M1035 1219v3M1035 1220v2M1036 1225h0M1036 1217v7M1036 1228v5M1037 1233h0M1037 1243h0M1038 1241v3M1038 1246h0M1038 1256h0M1038 1250v7M1039 1256v5M1039 1235v5M1039 1236h0M1040 1232h0M1040 1232h0M1040 1245v4M1041 1242h0M1041 1264v4M1042 1241h0M1042 1230h0M1042 1227v5M1042 1230v7M1043 1249h0M1043 1246v7M1043 1232h0M1044 1259h0M1044 1235v4M1044 1234v4M1045 1226v4M1045 1239h0M1046 1227v3M1046 1233h0M1046 1230h0M1046 1263h0M1047 1235v3M1047 1235h0M1047 1257v5M1048 1259h0M1048 1234v4M1049 1231h0M1049 1237v5M1049 1241v5M1050 1242v2M1050 1248v4M1050 1234h0M1051 1242h0M1051 1253v3M1051 1256v2M1052 1247v4M1052 1267v3M1052 1257v2M1052 1265v7M1053 1265h0M1053 1270h0M1054 1267v4M1054 1265v5M1054 1270v2M1055 1243v4M1055 1253v2M1055 1270h0M1056 1268v3M1056 1257v5M1056 1242h0M1056 1240v2M1057 1255v7M1057 1235h0M1058 1251v4M1058 1238v3M1058 1246v7M1058 1240v7M1059 1239v7M1059 1262v5M1060 1251v5M1060 1251v4M1060 1235v7M1061 1221v4M1061 1229v3M1061 1213v4M1061 1218v2M1062 1215v4M1062 1208v2M1063 1204h0M1063 1208h0M1063 1210h0M1064 1204h0M1064 1198v3M1064 1197h0M1065 1198h0M1065 1194v7M1065 1195h0M1065 1195h0M1066 1203v4M1066 1199v2M1066 1196v2M1067 1196v7M1067 1196h0M1068 1195h0M1068 1205v5M1068 1210v5M1069 1223h0M1069 1198h0M1069 1204v5M1070 1215v2M1070 1225v7M1070 1226v4M1071 1235h0M1071 1254v2M1071 1250v4M1071 1248v7M1072 1255v5M1072 1241v2M1073 1263h0M1073 1241v5M1073 1250h0M1073 1257v3M1074 1257h0M1074 1252v2M1075 1248h0M1075 1257h0M1075 1242v7M1076 1262v5M1076 1263v2M1076 1262h0M1077 1245v2M1077 1228h0M1077 1228v2M1077 1240h0M1078 1258h0M1078 1263h0M1078 1251h0M1079 1253h0M1079 1252v2M1079 1260h0M1080 1260h0M1080 1263v5M1081 1263v3M1081 1258h0M1081 1265h0M1082 1262v2M1082 1250v5M1082 1258v7M1082 1232v3M1083 1256h0M1083 1256v7M1084 1261v2M1084 1263v5M1084 1260v3M1085 1218h0M1085 1215v2M1085 1212v7M1085 1215h0M1086 1213v4M1086 1211v7M1087 1214h0M1087 1213v3M1087 1213v2M1088 1214h0M1088 1215v5M1088 1213h0M1089 1213v2M1089 1215h0M1089 1212v3M1090 1214h0M1090 1211v3M1090 1211v3M1090 1212h0M1091 1211v2M1091 1211v3M1092 1211v7M1092 1211v3M1092 1218h0M1092 1237v4M1093 1220v2M1093 1263h0M1094 1258v4M1094 1254h0M1094 1217v4M1095 1247v3M1095 1262h0M1095 1264h0M1096 1246v2M1096 1248v7M1096 1224v4M1097 1218v7M1097 1214v3M1097 1213v5M1098 1215v2M1098 1223v5M1098 1217v5M1099 1230h0M1099 1256v4M1099 1260v5M1100 1256v5M1100 1233h0M1100 1215h0M1101 1211v3M1101 1204v5M1101 1218v7M1102 1212v7M1102 1209v4M1102 1217h0M1103 1236v7M1103 1226v5M1103 1223v7M1104 1232h0M1104 1242h0M1104 1243v3M1105 1239h0M1105 1243v2M1105 1207h0M1106 1204v2M1106 1237v7M1106 1219v2M1107 1222v7M1107 1203v3M1107 1216v5M1108 1208v5M1108 1226v7M1108 1224v3M1109 1241v3M1109 1245v5M1109 1245v2M1109 1205v5M1110 1220v4M1110 1196h0M1111 1247h0M1111 1247h0M1111 1240h0M1112 1243h0M1112 1238v4M1112 1238v3M1112 1246v3M1113 1240v4M1113 1240h0M1114 1214v5M1114 1223h0M1114 1214h0M1114 1242v3M1115 1243v4M1115 1243v2M1116 1226v5M1116 1236h0M1116 1228h0M1117 1211h0M1117 1204v5M1117 1199v2M1118 1187v4M1118 1182v5M1118 1222h0M1119 1212v3M1119 1215v7M1119 1211v7M1120 1222v5M1120 1237h0M1120 1242v4M1121 1246h0M1121 1239h0M1121 1243v3M1121 1230v3M1122 1179v2M1122 1218v2M1123 1227h0M1123 1191v2M1123 1187h0M1124 1199h0M1124 1186v3M1124 1200v7M1125 1209v4M1125 1219v2M1125 1243h0M1126 1189v4M1126 1198v7M1126 1215v7M1127 1233v4M1127 1220h0M1127 1224h0M1128 1248v4M1128 1248v4M1128 1247v3M1129 1248v5M1129 1250h0M1129 1249h0M1130 1242v7M1130 1246h0M1130 1249v2M1131 1250h0M1131 1247h0M1131 1249v2M1132 1248v2M1132 1249h0M1132 1246h0M1133 1239v5M1133 1236v4M1133 1226v5M1134 1246v3M1134 1236v3M1134 1216v3M1135 1237v7M1135 1248v2M1135 1242h0M1136 1244v4M1136 1243v7M1136 1225v3M1137 1206v3M1137 1206v4M1137 1239h0M1138 1242v4M1138 1244v2M1138 1230h0M1138 1212h0M1139 1247h0M1139 1235v7M1140 1222h0M1140 1250h0M1140 1246h0M1141 1240v3M1141 1243h0M1141 1245v2M1142 1239h0M1142 1219h0M1142 1212v2M1143 1216h0M1143 1218h0M1143 1196v5M1144 1218h0M1144 1216v5M1144 1216v5M1144 1217h0M1145 1218h0M1145 1205h0M1145 1212v5M1146 1210h0M1146 1212v5M1147 1199h0M1147 1188h0M1147 1188v5M1147 1200h0M1148 1204h0M1148 1191h0M1149 1198v5M1149 1190h0M1149 1191v5M1150 1198v3M1150 1193v4M1150 1179v5M1151 1177v7M1151 1183v2M1151 1180v2M1152 1194h0M1152 1177v7M1152 1180h0M1153 1201v2M1153 1196v2M1153 1195v4M1154 1184h0M1154 1177v7M1154 1180v3M1155 1179v3M1155 1183v3M1155 1181h0M1156 1179v2M1156 1187v7M1156 1195h0M1157 1185v4M1157 1205v4M1157 1210v4M1158 1207v4M1158 1211h0M1158 1215v5M1159 1216v3M1159 1218h0M1159 1209v3M1160 1179v3M1160 1213h0M1160 1166v2M1161 1161v2M1161 1156v5M1161 1175h0M1162 1171h0M1162 1164h0M1162 1164h0M1163 1191h0M1163 1192v3M1163 1201h0M1164 1167v5M1164 1173h0M1164 1158h0M1165 1164h0M1165 1170h0M1165 1167v7M1166 1195h0M1166 1203v5M1166 1186v2M1167 1209v2M1167 1181h0M1167 1157v4M1168 1182v2M1168 1170v5M1168 1159v5M1169 1179v3M1169 1164h0M1169 1162v4M1170 1183h0M1170 1168h0M1170 1200h0M1170 1164v2M1171 1198h0M1171 1200v5M1172 1200h0M1172 1196v5M1172 1182v3M1173 1210v3M1173 1207h0M1173 1211v2M1174 1211h0M1174 1208v5M1174 1184v5M1175 1180v3M1175 1157v5M1175 1156h0M1176 1155v3M1176 1158v3M1176 1157h0M1177 1160v5M1177 1154v7M1177 1163v3M1178 1169v3M1178 1174v2M1178 1213v3M1179 1215v4M1179 1220v7M1179 1221h0M1180 1215v2M1180 1220v4M1180 1187h0M1181 1167v2M1181 1194v2M1181 1198h0M1182 1187h0M1182 1191h0M1182 1211v4M1183 1211v3M1183 1199v2M1183 1169v3M1184 1191v3M1184 1203v2M1184 1199h0M1185 1186v4M1185 1223h0M1185 1221h0M1186 1218v5M1186 1222h0M1186 1220v7M1187 1220v5M1187 1214v5M1187 1221v4M1188 1221v5M1188 1216h0M1188 1218h0M1189 1195v7M1189 1177v4M1189 1196h0M1190 1167h0M1190 1162v7M1190 1176v2M1191 1188v5M1191 1165h0M1191 1173v2M1192 1160v7M1192 1161v7M482 1245h0M483 1238v3M482 1231h0M483 1220v2M483 1267h0M482 1257h0M489 1292v3M489 1291h0M488 1284v2M489 1277v3M493 1146h0M493 1143h0M493 1140h0M492 1136h0M493 1133h0M494 1164v2M494 1161h0M494 1153h0M592 1236v3M592 1233h0M592 1227h0M604 1266v3M604 1263h0M604 1260h0M604 1256h0M603 1252h0M663 1183h0M664 1180h0M663 1176h0M664 1172h0M664 1169h0M664 1166h0M664 1162h0M664 1158h0M664 1152v3M666 1219h0M666 1214h0M666 1207v2M666 1202v3M666 1195v3M666 1191h0M722 1111v2M722 1107v2M722 1104v2M722 1145v3M722 1140h0M722 1136v2M722 1130v3M772 1119v2M772 1116v2M773 1113h0M772 1110h0M788 1224v2M788 1220h0M787 1215h0M788 1211h0M800 1224v2M800 1214v2M800 1204v2M800 1196h0M803 1246h0M803 1242h0M802 1235v2M802 1228v3M803 1224h0M803 1219h0M834 1200v2M834 1194v2M807 942v2M806 940h0M806 934v3M806 932v3M807 964h0M807 959h0M807 956h0M828 978v3M829 975h0M829 972h0M828 968h0M828 964h0"/>
<path class="d" stroke="#241a3a" stroke-width="5" d="M491 1194h0M590 1136h0M656 1135h0M677 1119h0M677 1172h0M722 1123h0M722 1153h0M722 1174h0M750 1270h0M772 1130h0M772 1141h0M772 1160h0M772 1169h0M774 1181h0M817 1078h0M817 1113h0M817 1121h0M817 1137h0M829 1160h0M874 1106h0M911 1202h0M1168 1079h0M982 1218h0M1178 1228h0M817 997h0M805 1021h0M817 1029h0"/>
<path class="ax" stroke-width="4.5" d="M330.4 750.9 V1366.4"/>
<path class="ax" stroke-width="3.9" d="M330.4 1364.4 H1233"/>
<path class="ax" stroke-width="3.8" d="M330.4 1304.5 h10.8 M330.4 1243 h10.8 M330.4 1181.5 h10.8 M330.4 1119.5 h10.8 M330.4 1057.5 h10.8 M330.4 996.7 h10.8 M330.4 936.4 h10.8 M330.4 873.7 h10.8 M330.4 812.9 h10.8 M330.4 752.9 h10.8 M480.5 1364.4 v-11.8 M630.7 1364.4 v-11.8 M780.8 1364.4 v-11.8 M930.9 1364.4 v-11.8 M1081.1 1364.4 v-11.8 M1231.2 1364.4 v-11.8"/>
</g>
<g>
<text font-size="67.5" letter-spacing="0.7" transform="translate(1487 1388.4) scale(0.95 1)" text-anchor="end">0</text>
<text font-size="67.5" letter-spacing="0.7" transform="translate(1487 1326.9) scale(0.95 1)" text-anchor="end">10</text>
<text font-size="67.5" letter-spacing="0.7" transform="translate(1487 1265.3) scale(0.95 1)" text-anchor="end">20</text>
<text font-size="67.5" letter-spacing="0.7" transform="translate(1487 1203.8) scale(0.95 1)" text-anchor="end">30</text>
<text font-size="67.5" letter-spacing="0.7" transform="translate(1487 1142.2) scale(0.95 1)" text-anchor="end">40</text>
<text font-size="67.5" letter-spacing="0.7" transform="translate(1487 1080.7) scale(0.95 1)" text-anchor="end">50</text>
<text font-size="67.5" letter-spacing="0.7" transform="translate(1487 1019.1) scale(0.95 1)" text-anchor="end">60</text>
<text font-size="67.5" letter-spacing="0.7" transform="translate(1487 957.6) scale(0.95 1)" text-anchor="end">70</text>
<text font-size="67.5" letter-spacing="0.7" transform="translate(1487 896) scale(0.95 1)" text-anchor="end">80</text>
<text font-size="67.5" letter-spacing="0.7" transform="translate(1487 834.5) scale(0.95 1)" text-anchor="end">90</text>
<text font-size="67.5" letter-spacing="0.7" transform="translate(1487 772.9) scale(0.95 1)" text-anchor="end">100</text>
<g transform="translate(1370.1 1155.7) rotate(-90)" font-size="66"><text letter-spacing="-5.6" transform="translate(-2.1 0) scale(1.065 1)">MP</text><text transform="translate(91.9 12.1) scale(0.92 1)" font-size="51">7</text><text x="123.5" y="0">/cm</text></g>
<text font-size="67.5" letter-spacing="0.7" transform="translate(1520.1 1424.6) scale(0.95 1)" text-anchor="end" word-spacing="-3">0</text>
<text font-size="67.5" letter-spacing="0.7" transform="translate(1702.2 1424.6) scale(0.95 1)" text-anchor="end" word-spacing="-3">500</text>
<text font-size="67.5" letter-spacing="0.7" transform="translate(1868.1 1424.6) scale(0.95 1)" text-anchor="end" word-spacing="-3">1 000</text>
<text font-size="67.5" letter-spacing="0.7" transform="translate(2015.7 1424.6) scale(0.95 1)" text-anchor="end" word-spacing="-3">1 500</text>
<text font-size="67.5" letter-spacing="0.7" transform="translate(2170 1424.6) scale(0.95 1)" text-anchor="end" word-spacing="-3">2 000</text>
<text font-size="67.5" letter-spacing="0.7" transform="translate(2324.3 1424.6) scale(0.95 1)" text-anchor="end" word-spacing="-3">2 500</text>
<text font-size="67.5" letter-spacing="0.7" transform="translate(2476.6 1424.6) scale(0.95 1)" text-anchor="end" word-spacing="-3">3 000</text>
<text class="cj" x="1964.4" y="1537.9" text-anchor="middle" letter-spacing="2">历元</text>
<path class="d" stroke="#3fb4d6" stroke-width="5.2" d="M1505 1271h0M1506 1273h0M1506 1272v2M1506 1271v2M1506 1265v5M1507 1253v7M1507 1249v2M1507 1257h0M1508 1253v2M1508 1257v5M1508 1266h0M1509 1265h0M1509 1247v4M1509 1254v7M1510 1251h0M1510 1250v5M1510 1248h0M1511 1257h0M1511 1241v4M1511 1254v7M1512 1257v3M1512 1258v4M1513 1259v3M1513 1258v4M1513 1253v3M1513 1257v5M1514 1257v3M1514 1260h0M1514 1259h0M1515 1249v5M1515 1247h0M1516 1230v7M1516 1249v3M1516 1254v5M1517 1250v7M1517 1243v4M1517 1235h0M1518 1253v3M1518 1235v3M1518 1223h0M1518 1221v3M1519 1222v4M1519 1246v5M1520 1239v7M1520 1255h0M1520 1259v3M1520 1249h0M1521 1249v5M1521 1259v3M1521 1253v7M1522 1253h0M1522 1229v2M1522 1233h0M1523 1248v4M1523 1252v2M1524 1254v3M1524 1230v4M1524 1256v3M1525 1255v4M1525 1251v4M1525 1220v7M1526 1215v4M1526 1231v4M1526 1242v5M1527 1230v7M1527 1258h0M1527 1228v7M1527 1224v3M1528 1228h0M1528 1229h0M1528 1230v3M1529 1230v7M1529 1230v3M1529 1231h0M1530 1229v4M1530 1230v4M1530 1233h0M1531 1251h0M1531 1244v5M1532 1249v7M1532 1256v2M1532 1259v3M1532 1257v3M1533 1260h0M1533 1258v4M1533 1260h0M1534 1252h0M1534 1233h0M1534 1239h0M1535 1252h0M1535 1257h0M1535 1258v2M1536 1252h0M1536 1251v5M1537 1245v4M1537 1249v4M1537 1239v3M1537 1247v3M1538 1242v3M1538 1232v4M1538 1235h0M1539 1233h0M1539 1234v5M1539 1238h0M1540 1240v5M1540 1230v7M1541 1231v4M1541 1232v4M1541 1231v4M1541 1231v4M1542 1235h0M1542 1234v2M1542 1246v4M1543 1245v5M1543 1239h0M1543 1231v7M1544 1245h0M1544 1236h0M1545 1235h0M1545 1243h0M1545 1245v2M1545 1245h0M1546 1243v4M1546 1245h0M1546 1239v2M1547 1239v5M1547 1236v7M1548 1227v4M1548 1224v7M1548 1244h0M1548 1228v5M1549 1242v2M1549 1246v2M1549 1244h0M1550 1235h0M1550 1242v5M1551 1230v3M1551 1214h0M1551 1247v3M1551 1246h0M1552 1243v2M1552 1247v2M1552 1238h0M1553 1248h0M1553 1245h0M1554 1244h0M1554 1246v5M1554 1248h0M1554 1246h0M1555 1247h0M1555 1242v3M1555 1241v5M1556 1240h0M1556 1226h0M1556 1247h0M1557 1238h0M1557 1245v5M1557 1236h0M1558 1230h0M1558 1233v2M1559 1237v7M1559 1245v2M1559 1230v4M1560 1221v2M1560 1242h0M1560 1246v2M1561 1239h0M1561 1241v4M1561 1229h0M1562 1223h0M1562 1217v3M1562 1230v5M1562 1224h0M1563 1235h0M1563 1248h0M1563 1246v5M1564 1257v2M1564 1265v3M1564 1273v2M1565 1273v4M1565 1275h0M1566 1274v2M1566 1273h0M1566 1263v4M1567 1270v3M1567 1253h0M1567 1257h0M1567 1268v5M1568 1273v2M1568 1265v4M1568 1247h0M1569 1251v4M1569 1243h0M1570 1241v2M1570 1269h0M1570 1268v4M1571 1268v7M1571 1266h0M1571 1272v4M1571 1275h0M1572 1268h0M1572 1275h0M1572 1260h0M1573 1268h0M1573 1274v2M1574 1271v7M1574 1264h0M1574 1264v5M1574 1249h0M1575 1232v5M1575 1246v2M1576 1251h0M1576 1232h0M1576 1233h0M1576 1228v7M1577 1228v7M1577 1228v5M1577 1231h0M1578 1236v5M1578 1243h0M1579 1228v5M1579 1228v5M1579 1229v3M1579 1227v7M1580 1229v5M1580 1229v7M1580 1234v2M1581 1241h0M1581 1233v4M1581 1232h0M1582 1229v3M1582 1234v2M1583 1232h0M1583 1231h0M1583 1230v2M1584 1233h0M1584 1230v3M1584 1240v4M1585 1241v5M1585 1235h0M1585 1229v5M1586 1241v4M1586 1230v7M1586 1239h0M1586 1234h0M1587 1238v7M1587 1232h0M1588 1240v2M1588 1241h0M1588 1251v4M1589 1242v7M1589 1245v5M1589 1248v2M1589 1256h0M1590 1258h0M1590 1255v5M1591 1258h0M1591 1253v7M1591 1242v3M1591 1247h0M1592 1236v5M1592 1229v7M1592 1225v5M1593 1232v2M1593 1225v3M1593 1232v3M1594 1218v7M1594 1246h0M1595 1245v3M1595 1243v5M1595 1247h0M1595 1230h0M1596 1238v5M1596 1209h0M1596 1209h0M1597 1208v3M1597 1210v4M1597 1220v2M1598 1219v5M1598 1219v5M1598 1207h0M1599 1242v4M1599 1244v3M1599 1236v7M1600 1242v3M1600 1244v7M1600 1247v2M1601 1240v7M1601 1247h0M1602 1245h0M1602 1239v3M1602 1236h0M1603 1229v7M1603 1246v3M1603 1227v5M1604 1240v3M1604 1219h0M1604 1223v5M1604 1226v7M1605 1215h0M1605 1222v7M1605 1225h0M1606 1226h0M1606 1226h0M1607 1217v3M1607 1221h0M1607 1224v3M1608 1216v7M1608 1222h0M1608 1237v2M1608 1245v7M1609 1241v7M1609 1254v2M1610 1243v2M1610 1264v4M1610 1265h0M1610 1262v5M1611 1246v5M1611 1249v7M1612 1240v2M1612 1242h0M1612 1244v5M1613 1253v7M1613 1263h0M1613 1262v4M1614 1259h0M1614 1258v5M1614 1249v7M1614 1261h0M1615 1264v4M1615 1256v7M1615 1252v5M1616 1237h0M1616 1236h0M1616 1232v4M1617 1232v4M1617 1237h0M1617 1236h0M1618 1256v7M1618 1260h0M1619 1261h0M1619 1239v5M1619 1255h0M1619 1234h0M1620 1232v4M1620 1233h0M1621 1232v7M1621 1251h0M1621 1251v2M1621 1256h0M1622 1243v4M1622 1240h0M1623 1246h0M1623 1249h0M1623 1253v2M1623 1244v4M1624 1232v5M1624 1254h0M1624 1240h0M1625 1252v4M1625 1260v7M1625 1265v7M1626 1262h0M1626 1262h0M1626 1262v3M1627 1262v5M1627 1270h0M1627 1262v4M1628 1280h0M1628 1265v2M1628 1261v4M1629 1261h0M1629 1261h0M1630 1259v4M1630 1259v3M1630 1258v7M1631 1260v2M1631 1265v2M1631 1283h0M1632 1277h0M1632 1278v7M1632 1272v4M1633 1277v2M1633 1268h0M1633 1281h0M1634 1273v5M1634 1281h0M1634 1272v7M1634 1283v3M1635 1274h0M1635 1274h0M1635 1284v3M1636 1272v4M1636 1289v2M1636 1286v7M1637 1285h0M1637 1275v4M1638 1270v2M1638 1260v3M1638 1261v5M1639 1251h0M1639 1249h0M1639 1258h0M1640 1263h0M1640 1262v2M1640 1262v3M1641 1263h0M1641 1260v7M1641 1258v2M1642 1239v7M1642 1241h0M1642 1261h0M1643 1262h0M1643 1263h0M1643 1261v4M1644 1245v7M1644 1250v4M1644 1253v3M1644 1259v2M1645 1234v7M1645 1241v5M1645 1235v4M1646 1236v2M1646 1232v3M1647 1234h0M1647 1233v3M1647 1245v4M1647 1236v5M1648 1232v5M1648 1233v3M1648 1234h0M1649 1235v3M1649 1244v7M1649 1246h0M1650 1275v5M1650 1286v5M1650 1286v4M1651 1286v5M1651 1284v2M1652 1285v2M1652 1288h0M1652 1277v5M1652 1273h0M1653 1289h0M1653 1282v5M1654 1285v7M1654 1263h0M1654 1287v3M1655 1283v4M1655 1257h0M1655 1279v3M1656 1274v4M1656 1271v5M1656 1283v2M1656 1271h0M1657 1278v5M1657 1287h0M1658 1285h0M1658 1283v2M1658 1277v3M1659 1258h0M1659 1249v7M1659 1251v4M1659 1254v7M1660 1266v3M1660 1249v2M1661 1250v4M1661 1261v4M1661 1285h0M1662 1284h0M1662 1261v2M1662 1266v7M1663 1276v4M1663 1277v3M1663 1279v2M1664 1270h0M1664 1261v4M1664 1274v7M1664 1273v3M1665 1256v2M1665 1267h0M1666 1261v2M1666 1267h0M1666 1266v3M1667 1266v2M1667 1260v5M1667 1271h0M1667 1274v7M1668 1268v3M1668 1254v5M1669 1265v7M1669 1254v4M1669 1254h0M1669 1263h0M1670 1266h0M1670 1279h0M1670 1281h0M1671 1275v2M1671 1272v4M1671 1279v2M1672 1280v3M1672 1279v5M1672 1282h0M1673 1282h0M1673 1278v7M1673 1280v4M1674 1282h0M1674 1282h0M1675 1282h0M1675 1281h0M1675 1278h0M1676 1275v4M1676 1276v2M1676 1268v2M1677 1279h0M1677 1277v2M1677 1255h0M1678 1257v4M1678 1269v2M1678 1262v4M1679 1281v2M1679 1266v3M1679 1265v7M1679 1279v4M1680 1274v2M1680 1280v2M1681 1280v4M1681 1282h0M1681 1280h0M1682 1265v4M1682 1274v4M1682 1281h0M1683 1275v7M1683 1263v3M1683 1257v4M1683 1274v2M1684 1257h0M1684 1255v4M1685 1256v3M1685 1255v5M1685 1258v7M1685 1259h0M1686 1259v2M1686 1261v4M1687 1259v3M1687 1260v5M1687 1265v5M1688 1271h0M1688 1281v7M1688 1273h0M1688 1280v3M1689 1270v4M1689 1277v3M1690 1265h0M1690 1255v7M1690 1258h0M1690 1257v2M1691 1255v5M1691 1257h0M1692 1258h0M1692 1255v4M1692 1256v2M1693 1256v4M1693 1260v3M1693 1261h0M1693 1267v2M1694 1253v7M1694 1274v7M1694 1269h0M1695 1265h0M1695 1281h0M1695 1266v7M1696 1283h0M1696 1288v2M1697 1281v4M1697 1289h0M1697 1272v3M1698 1275v2M1698 1285v5M1698 1263h0M1698 1272v4M1699 1269v2M1699 1261h0M1700 1260h0M1700 1271h0M1700 1266v4M1701 1261h0M1701 1265h0M1701 1283h0M1701 1267h0M1702 1260v4M1702 1267v3M1703 1265h0M1703 1263h0M1703 1262h0M1703 1261v2M1704 1260v3M1704 1262h0M1705 1272h0M1705 1270v2M1705 1274v7M1705 1285v2M1706 1275h0M1706 1283v3M1707 1285v5M1707 1274v3M1707 1284v3M1708 1267h0M1708 1281v7M1708 1283v2M1708 1283v7M1709 1276v4M1709 1276v2M1710 1267h0M1710 1278h0M1710 1273v2M1710 1266v5M1711 1283v7M1711 1270v4M1712 1283v3M1712 1272v4M1712 1272v4M1713 1274h0M1713 1277v4M1713 1272h0M1714 1274h0M1714 1270h0M1714 1278h0M1714 1265v4M1715 1261v4M1715 1261v2M1716 1260v5M1716 1261v3M1716 1261v3M1716 1262h0M1717 1259v7M1717 1275v5M1718 1267v5M1718 1279v2M1718 1266h0M1719 1278v5M1719 1264v2M1719 1283v2M1719 1285v5M1720 1288h0M1720 1272v5M1721 1277v7M1721 1273h0M1721 1261v4M1722 1269h0M1722 1286v2M1722 1286h0M1723 1284v7M1723 1288h0M1723 1270h0M1724 1268v2M1724 1264v5M1724 1284h0M1725 1277h0M1725 1286h0M1725 1278v3M1726 1276v7M1726 1270v4M1726 1281h0M1727 1273h0M1727 1283h0M1727 1271v3M1728 1281h0M1728 1281v7M1728 1260v7M1728 1284v3M1729 1271v5M1729 1270h0M1729 1264h0M1730 1264h0M1730 1268v5M1731 1262v2M1731 1262v5M1731 1271h0M1731 1277v4M1732 1267h0M1732 1280h0M1733 1277h0M1733 1272h0M1733 1265h0M1734 1260v3M1734 1261h0M1734 1258v5M1734 1260v2M1735 1259v2M1735 1262h0M1735 1263h0M1736 1262h0M1736 1263h0M1737 1265h0M1737 1277h0M1737 1265v2M1738 1277v7M1738 1283v4M1738 1279v5M1739 1286h0M1739 1282h0M1739 1278v7M1739 1285v3M1740 1270v3M1740 1262v5M1741 1275v5M1741 1278h0M1741 1283v2M1741 1275v7M1742 1265v5M1742 1265v2M1743 1268h0M1743 1274h0M1743 1278h0M1743 1271v4M1744 1261v4M1744 1259v4M1745 1282h0M1745 1282h0M1745 1282v7M1745 1280v4M1746 1271v7M1746 1265h0M1747 1266v3M1747 1280h0M1747 1274v3M1748 1265h0M1748 1262v2M1748 1270v4M1749 1267h0M1749 1276v3M1749 1283v4M1750 1283v3M1750 1284v4M1750 1284v2M1751 1285h0M1751 1279v5M1751 1281h0M1752 1277v7M1752 1283v3M1752 1280v5M1753 1272v5M1753 1284v3M1753 1282v7M1753 1280v7M1754 1285h0M1754 1285h0M1754 1282v7M1755 1282h0M1755 1284h0M1756 1282v5M1756 1282v3M1756 1279v7M1756 1278h0M1757 1279h0M1757 1279v4M1758 1274v5M1758 1283v4M1758 1284h0M1759 1278v7M1759 1267v3M1759 1279v3M1760 1282h0M1760 1270v5M1760 1280v3M1760 1283h0M1761 1276v7M1761 1282h0M1762 1272v4M1762 1274h0M1762 1281h0M1762 1280h0M1763 1275v4M1763 1271v4M1763 1252h0M1764 1255v3M1764 1253v3M1765 1271h0M1765 1275h0M1765 1270v2M1765 1278h0M1766 1274h0M1766 1272v3M1766 1275h0M1767 1270v7M1767 1276v5M1768 1278h0M1768 1276v2M1768 1272v5M1768 1276v3M1769 1275h0M1769 1274v3M1769 1269v5M1770 1274h0M1770 1271v7M1770 1266v5M1771 1269v3M1771 1249v5M1772 1250v7M1772 1261v5M1772 1274h0M1772 1265v7M1773 1274v3M1773 1280v3M1774 1272v5M1774 1269v4M1774 1273v5M1775 1276h0M1775 1265v4M1775 1280v3M1775 1274v2M1776 1264v2M1776 1261h0M1777 1262v5M1777 1263v4M1777 1264h0M1778 1261h0M1778 1262h0M1778 1262v7M1778 1261h0M1779 1258v5M1779 1260v2M1780 1260h0M1780 1260h0M1780 1259v4M1780 1257v7M1781 1263h0M1781 1260v4M1782 1263v2M1782 1261h0M1782 1265h0M1783 1260h0M1783 1260h0M1783 1260h0M1784 1258v4M1784 1259v3M1784 1261h0M1784 1261h0M1785 1257v7M1785 1257v7M1785 1261h0M1786 1257v7M1786 1266v4M1786 1266h0M1787 1274v3M1787 1267v3M1788 1282h0M1788 1275v7M1788 1282h0M1789 1283h0M1789 1283h0M1789 1284h0M1789 1273h0M1790 1281v5M1790 1283v2M1791 1271v5M1791 1251h0M1791 1270v4M1792 1253v7M1792 1246v7M1792 1268v5M1793 1250h0M1793 1275v3M1793 1285h0M1794 1261v5M1794 1271h0M1794 1252v2M1795 1233v7M1795 1283v2M1795 1272v3M1796 1276h0M1796 1285h0M1796 1276v7M1796 1282h0M1797 1282v4M1797 1271h0M1797 1241v2M1798 1230v7M1798 1236h0M1799 1238h0M1799 1243v7M1799 1252h0M1800 1254h0M1800 1247h0M1800 1245h0M1801 1232v3M1801 1236v5M1801 1245v5M1802 1239v4M1802 1259v3M1802 1257v4M1802 1261h0M1803 1246v2M1803 1254v7M1804 1253h0M1804 1246v2M1804 1252h0M1805 1239v7M1805 1252v7M1805 1239h0M1805 1236v4M1806 1235h0M1806 1248h0M1807 1254v5M1807 1257h0M1807 1252h0M1807 1257h0M1808 1261h0M1808 1259v3M1809 1258h0M1809 1255h0M1809 1257h0M1810 1250v2M1810 1247h0M1810 1240v4M1811 1257v7M1811 1264h0M1811 1264v7M1811 1263v4M1812 1280h0M1812 1248v3M1813 1263v2M1813 1234v7M1813 1247h0M1814 1249v3M1814 1259v2M1814 1257h0M1814 1250h0M1815 1234v2M1815 1242h0M1816 1233v4M1816 1235h0M1816 1234v7M1816 1241h0M1817 1229v3M1817 1232v2M1818 1237v3M1818 1257v3M1818 1248v4M1818 1243h0M1819 1235v7M1819 1251v4M1820 1248h0M1820 1260h0M1820 1236v2M1821 1250v4M1821 1235v3M1821 1229v7M1822 1254h0M1822 1256v7M1822 1258h0M1822 1259v7M1823 1257v2M1823 1261h0M1824 1258v5M1824 1253h0M1824 1250v7M1825 1257v4M1825 1248v4M1825 1234v7M1826 1252h0M1826 1240v3M1826 1232v5M1827 1248v5M1827 1251h0M1827 1228v3M1828 1226h0M1828 1232h0M1828 1232v5M1828 1235v2M1829 1242h0M1829 1238v4M1830 1244v2M1830 1246v3M1830 1246h0M1831 1235h0M1831 1249h0M1831 1228v3M1832 1258v5M1832 1259v5M1832 1247h0M1832 1251h0M1833 1242h0M1833 1246v3M1833 1260h0M1834 1230v7M1834 1250h0M1835 1246v5M1835 1252v3M1835 1256v2M1836 1244v5M1836 1239h0M1836 1228v5M1836 1240h0M1837 1230v5M1837 1242h0M1838 1257h0M1838 1233v7M1838 1249v3M1839 1257v2M1839 1252v5M1839 1227v4M1840 1247v3M1840 1244h0M1840 1244v4M1841 1264v2M1841 1236v5M1841 1248v7M1842 1262h0M1842 1249h0M1842 1257h0M1843 1248h0M1843 1254v4M1843 1252h0M1844 1235v7M1844 1241h0M1844 1220v7M1845 1234h0M1845 1232v2M1845 1222h0M1846 1221h0M1846 1221h0M1846 1222v4M1846 1229h0M1847 1232v5M1847 1222v5M1847 1234h0M1848 1234v7M1848 1233v4M1849 1220v3M1849 1219v4M1849 1222v2M1850 1225h0M1850 1221v3M1850 1223h0M1851 1225h0M1851 1227v4M1851 1239v3M1852 1227v2M1852 1223h0M1852 1223h0M1852 1232v4M1853 1227v4M1853 1221v2M1854 1242h0M1854 1222v7M1854 1223h0M1855 1213v5M1855 1209v2M1855 1213h0M1856 1198v4M1856 1196v5M1856 1195v4M1857 1194v7M1857 1197v2M1857 1195v7M1858 1201h0M1858 1208v5M1858 1221v7M1859 1200v3M1859 1205v3M1859 1194v7M1860 1195v2M1860 1205h0M1860 1194v4M1860 1195h0M1861 1193v4M1861 1193v2M1861 1192v5M1862 1197h0M1862 1200v7M1862 1195v7M1863 1218v7M1863 1218h0M1864 1219v4M1864 1224h0M1864 1208h0M1865 1212v3M1865 1210h0M1865 1192v4M1866 1206h0M1866 1207h0M1866 1213v3M1867 1196v5M1867 1201v3M1867 1221h0M1868 1200v5M1868 1208h0M1868 1188v5M1868 1201v2M1869 1198v2M1869 1189v3M1870 1188h0M1870 1212v5M1870 1217h0M1871 1192v2M1871 1223h0M1871 1217v3M1872 1210v5M1872 1209v5M1872 1215h0M1873 1229v2M1873 1231v5M1873 1240h0M1873 1241v7M1874 1239v7M1874 1243v4M1875 1229v4M1875 1229v3M1875 1242v2M1875 1240v5M1876 1236v3M1876 1234v7M1877 1241v4M1877 1230h0M1877 1234v7M1878 1237h0M1878 1224v4M1878 1217v4M1879 1223h0M1879 1220h0M1879 1222v5M1880 1218v7M1880 1226h0M1880 1207h0M1881 1196v7M1881 1192v2M1881 1186v4M1882 1187v3M1882 1185v7M1882 1189v7M1883 1199v2M1883 1194v4M1883 1205v5M1884 1206v4M1884 1208v4M1884 1216h0M1885 1210v4M1885 1188v7M1885 1198v2M1886 1201v3M1886 1201v2M1886 1196v4M1887 1196v2M1887 1205v2M1887 1188v2M1888 1194v7M1888 1193v3M1888 1200v5M1889 1198h0M1889 1193v5M1889 1190h0M1890 1188h0M1890 1189v5M1890 1188v5M1890 1190v7M1891 1195h0M1891 1190v2M1892 1198v5M1892 1188v5M1892 1187v4M1892 1190h0M1893 1188h0M1893 1188h0M1894 1187v2M1894 1185v5M1894 1186v4M1895 1188h0M1895 1189h0M1895 1188v4M1896 1190v4M1896 1188h0M1896 1203h0M1897 1191v4M1897 1195h0M1897 1207v4M1897 1208v2M1898 1190v2M1898 1191h0M1899 1188v4M1899 1190h0M1899 1193h0M1900 1185v7M1900 1184v7M1900 1193v2M1901 1187v2M1901 1185v4M1901 1192h0M1901 1190h0M1902 1192v3M1902 1189v2M1903 1187h0M1903 1189v2M1903 1191h0M1903 1191h0M1904 1202h0M1904 1198v2M1905 1204h0M1905 1196v2M1905 1216v2M1906 1226v5M1906 1239v4M1906 1250v7M1907 1254v4M1907 1255h0M1907 1251h0M1908 1233v4M1908 1250v5M1908 1254v3M1909 1250v3M1909 1260v4M1909 1238h0M1909 1246h0M1910 1247h0M1910 1235v7M1911 1226v5M1911 1241h0M1911 1246h0M1912 1261h0M1912 1268h0M1912 1239h0M1913 1253v2M1913 1259h0M1913 1260v3M1914 1260v4M1914 1235v4M1914 1250v4M1915 1258v5M1915 1245v7M1915 1267h0M1916 1246v4M1916 1257h0M1916 1229v2M1917 1234v5M1917 1234v5M1917 1266h0M1918 1256h0M1918 1246h0M1918 1264h0M1919 1263h0M1919 1262h0M1919 1263h0M1920 1261v3M1920 1261v2M1920 1251v3M1921 1239h0M1921 1232v7M1921 1250h0M1922 1233h0M1922 1230v5M1922 1225v7M1923 1228v4M1923 1238v3M1923 1245h0M1924 1236h0M1924 1260v4M1924 1260h0M1925 1260v3M1925 1260v4M1925 1260v2M1925 1230v3M1926 1257h0M1926 1245v5M1927 1234v4M1927 1241h0M1927 1227v3M1928 1227v2M1928 1236h0M1928 1243v5M1929 1249v2M1929 1246v3M1929 1248h0M1930 1260v4M1930 1261v3M1930 1261v4M1931 1263h0M1931 1261v4M1931 1262v3M1931 1260v3M1932 1258v7M1932 1254v4M1933 1240v4M1933 1262v2M1933 1260h0M1934 1260h0M1934 1249v5M1934 1216v2M1935 1201v5M1935 1196h0M1935 1183v5M1935 1202v3M1936 1218h0M1936 1218h0M1937 1212v4M1937 1188h0M1937 1194v5M1938 1184v4M1938 1181v4M1938 1184v7M1939 1210v5M1939 1187v4M1939 1218h0M1940 1192h0M1940 1202h0M1940 1200v3M1941 1210v5M1941 1183v3M1941 1187v5M1942 1198h0M1942 1219v3M1942 1235h0M1943 1244h0M1943 1260h0M1943 1249v7M1944 1254v5M1944 1259v3M1944 1256v3M1945 1257h0M1945 1252h0M1945 1245v5M1946 1241v4M1946 1259h0M1946 1250v2M1947 1261h0M1947 1248h0M1947 1230h0M1948 1226v5M1948 1225v4M1948 1229v3M1949 1223v7M1949 1226h0M1949 1225v3M1950 1228v5M1950 1225v5M1950 1229v4M1951 1236v7M1951 1241h0M1951 1240h0M1952 1230v4M1952 1235h0M1952 1239v4M1952 1224v7M1953 1253h0M1953 1235h0M1954 1259h0M1954 1231v5M1954 1225v2M1954 1226h0M1955 1228v4M1955 1243v2M1956 1225h0M1956 1224v3M1956 1229h0M1957 1226h0M1957 1225v4M1957 1244v4M1957 1256h0M1958 1254v3M1958 1239h0M1959 1240v3M1959 1253h0M1959 1234v5M1960 1239v2M1960 1248v3M1960 1232v4M1961 1227v2M1961 1233h0M1961 1224v3M1962 1224h0M1962 1224h0M1962 1234v4M1963 1247v3M1963 1238v7M1963 1251v2M1964 1267h0M1964 1252v7M1964 1270v2M1964 1255v5M1965 1263v7M1965 1272v5M1966 1268h0M1966 1265v5M1966 1241v5M1967 1272h0M1967 1267h0M1967 1237h0M1968 1247v7M1968 1236h0M1968 1233v2M1969 1234v5M1969 1240h0M1969 1234v2M1970 1240v5M1970 1235v4M1970 1251v3M1971 1238h0M1971 1233v7M1971 1237h0M1972 1236h0M1972 1243v5M1972 1246v2M1973 1250v3M1973 1249h0M1973 1250v3M1974 1270v4M1974 1260h0M1974 1257h0M1975 1252v4M1975 1257h0M1975 1249v7M1976 1233v2M1976 1235h0M1976 1234h0M1977 1249v4M1977 1256v4M1977 1245h0M1978 1232v4M1978 1234h0M1978 1233h0M1979 1234v2M1979 1263v2M1979 1253h0M1980 1271h0M1980 1261v3M1980 1241v7M1981 1239v3M1981 1233v2M1981 1243v3M1982 1242v2M1982 1245h0M1982 1231v4M1983 1232h0M1983 1243h0M1983 1260h0M1984 1263h0M1984 1246v5M1984 1269h0M1985 1240h0M1985 1238h0M1985 1269v7M1986 1256v2M1986 1235v2M1986 1236v3M1987 1244v7M1987 1253v5M1987 1244h0M1988 1268h0M1988 1272h0M1988 1253v7M1989 1264h0M1989 1253h0M1989 1259v4M1990 1243v7M1990 1245v4M1990 1247v2M1991 1251v3M1991 1248v7M1991 1267v3M1992 1268v3M1992 1269v7M1992 1270h0M1993 1258v7M1993 1260v2M1993 1254h0M1994 1261h0M1994 1247v3M1994 1260v5M1995 1261v3M1995 1266v2M1995 1266v5M1996 1264v4M1996 1267v7M1996 1271v3M1997 1272v2M1997 1270h0M1997 1273h0M1998 1272h0M1998 1270v4M1998 1268v7M1999 1273h0M1999 1272v2M1999 1270v5M2000 1272v2M2000 1270v5M2000 1263v4M2001 1271h0M2001 1249v4M2001 1270h0M2002 1272h0M2002 1272h0M2002 1261h0M2003 1268h0M2003 1256v4M2003 1246v7M2004 1240v5M2004 1244v7M2004 1246v7M2005 1262v3M2005 1273v4M2005 1258v3M2006 1254v7M2006 1258v2M2006 1249v7M2007 1252v2M2007 1250v3M2007 1250v3M2008 1251v7M2008 1252h0M2008 1258h0M2009 1272h0M2009 1254v2M2009 1254v7M2010 1267v2M2010 1275h0M2010 1280v2M2011 1269v4M2011 1280v2M2011 1266v4M2012 1257v4M2012 1265h0M2012 1262h0M2013 1253v7M2013 1256v3M2013 1260h0M2014 1256h0M2014 1263v4M2014 1265h0M2015 1261v7M2015 1274v3M2015 1278v7M2016 1269v7M2016 1256v4M2016 1260v2M2017 1274h0M2017 1250v7M2017 1270v5M2018 1255v2M2018 1254h0M2018 1263v3M2019 1276h0M2019 1258v7M2019 1279h0M2020 1268v3M2020 1276v3M2020 1277h0M2021 1267v5M2021 1279v5M2021 1278v3M2022 1280v4M2022 1273v4M2022 1262v2M2023 1270v3M2023 1273h0M2023 1272v3M2024 1280h0M2024 1277v7M2024 1279v5M2025 1278v7M2025 1281v2M2025 1278v7M2026 1277v5M2026 1278h0M2026 1270v3M2027 1264v2M2027 1270v5M2027 1266v4M2028 1263h0M2028 1273v2M2028 1275h0M2029 1275v2M2029 1270h0M2029 1273v3M2030 1272v2M2030 1270h0M2030 1269v7M2031 1258v2M2031 1270v2M2031 1272h0M2032 1271v2M2032 1273v7M2032 1271v4M2033 1273v7M2033 1276h0M2033 1263v5M2034 1261v7M2034 1254v3M2034 1267v3M2035 1272v7M2035 1249h0M2035 1240v3M2036 1252v4M2036 1254v2M2036 1242h0M2037 1263v4M2037 1276h0M2037 1274v3M2038 1245v7M2038 1241h0M2038 1248v7M2039 1255v2M2039 1247h0M2039 1259v5M2040 1253v2M2040 1242h0M2040 1241v4M2041 1237v7M2041 1239v7M2041 1240v2M2042 1241v3M2042 1247h0M2042 1251h0M2043 1252v4M2043 1240v3M2043 1247h0M2044 1260v7M2044 1241v2M2044 1240v7M2045 1239v7M2045 1248h0M2045 1259v3M2046 1253v4M2046 1267h0M2046 1251h0M2047 1263v7M2047 1267v4M2047 1253v5M2048 1253h0M2048 1266v2M2048 1267h0M2049 1260v3M2049 1265v3M2049 1223v7M2050 1232h0M2050 1235v7M2050 1257v5M2051 1227h0M2051 1225v3M2051 1235h0M2052 1257v3M2052 1222v4M2052 1257h0M2053 1247v3M2053 1260v7M2053 1264v5M2054 1263v5M2054 1261v4M2054 1263h0M2055 1252v7M2055 1265v3M2055 1257v7M2056 1244h0M2056 1226v3M2056 1263h0M2057 1252v4M2057 1248h0M2057 1238v7M2058 1262v5M2058 1265h0M2058 1252v5M2059 1259v5M2059 1241v7M2059 1237v7M2060 1254v4M2060 1256v7M2060 1253h0M2061 1247h0M2061 1257v3M2061 1261v3M2062 1251v3M2062 1254h0M2062 1250h0M2063 1238v7M2063 1262v2M2063 1257v2M2064 1262v3M2064 1263v3M2064 1260h0M2065 1242v4M2065 1244v3M2065 1233v7M2066 1234h0M2066 1236h0M2066 1231v7M2067 1234h0M2067 1231v5M2067 1234h0M2068 1230v7M2068 1236h0M2068 1237h0M2069 1243v7M2069 1241v4M2069 1262h0M2070 1250v4M2070 1254v3M2070 1241h0M2071 1250v2M2071 1240h0M2071 1251h0M2072 1249h0M2072 1254v5M2072 1239h0M2073 1246v3M2073 1246h0M2073 1264h0M2074 1256h0M2074 1247v3M2074 1240v4M2075 1237h0M2075 1236v3M2075 1234h0M2076 1232v4M2076 1232v5M2076 1232v5M2077 1236h0M2077 1238h0M2077 1235h0M2078 1241v5M2078 1248h0M2078 1231v7M2079 1225v3M2079 1224v3M2079 1226v2M2080 1226v7M2080 1222h0M2080 1221v2M2081 1219v5M2081 1222v4M2081 1242v3M2082 1223v7M2082 1224v5M2082 1225h0M2083 1226v3M2083 1227v2M2083 1238v7M2084 1226v2M2084 1220v4M2084 1230v3M2085 1244h0M2085 1228v5M2085 1241h0M2086 1220v2M2086 1224v3M2086 1222h0M2087 1238h0M2087 1224h0M2087 1241v4M2088 1225v4M2088 1224h0M2088 1221v7M2089 1227h0M2089 1252h0M2089 1248h0M2090 1244h0M2090 1245h0M2090 1241h0M2091 1228h0M2091 1228h0M2091 1232v3M2092 1249v7M2092 1232v4M2093 1225v2M2093 1247h0M2093 1245v7M2093 1233h0M2094 1220v3M2094 1227v4M2094 1225h0M2095 1238h0M2095 1238v3M2095 1230h0M2096 1249v5M2096 1243v7M2096 1237h0M2097 1242v3M2097 1241v2M2097 1251v3M2098 1248h0M2098 1253v5M2098 1238h0M2099 1238h0M2099 1236h0M2099 1237h0M2100 1233v5M2100 1238h0M2100 1243v5M2101 1250v7M2101 1252h0M2101 1252v2M2102 1237v3M2102 1234v2M2102 1234v5M2103 1233v4M2103 1243v4M2103 1232v7M2104 1240v3M2104 1234h0M2104 1245v3M2105 1235v7M2105 1238v2M2105 1235v4M2106 1233v4M2106 1235h0M2106 1247v3M2107 1250h0M2107 1246v4M2107 1237h0M2108 1234h0M2108 1235v2M2108 1252v7M2109 1249v4M2109 1249h0M2109 1256h0M2110 1248h0M2110 1235v3M2110 1236h0M2111 1234h0M2111 1248v7M2111 1251v7M2112 1246v7M2112 1261h0M2112 1260v2M2113 1260h0M2113 1255v7M2113 1250v4M2114 1254h0M2114 1239h0M2114 1240v2M2115 1229v3M2115 1238v7M2115 1249h0M2116 1233v5M2116 1231h0M2116 1233v7M2117 1241v3M2117 1245h0M2117 1247v3M2118 1233h0M2118 1234v3M2118 1234v4M2119 1233v7M2119 1226h0M2119 1239h0M2120 1232v7M2120 1224v4M2120 1213v2M2121 1207v4M2121 1204h0M2121 1199v4M2122 1218h0M2122 1201v7M2122 1214v2M2123 1201h0M2123 1207h0M2124 1201h0M2124 1199v3M2124 1201h0M2124 1196v4M2125 1199h0M2125 1197v4M2125 1219v3M2126 1215v3M2126 1211v3M2126 1222v2M2127 1232h0M2127 1233h0M2127 1219v2M2128 1210h0M2128 1197v2M2128 1207h0M2129 1213v4M2129 1207h0M2129 1220v3M2130 1229v7M2130 1205h0M2130 1206h0M2131 1192v5M2131 1224h0M2131 1230v2M2132 1230v4M2132 1214h0M2132 1224v4M2133 1230h0M2133 1229v5M2133 1229v4M2134 1210h0M2134 1221v7M2134 1227v7M2135 1228h0M2135 1205v5M2135 1210v3M2136 1228v3M2136 1219h0M2136 1214v2M2137 1198v4M2137 1209v2M2137 1207h0M2138 1228v3M2138 1201v5M2139 1199h0M2139 1203v2M2139 1200h0M2139 1197v2M2140 1198v5M2140 1201h0M2140 1214v4M2141 1226v3M2141 1226v7M2141 1224v3M2142 1223h0M2142 1197h0M2142 1198v2M2143 1196h0M2143 1201v4M2143 1204h0M2144 1199h0M2144 1221v3M2144 1220h0M2145 1205h0M2145 1214v7M2146 1209v5M2146 1197v4M2146 1200h0M2146 1215h0M2147 1205v2M2147 1198h0M2147 1223v2M2148 1233h0M2148 1233h0M2148 1228v2M2149 1229h0M2149 1222v2M2149 1194v3M2150 1212v3M2150 1199v2M2150 1209h0M2151 1206v7M2151 1213v4M2152 1217v3M2152 1219v2M2152 1223v7M2152 1231v4M2153 1220v5M2153 1243h0M2153 1229h0M2154 1219v7M2154 1219h0M2154 1222v4M2155 1255h0M2155 1239v3M2155 1244v7M2156 1230v7M2156 1240v4M2156 1222h0M2157 1219v4M2157 1226h0M2157 1217v4M2158 1224h0M2158 1224h0M2158 1217v3M2159 1219h0M2159 1217v3M2159 1221v3M2160 1226h0M2160 1220h0M2160 1225v2M2161 1231h0M2161 1224h0M2161 1228v2M2162 1224v4M2162 1234h0M2163 1228v3M2163 1220h0M2163 1232h0M2163 1226v4M2164 1227v4M2164 1229h0M2164 1235h0M2165 1233v3M2165 1228h0M2165 1226v7M2166 1240h0M2166 1231v7M2166 1224v4M2167 1238v2M2167 1221v3M2167 1218h0M2168 1216h0M2168 1216h0M2168 1216h0M2169 1231v5M2169 1228v5M2169 1216v2M2170 1214v3M2170 1216v3M2170 1214v4M2171 1214v2M2171 1215h0M2171 1215v2M2172 1213v5M2172 1214v7M2172 1221v7M2173 1227h0M2173 1217h0M2173 1234v5M2174 1214v5M2174 1218v2M2174 1222h0M2175 1224v2M2175 1225h0M2175 1217v5M2176 1220v3M2176 1224h0M2176 1238h0M2177 1230v2M2177 1226v3M2177 1249h0M2178 1257v7M2178 1267v2M2178 1272h0M2179 1265v7M2179 1272h0M2179 1266v5M2180 1261h0M2180 1241h0M2180 1247h0M2181 1252v7M2181 1267v2M2181 1269h0M2182 1256h0M2182 1271v3M2182 1272h0M2183 1270v2M2183 1270v3M2183 1270v2M2184 1265v7M2184 1247v4M2184 1246h0M2185 1241v7M2185 1245h0M2185 1249v3M2186 1241h0M2186 1258v5M2186 1264v4M2187 1271h0M2187 1267v2M2187 1263v3M2188 1241v7M2188 1248h0M2188 1255v2M2189 1243h0M2189 1241v3M2189 1239v5M2190 1246v3M2190 1262v2M2190 1239v2M2191 1247h0M2191 1253h0M2191 1240v3M2192 1237v7M2192 1239v5M2192 1243v7M2193 1242v4M2193 1246v3M2193 1241v3M2194 1247h0M2194 1270v3M2194 1264v2M2195 1254v5M2195 1271v3M2195 1244h0M2196 1246v5M2196 1250h0M2197 1256v3M2197 1250v2M2197 1249v2M2197 1250h0M2198 1251h0M2198 1255v2M2198 1256h0M2199 1268v5M2199 1261v5M2199 1253v2M2200 1245v7M2200 1263v4M2200 1269h0M2201 1274h0M2201 1260v4M2201 1258v5M2202 1267h0M2202 1271h0M2203 1252v4M2203 1268v5M2203 1270h0M2204 1279h0M2204 1276v2M2204 1272h0M2204 1252v3M2205 1250h0M2205 1258h0M2205 1262v5M2206 1259h0M2206 1250h0M2206 1246v5M2207 1250v7M2207 1251v7M2208 1277h0M2208 1264v2M2208 1279h0M2208 1269v3M2209 1262v4M2209 1248v2M2209 1273h0M2210 1273v5M2210 1256v7M2210 1266v7M2211 1259v4M2211 1250v4M2211 1250v3M2212 1246v4M2212 1248v2M2212 1248v3M2213 1246v7M2213 1248h0M2213 1248h0M2214 1250h0M2214 1266h0M2214 1273v5M2215 1267v5M2215 1259v4M2215 1271h0M2216 1259v5M2216 1258h0M2216 1263h0M2217 1280v4M2217 1277v5M2217 1277v3M2218 1278h0M2218 1267h0M2218 1282h0M2219 1281h0M2219 1257h0M2219 1266v3M2220 1276v3M2220 1279v5M2220 1265h0M2221 1262h0M2221 1266h0M2221 1254v5M2222 1273h0M2222 1257v7M2223 1266v7M2223 1263h0M2223 1280h0M2223 1278v4M2224 1280v5M2224 1283v2M2224 1264v5M2225 1277h0M2225 1277v5M2226 1274v4M2226 1257v2M2226 1266v3M2226 1283h0M2227 1275h0M2227 1276v7M2227 1276v7M2228 1279v3M2228 1274h0M2228 1281h0M2229 1282h0M2229 1271h0M2229 1278v2M2230 1276v3M2230 1270v4M2230 1263h0M2231 1280v2M2231 1257v2M2231 1259v4M2232 1280v4M2232 1263v5M2233 1273v2M2233 1270v7M2233 1276h0M2233 1257h0M2234 1271v4M2234 1268h0M2234 1276v7M2235 1281v2M2235 1264v5M2235 1270v4M2236 1252v5M2236 1252h0M2237 1254h0M2237 1254h0M2237 1257h0M2237 1265v7M2238 1267v3M2238 1264v3M2238 1243h0M2239 1257h0M2239 1254h0M2239 1237v7M2240 1236h0M2240 1245v5M2240 1239v5M2241 1245v2M2241 1251v7M2241 1235h0M2242 1250v2M2242 1259v5M2243 1256v4M2243 1238h0M2243 1259h0M2243 1246v5M2244 1242h0M2244 1234v4M2244 1242v7M2245 1234v3M2245 1253v2M2245 1235v2M2246 1234v5M2246 1232v2M2247 1235v7M2247 1232v2M2247 1232v2M2247 1234v2M2248 1233h0M2248 1231v5M2248 1231v4M2249 1234h0M2249 1240h0M2249 1232v3M2250 1240h0M2250 1231v5M2250 1231v5M2251 1241h0M2251 1234v7M2251 1239v4M2252 1250v3M2252 1252h0M2252 1259v7M2253 1243v4M2253 1231v7M2253 1250h0M2254 1238v2M2254 1242h0M2254 1231v4M2255 1233h0M2255 1236v4M2255 1239v5M2256 1264h0M2256 1251h0M2257 1247v4M2257 1248h0M2257 1253v7M2258 1254h0M2258 1248v2M2258 1260v5M2258 1262h0M2259 1276v3M2259 1278h0M2260 1278h0M2260 1276v5M2260 1276h0M2261 1276h0M2261 1267h0M2261 1272h0M2261 1267h0M2262 1262v7M2262 1277v2M2262 1279h0M2263 1275v7M2263 1273v7M2264 1275v4M2264 1267v7M2264 1278h0M2264 1276v4M2265 1276v2M2265 1265v5M2265 1258v2M2266 1272h0M2266 1260h0M2267 1267v7M2267 1274v5M2267 1273v7M2267 1272h0M2268 1260v2M2268 1256h0M2268 1268v4M2269 1274v4M2269 1260v3M2269 1263v5M2270 1271v7M2270 1265v3M2270 1251h0M2271 1264v7M2271 1263h0M2271 1254v2M2272 1263v4M2272 1247v5M2272 1268h0M2273 1276h0M2273 1277v3M2273 1258h0M2274 1256v5M2274 1268v7M2274 1278h0M2275 1276h0M2275 1254h0M2275 1270h0M2276 1272h0M2276 1257h0M2276 1251v4M2277 1257h0M2277 1268h0M2277 1254h0M2278 1250v4M2278 1250h0M2278 1246v4M2279 1246v5M2279 1244v7M2280 1253h0M2280 1244v7M2280 1249h0M2280 1245v5M2281 1250v4M2281 1246v7M2281 1275v4M2282 1268v7M2282 1270h0M2282 1249v3M2283 1253v7M2283 1256h0M2283 1252v5M2284 1275h0M2284 1275h0M2285 1279h0M2285 1278h0M2285 1272v3M2285 1271h0M2286 1262h0M2286 1258h0M2286 1269h0M2287 1271v3M2287 1257h0M2287 1279h0M2288 1256h0M2288 1262h0M2288 1252h0M2289 1273v4M2289 1270v2M2289 1264v3M2290 1256v4M2290 1254v2M2290 1265h0M2291 1257h0M2291 1252h0M2291 1252v3M2292 1267v7M2292 1276v4M2293 1275h0M2293 1270v4M2293 1279h0M2293 1272v3M2294 1281h0M2294 1270v2M2295 1253v5M2295 1264v3M2295 1267h0M2296 1248h0M2296 1251v2M2296 1244v7M2296 1250v7M2297 1252v3M2297 1279v4M2297 1275v5M2298 1280v3M2298 1279v5M2298 1278v7M2299 1280v2M2299 1279v2M2299 1278v2M2300 1274v7M2300 1272h0M2301 1258v2M2301 1255v3M2301 1257v4M2301 1264h0M2302 1256h0M2302 1263v3M2302 1273h0M2303 1270v5M2303 1257h0M2304 1251v3M2304 1251v2M2304 1263h0M2305 1256v2M2305 1254v3M2305 1259v4M2305 1249v4M2306 1249v4M2306 1250v2M2307 1251h0M2307 1250v2M2307 1249v4M2308 1251h0M2308 1252h0M2308 1254v5M2308 1249v4M2309 1251v2M2309 1252h0M2310 1253h0M2310 1251v3M2310 1250v2M2311 1251h0M2311 1251h0M2311 1251h0M2311 1260v2M2312 1252v5M2312 1253h0M2313 1252v3M2313 1250v4M2313 1259h0M2314 1253v2M2314 1251v2M2314 1270v3M2315 1256v3M2315 1258h0M2315 1263h0M2316 1262v7M2316 1268v7M2316 1275v3M2316 1276v4M2317 1275v7M2317 1277v2M2318 1279h0M2318 1277v3M2318 1275v2M2318 1276v3M2319 1278h0M2319 1276v5M2319 1274v4M2320 1275h0M2320 1276v2M2320 1276v5M2321 1270h0M2321 1267v5M2322 1256v5M2322 1252h0M2322 1240v4M2323 1251h0M2323 1246v2M2323 1264v4M2323 1251v2M2324 1261v5M2324 1264v4M2324 1262v4M2325 1263v3M2325 1254v7M2325 1251v5M2326 1257v3M2326 1255v4M2326 1254v4M2327 1256v5M2327 1249v5M2327 1248v3M2328 1259h0M2328 1249h0M2329 1251v5M2329 1263v2M2329 1265h0M2330 1263v5M2330 1263v7M2330 1265h0M2330 1242v3M2331 1256h0M2331 1250v7M2332 1248h0M2332 1241v4M2332 1247h0M2333 1252h0M2333 1232v4M2333 1230v4M2334 1242h0M2334 1233v4M2334 1236v5M2334 1235v2M2335 1232h0M2335 1247v4M2336 1240v4M2336 1239v5M2336 1243h0M2337 1243v2M2337 1247h0M2337 1242v2M2337 1243h0M2338 1248h0M2338 1247h0M2338 1222v3M2339 1234v4M2339 1242h0M2339 1230v3M2340 1246v5M2340 1229v7M2341 1223v5M2341 1219v4M2341 1238h0M2341 1221v3M2342 1221v5M2342 1230h0M2343 1220v7M2343 1220v2M2343 1223v4M2344 1220v2M2344 1220h0M2344 1222h0M2344 1218v7M2345 1235h0M2345 1223v3M2346 1228v2M2346 1236h0M2346 1234v4M2347 1230v4M2347 1227h0M2347 1217v7M2347 1218v5M2348 1220h0M2348 1221h0M2349 1239h0M2349 1244v4M2349 1248h0M2349 1238v5M2350 1244v4M2350 1248h0M2350 1227h0M2351 1238v4M2351 1236h0M2351 1232h0M2352 1234v4M2352 1233v4M2352 1233v5M2353 1233v7M2353 1235v2M2353 1233v7M2354 1236h0M2354 1242v3M2354 1240v4M2355 1256v5M2355 1241h0M2355 1257v5M2356 1248h0M2356 1255h0M2356 1249v4M2357 1254v4M2357 1262h0M2357 1268h0M2358 1258h0M2358 1262h0M2358 1257v2M2359 1252v5M2359 1263h0M2360 1247h0M2360 1267h0M2360 1267h0M2361 1247v3M2361 1243v5M2361 1239h0M2361 1250v2M2362 1250v4M2362 1243v2M2362 1245v4M2363 1235v5M2363 1236v2M2364 1239h0M2364 1236h0M2364 1245v7M2364 1238h0M2365 1265v3M2365 1269h0M2365 1250v2M2366 1245v5M2366 1245v4M1896 1074h0M1896 1069v2M1896 1066v2M1896 1062v3M1896 1059h0M1896 1055h0M1896 1050v3M1896 1048h0M1896 1043h0M1896 1040h0M1896 1037h0M1896 1033h0M1896 1027v2M1896 1025h0M1896 1019v3M1896 1018h0M1896 1115h0M1896 1109v3M1896 1105v2M1946 1060v2M1947 1057v2M1946 1053h0M1947 1050v2M1947 1047h0M1947 1043h0M1947 1039h0M1947 1035h0M1947 1032h0M1947 1027v2"/>
<path class="d" stroke="#4aa6b8" stroke-width="3.5" d="M1896 1157h0M1947 1073h0M1947 1096h0M1947 1118h0M1947 1142h0M1947 1161h0M2049 1039h0"/>
<path class="ax" stroke-width="4.5" d="M1504.5 750.9 V1366.4"/>
<path class="ax" stroke-width="3.9" d="M1504.5 1364.4 H2406.7"/>
<path class="ax" stroke-width="3.8" d="M1504.5 1304.5 h10.8 M1504.5 1243 h10.8 M1504.5 1181.5 h10.8 M1504.5 1119.5 h10.8 M1504.5 1057.5 h10.8 M1504.5 996.7 h10.8 M1504.5 936.4 h10.8 M1504.5 873.7 h10.8 M1504.5 812.9 h10.8 M1504.5 752.9 h10.8 M1654.6 1364.4 v-11.8 M1804.6 1364.4 v-11.8 M1954.7 1364.4 v-11.8 M2104.8 1364.4 v-11.8 M2254.8 1364.4 v-11.8 M2404.9 1364.4 v-11.8"/>
</g>
<g>
<text font-size="67.5" letter-spacing="0.7" transform="translate(2673.2 1388.4) scale(0.95 1)" text-anchor="end">0</text>
<text font-size="67.5" letter-spacing="0.7" transform="translate(2673.2 1326.9) scale(0.95 1)" text-anchor="end">10</text>
<text font-size="67.5" letter-spacing="0.7" transform="translate(2673.2 1265.3) scale(0.95 1)" text-anchor="end">20</text>
<text font-size="67.5" letter-spacing="0.7" transform="translate(2673.2 1203.8) scale(0.95 1)" text-anchor="end">30</text>
<text font-size="67.5" letter-spacing="0.7" transform="translate(2673.2 1142.2) scale(0.95 1)" text-anchor="end">40</text>
<text font-size="67.5" letter-spacing="0.7" transform="translate(2673.2 1080.7) scale(0.95 1)" text-anchor="end">50</text>
<text font-size="67.5" letter-spacing="0.7" transform="translate(2673.2 1019.1) scale(0.95 1)" text-anchor="end">60</text>
<text font-size="67.5" letter-spacing="0.7" transform="translate(2673.2 957.6) scale(0.95 1)" text-anchor="end">70</text>
<text font-size="67.5" letter-spacing="0.7" transform="translate(2673.2 896) scale(0.95 1)" text-anchor="end">80</text>
<text font-size="67.5" letter-spacing="0.7" transform="translate(2673.2 834.5) scale(0.95 1)" text-anchor="end">90</text>
<text font-size="67.5" letter-spacing="0.7" transform="translate(2673.2 772.9) scale(0.95 1)" text-anchor="end">100</text>
<g transform="translate(2549.5 1155.7) rotate(-90)" font-size="66"><text letter-spacing="-5.6" transform="translate(-2.1 0) scale(1.065 1)">MP</text><text transform="translate(90.2 11.4) scale(1.0 1)" font-size="51">8</text><text x="123.5" y="0">/cm</text></g>
<text font-size="67.5" letter-spacing="0.7" transform="translate(2702.1 1424.6) scale(0.95 1)" text-anchor="end" word-spacing="-3">0</text>
<text font-size="67.5" letter-spacing="0.7" transform="translate(2884.2 1424.6) scale(0.95 1)" text-anchor="end" word-spacing="-3">500</text>
<text font-size="67.5" letter-spacing="0.7" transform="translate(3050.1 1424.6) scale(0.95 1)" text-anchor="end" word-spacing="-3">1 000</text>
<text font-size="67.5" letter-spacing="0.7" transform="translate(3197.7 1424.6) scale(0.95 1)" text-anchor="end" word-spacing="-3">1 500</text>
<text font-size="67.5" letter-spacing="0.7" transform="translate(3352 1424.6) scale(0.95 1)" text-anchor="end" word-spacing="-3">2 000</text>
<text font-size="67.5" letter-spacing="0.7" transform="translate(3506.3 1424.6) scale(0.95 1)" text-anchor="end" word-spacing="-3">2 500</text>
<text font-size="67.5" letter-spacing="0.7" transform="translate(3658.6 1424.6) scale(0.95 1)" text-anchor="end" word-spacing="-3">3 000</text>
<text class="cj" x="3150.6" y="1537.9" text-anchor="middle" letter-spacing="2">历元</text>
<defs><path id="dp6" d="M2685 1233h0M2685 1233v4M2686 1221v2M2686 1234h0M2687 1232v3M2687 1225v5M2687 1199v3M2688 1197v3M2688 1189v4M2689 1195h0M2689 1207v4M2689 1190v2M2690 1194v2M2690 1201h0M2691 1190v3M2691 1191v7M2691 1211v5M2692 1213h0M2692 1197v7M2693 1221v5M2693 1218h0M2693 1231h0M2694 1232v4M2694 1232v3M2695 1208v7M2695 1234h0M2695 1230v7M2696 1231v5M2696 1231v7M2697 1200h0M2697 1190h0M2698 1219v7M2698 1183v3M2698 1195v7M2699 1185h0M2699 1185h0M2699 1181v7M2700 1185h0M2700 1188v3M2701 1190h0M2701 1187v7M2702 1199v7M2702 1183v4M2702 1184v3M2703 1183v4M2703 1184v2M2703 1184v4M2704 1184v2M2704 1204h0M2705 1187h0M2705 1207h0M2706 1184h0M2706 1183v2M2706 1197h0M2707 1189h0M2707 1211v4M2708 1210h0M2708 1217v4M2708 1218h0M2709 1208h0M2709 1207v4M2709 1200v5M2710 1221v3M2710 1200h0M2711 1209h0M2711 1201h0M2711 1200v3M2712 1213v2M2712 1189v4M2713 1195h0M2713 1203h0M2713 1217h0M2714 1208v7M2714 1216v3M2715 1210v2M2715 1222v7M2715 1202h0M2716 1220h0M2716 1197h0M2717 1225v7M2717 1212v7M2717 1210v3M2718 1230v4M2718 1204v5M2719 1215h0M2719 1238h0M2720 1206v7M2720 1217v5M2720 1237h0M2721 1228h0M2721 1238h0M2721 1216v2M2722 1230v2M2722 1206v7M2723 1208h0M2723 1200h0M2724 1235v3M2724 1216v7M2724 1223v3M2725 1182v4M2725 1180h0M2726 1200h0M2726 1215v7M2726 1192h0M2727 1225h0M2727 1219h0M2727 1200v4M2728 1187h0M2728 1199h0M2729 1174v3M2729 1183v2M2730 1184v3M2730 1190v2M2730 1215v4M2731 1219v2M2731 1180h0M2732 1192v2M2732 1201h0M2732 1196v3M2733 1215v5M2733 1189v5M2734 1187v4M2734 1183h0M2734 1197v3M2735 1175v4M2735 1214h0M2736 1210v3M2736 1186h0M2736 1204v2M2737 1217h0M2737 1218h0M2738 1219v3M2738 1198h0M2738 1221v7M2739 1221v7M2739 1214h0M2740 1218v3M2740 1219v2M2740 1223h0M2741 1183v7M2741 1180v3M2741 1204h0M2742 1218v7M2742 1223v4M2743 1214v4M2743 1225h0M2744 1223h0M2744 1181v4M2744 1199h0M2745 1198v2M2745 1222v3M2746 1222h0M2746 1196v4M2746 1198h0M2747 1200v5M2747 1179v2M2748 1195v2M2748 1188v7M2748 1196v3M2749 1171h0M2749 1184h0M2750 1169h0M2750 1166v2M2750 1165v7M2751 1177v2M2751 1189v4M2751 1198h0M2752 1178v2M2752 1180v7M2753 1186h0M2753 1202v3M2753 1201v7M2754 1203v4M2754 1194v4M2755 1201v3M2755 1197v3M2755 1203h0M2756 1199h0M2756 1193h0M2757 1178v3M2757 1168h0M2758 1189v4M2758 1191v2M2758 1172v5M2759 1171v4M2759 1168v5M2759 1204h0M2760 1204v2M2760 1203h0M2761 1201v2M2765 1238v7M2766 1240v4M2766 1244v2M2767 1270v7M2767 1280v2M2768 1280v5M2768 1271v7M2768 1282h0M2769 1269v7M2769 1282h0M2769 1264v5M2770 1268h0M2770 1250v4M2771 1243v2M2771 1266h0M2771 1278h0M2772 1281h0M2772 1247v4M2773 1254v4M2773 1265v5M2773 1260h0M2774 1266h0M2774 1256h0M2775 1256v2M2775 1246h0M2776 1245h0M2776 1280h0M2776 1246v5M2777 1261v3M2777 1273h0M2777 1266v2M2778 1268v4M2778 1279v4M2779 1278h0M2777 1210v2M2778 1181h0M2778 1211v4M2779 1181h0M2779 1213v2M2780 1214h0M2780 1210v7M2780 1212v5M2781 1212v3M2781 1205h0M2781 1193v7M2782 1181h0M2782 1178v7M2783 1182h0M2783 1184h0M2783 1184v4M2784 1204v7M2784 1182v5M2785 1175h0M2785 1176h0M2786 1182v7M2786 1175v4M2786 1174v4M2787 1178h0M2787 1178v3M2788 1179v2M2788 1205h0M2788 1199h0M2789 1196h0M2789 1198h0M2789 1213h0M2790 1176h0M2790 1192v5M2791 1181v2M2791 1180v4M2792 1180h0M2792 1212v3M2792 1213h0M2793 1212v3M2793 1213v2M2793 1211v5M2794 1208v7M2794 1186h0M2795 1183v7M2795 1174v4M2795 1173v7M2794 1223h0M2794 1222v2M2795 1231h0M2795 1242v3M2796 1231h0M2796 1223h0M2796 1227v3M2797 1239v7M2797 1226h0M2798 1235v2M2798 1222v3M2798 1250h0M2799 1235v3M2799 1227v4M2800 1243h0M2800 1229v5M2801 1250h0M2801 1239v2M2801 1233h0M2802 1220v7M2802 1239v4M2802 1231h0M2803 1231h0M2803 1228v2M2804 1224h0M2804 1223v2M2804 1227h0M2805 1235h0M2805 1225v3M2806 1243v2M2806 1223h0M2806 1249h0M2807 1248h0M2807 1249h0M2808 1230v2M2808 1247v5M2808 1244h0M2809 1260v7M2809 1264h0M2810 1258v4M2810 1233v7M2810 1229v3M2811 1257v5M2811 1247h0M2812 1237v2M2812 1226v3M2813 1228v5M2813 1224v4M2813 1223v7M2814 1224v5M2814 1228h0M2814 1232v7M2815 1234h0M2815 1239v5M2816 1250v2M2816 1245v3M2817 1264v2M2817 1228v2M2817 1266h0M2818 1240h0M2818 1234v7M2819 1227h0M2819 1239h0M2819 1258v3M2820 1227v7M2820 1243v2M2820 1226v5M2821 1238v2M2821 1247h0M2822 1254h0M2822 1232h0M2822 1228v2M2823 1234h0M2823 1268h0M2824 1229h0M2824 1247h0M2824 1226h0M2825 1234v4M2825 1244v4M2826 1225v2M2826 1226h0M2826 1241v2M2827 1253v2M2827 1260v7M2828 1241h0M2828 1227h0M2829 1257h0M2829 1230v2M2829 1256h0M2830 1262v4M2830 1255v2M2830 1266v3M2831 1245h0M2831 1261v4M2832 1262v5M2832 1247h0M2833 1255v4M2833 1231h0M2833 1224v5M2834 1232v2M2834 1226h0M2834 1252v5M2835 1226h0M2835 1224v5M2836 1230v4M2836 1227v4M2836 1254v5M2837 1246v7M2837 1237v2M2838 1233v5M2838 1263v7M2839 1267h0M2839 1249v7M2839 1265v3M2840 1237h0M2840 1234v5M2841 1266h0M2845 1141h0M2845 1145v4M2846 1116h0M2846 1115v2M2847 1117h0M2847 1123v3M2847 1158v4M2848 1157v7M2848 1154v3M2849 1151h0M2849 1123v5M2850 1142v2M2850 1152v4M2850 1132v4M2851 1144v3M2851 1161h0M2851 1157h0M2852 1157h0M2852 1133v2M2853 1131v7M2853 1122v2M2853 1151h0M2854 1137v7M2854 1138h0M2855 1154h0M2855 1151h0M2856 1141v4M2856 1133v4M2856 1133v7M2857 1131h0M2857 1154h0M2858 1138h0M2858 1133v3M2858 1152v2M2859 1155h0M2859 1155h0M2860 1135h0M2860 1129v4M2860 1128v3M2861 1129v3M2861 1125v5M2861 1127v5M2862 1152v4M2862 1148h0M2863 1148v4M2863 1144v3M2863 1130v4M2864 1149v5M2864 1155h0M2875 1179v5M2876 1178v7M2876 1187h0M2876 1214v4M2877 1185v4M2877 1196h0M2877 1189v4M2878 1193v5M2878 1184v3M2879 1197v5M2879 1181h0M2880 1203h0M2880 1182h0M2880 1181v2M2881 1179v5M2881 1188v4M2881 1186h0M2882 1181v2M2882 1191v5M2883 1207v5M2883 1215v3M2883 1195v2M2884 1190v7M2884 1202v4M2885 1181v2M2885 1205h0M2886 1205h0M2886 1217h0M2886 1189v5M2887 1194v4M2884 1171h0M2884 1152v7M2885 1163v7M2885 1154h0M2886 1152v3M2886 1172v3M2886 1166v3M2887 1150v5M2887 1172h0M2888 1170v5M2888 1158h0M2889 1176v2M2889 1152v5M2889 1172v7M2890 1170h0M2890 1175v5M2890 1155v2M2891 1173v7M2891 1171v2M2892 1176v4M2892 1152v7M2892 1175v3M2893 1177v2M2893 1168v4M2894 1157v3M2894 1149h0M2895 1149h0M2895 1152h0M2895 1175h0M2896 1158h0M2896 1159v5M2896 1170v3M2897 1146v3M2897 1166v3M2898 1165v4M2898 1160h0M2899 1146v5M2899 1177v2M2899 1144v7M2900 1143v7M2900 1147h0M2900 1145v2M2899 1139h0M2899 1124v7M2900 1136v5M2900 1120v3M2901 1117v4M2901 1111h0M2902 1109h0M2902 1113v7M2902 1105v4M2903 1113v7M2903 1117v5M2904 1131v4M2904 1117v4M2904 1108h0M2905 1132h0M2905 1101v3M2906 1108h0M2906 1106v3M2906 1124v3M2907 1124v7M2907 1124v3M2908 1129h0M2908 1126v5M2908 1123v4M2909 1124h0M2909 1126h0M2909 1117v5M2910 1096v3M2910 1119h0M2911 1120v4M2911 1116v5M2911 1119v4M2912 1103h0M2912 1109v3M2914 1135v5M2914 1127h0M2915 1136h0M2915 1122v3M2916 1139h0M2916 1120v3M2917 1111v4M2917 1116v5M2917 1112v2M2918 1129h0M2918 1135v4M2918 1139h0M2919 1136v4M2919 1134v5M2920 1135h0M2920 1112v5M2920 1114v4M2921 1118v2M2921 1120h0M2922 1106v7M2922 1132v5M2923 1132v5M2923 1114v7M2923 1109v4M2924 1110h0M2924 1113h0M2925 1110h0M2925 1115h0M2925 1111h0M2926 1114h0M2926 1110v5M2926 1110h0M2927 1125v5M2927 1137v2M2928 1134v7M2928 1139h0M2929 1111v4M2929 1113h0M2929 1135v2M2930 1130h0M2930 1139h0M2931 1139h0M2931 1126v5M2931 1124v7M2932 1139h0M2932 1139h0M2932 1124v4M2933 1117h0M2933 1114v3M2920 1087h0M2921 1092h0M2921 1085v5M2921 1097v7M2922 1094v7M2922 1094v2M2922 1097v7M2923 1097h0M2923 1082h0M2924 1082v2M2924 1079v7M2925 1083h0M2925 1093v3M2925 1099h0M2926 1079v7M2926 1084h0M2927 1082h0M2927 1092v2M2927 1080v4M2928 1082h0M2928 1082h0M2929 1081v4M2929 1085h0M2929 1081v5M2930 1100v2M2930 1103h0M2931 1100h0M2931 1099v3M2931 1100v3M2932 1080v5M2932 1097v7M2933 1091v4M2933 1101v4M2933 1102h0M2934 1104h0M2934 1102v4M2935 1089v7M2935 1095v5M2935 1095v5M2936 1098h0M2936 1091v2M2937 1101h0M2937 1102h0M2937 1095v4M2938 1090v5M2938 1082h0M2938 1086h0M2939 1098h0M2939 1088v2M2940 1101v3M2940 1084v3M2940 1082v2M2941 1092h0M2941 1084h0M2942 1094v5M2942 1087v3M2943 1095h0M2943 1083v3M2943 1089v3M2944 1104h0M2944 1082v4M2944 1086v4M2945 1087h0M2945 1103h0M2946 1092v7M2946 1091v7M2946 1097v5M2947 1096v5M2947 1095h0M2948 1081v3M2948 1081v3M2949 1088v7M2949 1103v2M2949 1094v5M2950 1102v4M2950 1092v4M2950 1102v5M2951 1104h0M2951 1082v7M2938 1164v5M2939 1173v4M2939 1166h0M2939 1173h0M2940 1172v3M2940 1164v5M2940 1167h0M2941 1168v7M2941 1174h0M2942 1166v7M2942 1171v7M2943 1173v7M2943 1179v2M2943 1174h0M2944 1202h0M2944 1214h0M2944 1190v2M2945 1209v2M2945 1192h0M2946 1206v2M2946 1203v4M2946 1206v5M2947 1177v3M2947 1191v5M2948 1203v5M2948 1206v7M2949 1214h0M2949 1209h0M2949 1210h0M2950 1193v2M2950 1210v4M2950 1182v2M2951 1184h0M2951 1175v7M2952 1177v5M2952 1190v3M2953 1208v2M2953 1186h0M2953 1179v2M2954 1180h0M2954 1180v2M2955 1179h0M2962 1211v7M2962 1226h0M2963 1202v2M2963 1206v5M2964 1195v7M2964 1210v7M2964 1210v4M2965 1203h0M2965 1201h0M2966 1206v4M2966 1199h0M2966 1228h0M2967 1229h0M2967 1199h0M2968 1210h0M2968 1222h0M2969 1227h0M2969 1220h0M2969 1216h0M2970 1200v5M2970 1201v7M2971 1203v3M2971 1202v5M2971 1209v7M2972 1226h0M2972 1210h0M2972 1203h0M2973 1200h0M2973 1203v2M2974 1228v2M2974 1203v5M2975 1201h0M2975 1208h0M2975 1208v2M2976 1199v2M2976 1202v2M2976 1208v7M2977 1198v5M2977 1202v4M2978 1202h0M2978 1208h0M2979 1227v4M2979 1214v3M2979 1224v4M2980 1224v7M2980 1222v2M2981 1224v7M2981 1221h0M2981 1213h0M2982 1217v4M2982 1205v4M2982 1200h0M2983 1214h0M2983 1228h0M2984 1219v3M2984 1208v7M2984 1200h0M2985 1219v4M2985 1219v2M2986 1199v4M2986 1224v7M2987 1203h0M2987 1211v5M2987 1224h0M2988 1211h0M2988 1229h0M2989 1199h0M2989 1198v5M2989 1202v4M2990 1214h0M2990 1200v5M2990 1210v3M2991 1200h0M2991 1197v3M2992 1199h0M2993 1162v7M2993 1165v4M2994 1169v2M2994 1170h0M2995 1165h0M2995 1165h0M2995 1199v5M2996 1163v5M2996 1191v2M2997 1168h0M2997 1220v3M2997 1167v2M2998 1217v3M2998 1186v3M2999 1220v7M2999 1220h0M2999 1219v4M3000 1175h0M3000 1161v5M3001 1184v4M3001 1214h0M3002 1205v5M3002 1164v4M3002 1207v3M3003 1215v7M3003 1221v7M3003 1221v7M3004 1176h0M3004 1222v4M3005 1189v7M3005 1200v4M3005 1188v4M3006 1183v2M3006 1206v2M3007 1177v2M3007 1203v5M3007 1163h0M3008 1175v2M3008 1175v3M3009 1214v7M3009 1161v7M3009 1167h0M3010 1221h0M3010 1182h0M3011 1162v7M3011 1174v4M3012 1180v4M3012 1198v3M3012 1192h0M3013 1185v4M3013 1163v7M3013 1187v2M3014 1204h0M3014 1208v7M3015 1217v7M3015 1223h0M3015 1198v4M3016 1216v4M3016 1171v4M3017 1184v5M3017 1210v3M3018 1163v2M3018 1164v2M3018 1169v5M3019 1165h0M3019 1166v3M3019 1176v7M3020 1171v3M3020 1196h0M3021 1175v5M3027 1295v5M3028 1293h0M3028 1295h0M3028 1287v7M3029 1286v7M3029 1282h0M3030 1286v2M3030 1294h0M3030 1279v3M3031 1278v2M3031 1277v2M3032 1292v7M3032 1298v5M3033 1289h0M3033 1284v4M3033 1292v2M3034 1298v2M3034 1283h0M3034 1280h0M3035 1297v5M3035 1297v5M3036 1292h0M3036 1298h0M3036 1285v4M3037 1299v2M3037 1299v5M3038 1296v7M3038 1279v5M3039 1293h0M3039 1299v2M3039 1295v5M3040 1201v3M3040 1228h0M3041 1215h0M3041 1191v7M3042 1220v4M3042 1202v2M3042 1217v7M3043 1191v5M3043 1202v2M3044 1192v7M3044 1202h0M3044 1212v2M3045 1194v2M3045 1205h0M3046 1188v3M3046 1205v2M3047 1189v4M3047 1213h0M3047 1190h0M3048 1196v5M3048 1190v2M3049 1189h0M3049 1208v4M3049 1234h0M3050 1232v4M3050 1233v4M3051 1228v4M3051 1233h0M3051 1189h0M3052 1197h0M3052 1188h0M3052 1187v2M3053 1192v3M3053 1191v2M3054 1225h0M3054 1217v7M3055 1206h0M3055 1195h0M3055 1202h0M3056 1198v3M3056 1235h0M3057 1224v3M3057 1205v5M3057 1194h0M3058 1232v2M3058 1213v3M3058 1194h0M3059 1193h0M3059 1195v2M3060 1193v7M3060 1206v4M3060 1214h0M3061 1208v5M3061 1204h0M3062 1220v7M3062 1198h0M3063 1196v7M3063 1195v4M3064 1194v7M3064 1215h0M3064 1200h0M3065 1205h0M3065 1205v3M3065 1204h0M3066 1204h0M3066 1206v4M3067 1212v7M3067 1204v5M3067 1207h0M3068 1206v7M3068 1215v3M3069 1214v7M3069 1223h0M3069 1223v2M3070 1220v3M3070 1261v2M3071 1240v5M3071 1239v5M3071 1261v7M3072 1234v3M3072 1230v7M3072 1222v4M3073 1252v3M3073 1229h0M3074 1251h0M3074 1227v4M3075 1217h0M3075 1218h0M3075 1224v3M3076 1219h0M3076 1220h0M3081 1171v7M3081 1169v7M3081 1172v3M3082 1179v7M3082 1178h0M3083 1176v4M3083 1176v3M3083 1180h0M3084 1176v5M3084 1180v2M3085 1181h0M3085 1184h0M3085 1193v4M3086 1182v7M3086 1185h0M3087 1190h0M3087 1186v4M3088 1198v4M3088 1186v4M3088 1197h0M3089 1192v5M3089 1218h0M3089 1224v4M3090 1217v7M3090 1197h0M3091 1192v3M3091 1191h0M3092 1198h0M3092 1202h0M3092 1191h0M3093 1190v3M3093 1211v2M3094 1191v7M3094 1214h0M3094 1187v7M3095 1193v7M3095 1195v7M3096 1192h0M3096 1207h0M3096 1190v4M3097 1192h0M3097 1221h0M3097 1212h0M3098 1214v7M3098 1215v2M3099 1207v4M3099 1197h0M3099 1220h0M3100 1226h0M3096 1156h0M3097 1145v2M3097 1125h0M3097 1122v5M3098 1131v4M3098 1160v2M3099 1128v4M3099 1161h0M3100 1127v3M3100 1132v7M3100 1146h0M3101 1161v4M3101 1155v7M3101 1155v5M3102 1139h0M3102 1127v4M3103 1125h0M3103 1125h0M3104 1123v4M3104 1155h0M3104 1143h0M3105 1133h0M3105 1128v5M3105 1125h0M3106 1125h0M3106 1133v4M3107 1122v5M3107 1125h0M3107 1122v5M3108 1125v3M3108 1135h0M3109 1128h0M3109 1134v4M3110 1125h0M3110 1130h0M3110 1126h0M3111 1154v5M3111 1130v5M3112 1152v7M3112 1123v4M3112 1123v3M3113 1121v7M3113 1132v2M3114 1125v7M3103 1170v5M3104 1208v3M3104 1191v3M3104 1201h0M3105 1175v3M3105 1169v7M3106 1201v5M3106 1200v3M3106 1196h0M3107 1192h0M3107 1217h0M3108 1172v5M3108 1201v5M3108 1174v5M3109 1175h0M3109 1174h0M3109 1175h0M3110 1182v4M3110 1186v3M3111 1191v5M3111 1210v2M3112 1169v7M3112 1181v7M3113 1192v3M3113 1204h0M3113 1207h0M3114 1205h0M3114 1186v3M3114 1216h0M3115 1203v4M3115 1186v4M3126 1154v2M3126 1147v7M3127 1153v4M3127 1152v4M3127 1143v7M3128 1138v3M3128 1139v3M3128 1145v2M3129 1152h0M3129 1142v2M3130 1149h0M3130 1154h0M3131 1147v3M3131 1153h0M3131 1133v7M3132 1150h0M3132 1135v5M3133 1142h0M3133 1130v4M3133 1134v5M3134 1141h0M3134 1146v5M3135 1132h0M3135 1131v5M3135 1142v2M3136 1140v4M3136 1132h0M3136 1136v2M3137 1139v2M3137 1133h0M3138 1130v5M3138 1141h0M3139 1131h0M3139 1149v7M3139 1143h0M3140 1143h0M3140 1133v4M3140 1130v5M3141 1151h0M3141 1149v3M3142 1151v5M3142 1152v5M3135 1176v4M3135 1179v4M3136 1169v4M3136 1165v5M3136 1168v2M3137 1206v2M3137 1170v4M3137 1179v2M3138 1167v2M3138 1165v4M3139 1164v7M3139 1191v5M3139 1194h0M3140 1209v2M3140 1208h0M3141 1201v3M3141 1198h0M3141 1207v3M3142 1205v3M3151 1151v5M3152 1150v7M3152 1153v4M3152 1153v3M3153 1152v3M3153 1146h0M3154 1154h0M3154 1133v7M3154 1137v2M3155 1130v7M3155 1132h0M3156 1151v2M3156 1154h0M3156 1150v7M3157 1153v4M3157 1152h0M3158 1154v2M3158 1152h0M3159 1154h0M3159 1154v2M3159 1153v3M3160 1152v5M3160 1151v7M3160 1155h0M3161 1153v3M3161 1153v3M3162 1155h0M3162 1144v2M3162 1148v7M3163 1143v4M3163 1153v3M3164 1153v2M3164 1146v2M3164 1133h0M3165 1142v7M3165 1139v7M3166 1143v3M3166 1155h0M3166 1152v5M3167 1143h0M3167 1135h0M3168 1149v3M3168 1146h0M3169 1131v4M3169 1136v4M3169 1152h0M3172 1207v5M3173 1173h0M3173 1197v7M3173 1213h0M3174 1188v7M3174 1209v5M3175 1195h0M3175 1190h0M3175 1206v5M3176 1189v7M3176 1208v7M3177 1173v3M3177 1190v5M3177 1169v7M3178 1172h0M3178 1171v3M3179 1171v4M3179 1176v2M3179 1203v2M3180 1170v5M3180 1209h0M3181 1210h0M3181 1199v2M3178 1064h0M3179 1048v5M3179 1047v5M3180 1048v7M3180 1049v2M3180 1061v4M3181 1060v3M3181 1067v4M3181 1048v5M3182 1046v7M3182 1090h0M3183 1057v3M3183 1089v2M3183 1091h0M3184 1091h0M3184 1087v5M3185 1083h0M3185 1088h0M3186 1055v2M3186 1088h0M3186 1073h0M3186 1053v3M3187 1076v5M3187 1072v3M3188 1052v4M3188 1051v5M3189 1088h0M3189 1088v7M3189 1078h0M3190 1073v3M3190 1086v5M3191 1057v7M3191 1086v7M3192 1083v7M3192 1086v5M3192 1080v2M3192 1091h0M3193 1091h0M3193 1091h0M3194 1086h0M3194 1081v7M3195 1050v7M3195 1069v2M3195 1076v5M3196 1047h0M3196 1054v7M3197 1083v3M3197 1088h0M3198 1083v2M3198 1091h0M3198 1062v7M3199 1087h0M3199 1079h0M3199 1070v3M3200 1086v3M3200 1082v3M3201 1091h0M3201 1078v5M3201 1045v2M3202 1043v7M3202 1046h0M3201 1092v5M3201 1109v4M3201 1097v5M3202 1127v3M3202 1115h0M3203 1131v3M3203 1136h0M3204 1131v2M3204 1136v5M3204 1104h0M3205 1132v5M3205 1122h0M3206 1092v7M3206 1119v7M3206 1127h0M3207 1104h0M3207 1108v5M3208 1128h0M3208 1099h0M3208 1118h0M3209 1135v7M3209 1137h0M3210 1093v5M3210 1126v3M3210 1134v2M3211 1136h0M3211 1132v7M3212 1116v4M3212 1117v4M3212 1106h0M3213 1101h0M3213 1097v7M3213 1113v3M3214 1095v7M3214 1099v2M3215 1102v7M3215 1125v5M3215 1124h0M3216 1127v7M3216 1135h0M3217 1102v7M3217 1108v7M3218 1109h0M3218 1137v3M3218 1116v5M3219 1137v3M3219 1138h0M3220 1113v7M3220 1123h0M3219 1224v2M3219 1222v3M3219 1219v7M3220 1224h0M3220 1217v5M3221 1203h0M3221 1217v7M3222 1224h0M3222 1218h0M3222 1197v5M3223 1188v7M3223 1200h0M3224 1174v5M3224 1177v3M3224 1176v3M3225 1172v7M3225 1180h0M3225 1183h0M3226 1214v2M3226 1187v5M3227 1176v7M3227 1183v5M3227 1175v3M3228 1200v5M3228 1223v3M3232 1111v7M3233 1127h0M3233 1119h0M3233 1138h0M3234 1113v7M3234 1148v3M3235 1114v7M3235 1127h0M3235 1130v2M3236 1115h0M3236 1149v7M3237 1145v7M3237 1149v4M3237 1118h0M3238 1156h0M3238 1147h0M3239 1157h0M3239 1129v5M3239 1155v3M3240 1152v4M3240 1129v5M3241 1127h0M3241 1133v7M3241 1112v5M3242 1118h0M3242 1112v3M3243 1111v4M3243 1117v5M3244 1118v7M3244 1138v3M3244 1181v7M3245 1172h0M3245 1158v2M3245 1180h0M3246 1173v3M3246 1181h0M3247 1166v4M3247 1169v3M3247 1169v4M3248 1151v3M3248 1173h0M3249 1168h0M3249 1182v4M3250 1175v2M3250 1186h0M3250 1150v3M3251 1194h0M3251 1194v2M3252 1228v7M3252 1228v7M3252 1227v3M3253 1194v3M3253 1211h0M3254 1193v5M3254 1200v2M3254 1197h0M3255 1194v5M3255 1194v7M3256 1197h0M3256 1215v4M3257 1209v2M3257 1208h0M3257 1192v7M3258 1211v7M3258 1223v7M3258 1207v4M3259 1210v3M3259 1214v7M3260 1231v5M3260 1218v7M3261 1234h0M3261 1231v4M3261 1234h0M3262 1220v3M3262 1232v5M3262 1235h0M3263 1231v7M3263 1230v7M3264 1232v2M3264 1218v7M3265 1224v5M3265 1220h0M3265 1198h0M3266 1201h0M3266 1196v3M3266 1193v3M3267 1227h0M3267 1235h0M3268 1208v3M3268 1219v3M3268 1213h0M3269 1226v2M3269 1235h0M3270 1220v5M3270 1198v2M3271 1233h0M3271 1197v5M3271 1230h0M3272 1204v2M3272 1209v7M3272 1188h0M3273 1221v5M3273 1232h0M3274 1223v7M3274 1187h0M3275 1194v3M3275 1212v2M3275 1173h0M3276 1219v7M3276 1185v7M3276 1180h0M3277 1170v7M3277 1234h0M3278 1218v4M3278 1222h0M3279 1208v7M3279 1207v4M3279 1227v5M3280 1202h0M3280 1176v4M3280 1180v3M3281 1208h0M3281 1200v5M3282 1225v7M3282 1224h0M3283 1220v2M3283 1210h0M3283 1213v2M3284 1222v5M3284 1217v3M3284 1203v5M3285 1222h0M3285 1220v2M3286 1219v2M3286 1206v4M3286 1197v2M3287 1169v3M3287 1213v7M3288 1216v2M3286 1257h0M3287 1269h0M3287 1265v7M3287 1265v2M3288 1257h0M3288 1259v5M3289 1250h0M3289 1246v7M3290 1251h0M3290 1261v2M3290 1264v3M3291 1255v4M3291 1262v3M3291 1266v3M3292 1265v5M3292 1250v4M3293 1254v3M3293 1257h0M3293 1254v5M3294 1260h0M3294 1267v4M3295 1254v5M3295 1263v5M3295 1250v2M3296 1255h0M3296 1251v3M3297 1254v4M3297 1256h0M3297 1263v7M3298 1261v4M3298 1256v7M3299 1251v4M3299 1248v7M3299 1263v7M3300 1264v7M3300 1250h0M3301 1267h0M3301 1266h0M3300 1255v5M3300 1251v7M3301 1248v5M3301 1245v2M3301 1254v2M3302 1221v3M3302 1225v7M3302 1218h0M3303 1244v7M3303 1222v4M3304 1251v4M3304 1256v3M3305 1256v3M3305 1259h0M3305 1255v7M3306 1248v4M3306 1255v7M3306 1258h0M3307 1258h0M3307 1223v7M3308 1238v4M3308 1255v5M3309 1220v5M3309 1234v7M3309 1217v7M3310 1228v5M3310 1253v3M3311 1240v4M3311 1232v3M3311 1225v5M3312 1222v5M3312 1227h0M3313 1240h0M3313 1258h0M3313 1245h0M3314 1233v7M3314 1245h0M3315 1256h0M3316 1202v2M3317 1200v3M3317 1203v3M3318 1202v2M3318 1200v7M3318 1206h0M3319 1203h0M3319 1201v2M3320 1204h0M3320 1199v7M3320 1226v2M3321 1228h0M3321 1210v4M3321 1207v4M3322 1215v5M3322 1209v7M3323 1223h0M3323 1226v7M3323 1215v4M3324 1201v3M3324 1200v5M3325 1203h0M3325 1210v2M3325 1209h0M3326 1202v2M3326 1204v7M3327 1201v7M3327 1205v2M3327 1223v2M3328 1227v3M3328 1223v3M3329 1225v7M3329 1226v3M3329 1215v2M3330 1203v4M3330 1212h0M3331 1226v7M3331 1209h0M3331 1223v3M3332 1215h0M3332 1229h0M3333 1223v5M3329 1279v7M3329 1281v3M3330 1283h0M3330 1264h0M3331 1257h0M3331 1257v3M3331 1254v5M3332 1258v4M3332 1256v3M3332 1263h0M3333 1255v2M3333 1255v2M3334 1260v4M3334 1277v5M3335 1254v4M3335 1256h0M3335 1254v4M3336 1255v4M3336 1267v2M3336 1277v4M3337 1271v7M3337 1257h0M3338 1254v4M3338 1254v4M3338 1255v5M3339 1256h0M3339 1267v7M3340 1261v3M3340 1263h0M3341 1282h0M3341 1280v7M3341 1278v7M3342 1281v4M3342 1281v3M3343 1263v3M3343 1282h0M3343 1264h0M3344 1259v3M3344 1272h0M3345 1280h0M3345 1280v7M3345 1274v5M3346 1282v2M3346 1279v7M3352 1183v7M3352 1166h0M3352 1183h0M3352 1157v3M3353 1151v7M3353 1183h0M3354 1193v4M3354 1184v3M3355 1176v4M3355 1194h0M3355 1170h0M3356 1162h0M3356 1189v7M3356 1178v5M3357 1180h0M3357 1164v5M3358 1188v4M3358 1161v3M3359 1162v3M3359 1172h0M3359 1152h0M3360 1150h0M3360 1150h0M3361 1149v4M3361 1153h0M3361 1149v2M3362 1160h0M3362 1182v5M3363 1155v3M3363 1190v2M3363 1189v7M3364 1161v5M3364 1183v7M3365 1170v5M3365 1154v3M3365 1186v5M3366 1193h0M3366 1189h0M3367 1191v3M3367 1175v7M3367 1150v2M3368 1154h0M3368 1195h0M3368 1188v3M3369 1193h0M3370 1179h0M3370 1193h0M3370 1174h0M3371 1162v7M3371 1173v2M3371 1177v3M3372 1160h0M3372 1178v5M3373 1171v7M3373 1176v4M3373 1184v4M3374 1172h0M3374 1161v3M3375 1176v5M3369 1227v2M3370 1227v5M3370 1224v4M3371 1234v3M3371 1231v4M3371 1229v3M3372 1229v5M3372 1230v5M3373 1235h0M3373 1234h0M3373 1227h0M3374 1225v3M3374 1233v5M3374 1231h0M3375 1224v4M3375 1234v3M3376 1232h0M3376 1225v3M3377 1222v5M3377 1225h0M3378 1224v2M3378 1222v7M3378 1225h0M3379 1233v2M3379 1228v7M3379 1233v4M3380 1228h0M3380 1234v3M3381 1227v4M3381 1227v3M3381 1226v4M3382 1235h0M3382 1236h0M3383 1232h0M3383 1235h0M3383 1228v3M3382 1194v2M3383 1193v7M3383 1191h0M3384 1194v2M3384 1211h0M3384 1207v7M3385 1207h0M3385 1208v7M3386 1189v4M3386 1189v4M3386 1193v2M3387 1205h0M3387 1199h0M3387 1195v3M3388 1209h0M3388 1211v2M3389 1199h0M3389 1208v4M3389 1206v3M3390 1209h0M3390 1190h0M3391 1188v3M3391 1189v2M3392 1199v2M3392 1208v2M3392 1190h0M3393 1191v3M3393 1188v3M3394 1145h0M3395 1168v2M3395 1162h0M3396 1158h0M3396 1183h0M3396 1181v5M3397 1167v2M3397 1155v4M3398 1176h0M3398 1183v5M3398 1148v4M3399 1183v3M3399 1156h0M3400 1166v3M3400 1138h0M3400 1178h0M3401 1168v7M3401 1136v7M3402 1157v3M3402 1145v3M3402 1165v7M3403 1138v5M3403 1138h0M3403 1137v4M3404 1137h0M3404 1136v7M3405 1174h0M3405 1142h0M3405 1146h0M3406 1161h0M3406 1138v3M3407 1151h0M3407 1183v4M3408 1139h0M3408 1139h0M3408 1138h0M3409 1142h0M3409 1139v3M3410 1160h0M3410 1185v3M3410 1153h0M3411 1172h0M3411 1148v3M3412 1145h0M3412 1158h0M3412 1174h0M3413 1143h0M3413 1170v4M3413 1185v2M3414 1186h0M3414 1148h0M3420 1215v4M3420 1205h0M3420 1202h0M3421 1203h0M3421 1201v5M3422 1201v2M3422 1199v5M3423 1205h0M3423 1202h0M3423 1219v4M3424 1199v5M3424 1200v4M3425 1203v3M3425 1206h0M3425 1199v7M3426 1199v5M3426 1200v4M3427 1200v7M3427 1222v2M3427 1220v5M3428 1207v4M3428 1202h0M3429 1204h0M3429 1208v7M3429 1203v2M3430 1201v4M3430 1203h0M3431 1207v2M3431 1200v7M3432 1200v5M3432 1224v3M3432 1221v3M3423 1269v5M3423 1257v3M3424 1259h0M3424 1264h0M3424 1261v7M3425 1256v7M3425 1264h0M3426 1259h0M3426 1266v3M3426 1262v5M3427 1263h0M3427 1269v5M3428 1259h0M3428 1268v2M3428 1260v3M3429 1260h0M3429 1260h0M3433 1207v7M3434 1245v3M3434 1213h0M3435 1239v4M3435 1233v7M3435 1212v2M3436 1209h0M3436 1222h0M3437 1234h0M3437 1208v7M3437 1232v7M3438 1216h0M3438 1217h0M3438 1242v3M3439 1243v5M3439 1215v2M3440 1209h0M3440 1211h0M3441 1212h0M3441 1233v2M3441 1210h0M3442 1208v4M3442 1241h0M3442 1209h0M3443 1218v3M3443 1246h0M3444 1231v5M3444 1212h0M3444 1218v2M3445 1241h0M3445 1222h0M3446 1243v3M3446 1241h0M3447 1234v3M3447 1210h0M3447 1232h0M3445 1252v5M3445 1256h0M3446 1261h0M3446 1250v4M3446 1260h0M3447 1253v4M3447 1250v7M3448 1255h0M3448 1258v7M3448 1258h0M3449 1247v5M3449 1252h0M3453 1188h0M3453 1211v2M3454 1182h0M3454 1182h0M3454 1185h0M3455 1191h0M3455 1180v3M3456 1187v2M3456 1188h0M3456 1214v5M3457 1182h0M3457 1200v4M3458 1222h0M3458 1208h0M3458 1224v2M3459 1216v7M3459 1226h0M3460 1223v5M3460 1208v7M3461 1222h0M3461 1224v4M3461 1190v5M3462 1206h0M3462 1215v4M3463 1227h0M3463 1217v3M3463 1228h0M3464 1201v3M3464 1182v3M3464 1183v3M3465 1196v4M3465 1197v7M3466 1185h0M3466 1183v5M3467 1227v2M3467 1216v2M3467 1178v7M3468 1185v3M3468 1199h0M3468 1185h0M3469 1203h0M3469 1225v3M3470 1217v7M3470 1220v2M3471 1199v7M3471 1225v3M3471 1203v5M3476 1172v2M3476 1173v7M3476 1205h0M3477 1190h0M3477 1194v2M3478 1174v7M3478 1185v7M3479 1210v5M3479 1194h0M3479 1173v3M3480 1173v7M3480 1173v4M3481 1177h0M3481 1167v2M3481 1167h0M3482 1194h0M3482 1204h0M3483 1189v4M3483 1157v5M3483 1159v2M3484 1168h0M3484 1173v2M3484 1177v4M3485 1212h0M3485 1208v2M3486 1211v3M3486 1168h0M3486 1159v3M3487 1184v2M3487 1186v3M3488 1170h0M3488 1181v4M3488 1182v3M3489 1211v3M3489 1189v7M3490 1201v7M3490 1201v7M3491 1203v7M3491 1166h0M3491 1168v2M3492 1179v4M3492 1183v3M3493 1197v4M3493 1162h0M3493 1169v2M3494 1161h0M3494 1168h0M3494 1182v3M3495 1152v5M3495 1151h0M3496 1148v3M3496 1136h0M3496 1143v5M3497 1150v2M3497 1139h0M3498 1122h0M3498 1122h0M3499 1120v3M3499 1121v2M3499 1126v5M3500 1152h0M3500 1147v2M3500 1122v3M3501 1133v4M3501 1127h0M3502 1130v2M3502 1142v3M3502 1145h0M3503 1127v5M3503 1125h0M3504 1147v4M3504 1128v7M3505 1138v5M3505 1147v2M3505 1145v4M3506 1126v3M3506 1151v5M3506 1130v7M3507 1148h0M3507 1123h0M3508 1125h0M3508 1124h0M3509 1122h0M3509 1138v2M3509 1144v2M3510 1149v7M3510 1126v3M3510 1149h0M3511 1131h0M3511 1152h0M3512 1124h0M3512 1132h0M3512 1122h0M3513 1123v7M3513 1148v5M3508 1175v5M3509 1181v3M3509 1172v2M3510 1145v7M3510 1178h0M3510 1184h0M3511 1174v2M3511 1181v7M3512 1182v5M3512 1184h0M3512 1183v2M3513 1170h0M3513 1166h0M3513 1184h0M3514 1181v7M3514 1182h0M3515 1184h0M3515 1179v7M3516 1182v4M3516 1181v7M3516 1173h0M3517 1183v2M3517 1172v7M3518 1154h0M3518 1155v2M3518 1162v2M3519 1158v3M3519 1163h0M3520 1157h0M3520 1180h0M3520 1180v3M3521 1155h0M3521 1156h0M3522 1176v5M3522 1171v5M3523 1161v4M3521 1150v2M3521 1096v7M3521 1110v7M3522 1147v3M3522 1112h0M3523 1140v2M3523 1129v7M3523 1148h0M3524 1136v7M3524 1149v3M3525 1142v4M3525 1106h0M3526 1105v5M3526 1147v7M3526 1102h0M3527 1099h0M3527 1131v7M3527 1105h0M3528 1147v5M3528 1150v5M3529 1123v5M3529 1143h0M3529 1144v2M3530 1100v2M3530 1102h0M3531 1096v5M3531 1096h0M3532 1130v5M3532 1117h0M3532 1129v2M3533 1115h0M3533 1149h0M3533 1129h0M3534 1113v3M3534 1114v7M3535 1119v7M3535 1101v3M3536 1109h0M3536 1124v3M3536 1113v2M3537 1098h0M3537 1101v2M3538 1093v5M3538 1102v7M3538 1145h0M3529 1155v3M3530 1158h0M3530 1157v2M3531 1151v7M3531 1154v3M3531 1149h0M3532 1153v4M3532 1153h0M3532 1154h0M3533 1140v7M3533 1157h0M3534 1146h0M3534 1151v7M3535 1149v7M3535 1149v5M3535 1156v3M3536 1155h0M3536 1158h0M3537 1154v3M3537 1155v7M3537 1151v2M3538 1155v2M3538 1157v2M3539 1158h0M3539 1156v5M3539 1158h0M3540 1156v5M3540 1157v3M3540 1156v4M3541 1148v4M3541 1149v5M3542 1143h0M3542 1153v5M3543 1138v7M3543 1144h0M3543 1144h0M2754 1163v3M2754 1162h0M2754 1157h0M2754 1150v3M2754 1147h0M2754 1143v2M2754 1138h0M2754 1135h0M2754 1129v2M2754 1125h0M2763 1308v3M2762 1303h0M2763 1299h0M2762 1295h0M2763 1291h0M2842 1208h0M2842 1201h0M2842 1197h0M2843 1302h0M2843 1297h0M2844 1292h0M2854 1186h0M2854 1176v2M2853 1170v2M2866 1130h0M2866 1123h0M2866 1118v3M2866 1114h0M2866 1109h0M2866 1105h0M2866 1101h0M2866 1096h0M2868 1093v3M2868 1090h0M2868 1085h0M2868 1079h0M2868 1072v2M2868 1068h0M2868 1064h0M2868 1058h0M2872 1161h0M2872 1153h0M2890 1152v2M2889 1145v3M2889 1142h0M2889 1138h0M2910 1099v2M2909 1092v3M2910 1087v3M2910 1082v3M2909 1078h0M2938 1081h0M2937 1077h0M2937 1072h0M2937 1064v2M2937 1062h0M2937 1057h0M2937 1053h0M2938 1046h0M2937 1042v3M2946 1127h0M2946 1122h0M2947 1114v3M2947 1109v2M2927 1169h0M2926 1165h0M2958 1278h0M2959 1274h0M2959 1267h0M2958 1262v2M2958 1256v2M2958 1250v2M2958 1246h0M2958 1239h0M2970 1197v3M2970 1193h0M2970 1188h0M2970 1179v3M2970 1175v2M2970 1168v2M2970 1164h0M2970 1159h0M3019 1152h0M3019 1144h0M3019 1137h0M3020 1125h0M3019 1115v2M3019 1107v3M3009 1242h0M3009 1236v3M3009 1233h0M3027 1264v3M3026 1259h0M3026 1255h0M3027 1249v2M3039 1187v2M3038 1182v2M3039 1175v3M3038 1171v2M3039 1165h0M3039 1159h0M3079 1189h0M3080 1183h0M3079 1178h0M3080 1170h0M3079 1164h0M3080 1159h0M3079 1150v3M3115 1235h0M3115 1230h0M3115 1222h0M3120 1273v3M3119 1266h0M3120 1260v2M3120 1252h0M3119 1247h0M3127 1135h0M3128 1129h0M3127 1122v2M3127 1118v3M3127 1113h0M3127 1109h0M3147 1205v3M3147 1200h0M3147 1194h0M3147 1189v2M3147 1183h0M3146 1177h0M3147 1170h0M3147 1239h0M3147 1225v2M3156 1216v3M3155 1212h0M3155 1203v3M3156 1195v3M3156 1189h0M3161 1081h0M3162 1075h0M3162 1070h0M3159 1306h0M3159 1296h0M3159 1287h0M3159 1281h0M3159 1271h0M3169 1104v2M3169 1096h0M3189 1149h0M3189 1145h0M3188 1140h0M3189 1132h0M3189 1127h0M3189 1123h0M3189 1117h0M3213 1108h0M3212 1101v2M3212 1095h0M3213 1088h0M3213 1083h0M3213 1075h0M3231 1089h0M3230 1085h0M3230 1080h0M3230 1074v3M3288 1153v2M3287 1144h0M3288 1125v3M3288 1115v3M3291 1291h0M3291 1283v3M3291 1279h0M3291 1274h0M3291 1267h0M3291 1260v3M3291 1255v2M3291 1251v2M3295 1294v3M3295 1289h0M3295 1284h0M3295 1277h0M3337 1252h0M3336 1246h0M3336 1237h0M3348 1232h0M3347 1225h0M3348 1219h0M3347 1209v3M3348 1204v3M3347 1198h0M3348 1191h0M3369 1116h0M3368 1111v2M3379 1285h0M3379 1278h0M3379 1271v2M3379 1265h0M3416 1116v2M3417 1107v2M3416 1101h0M3419 1146h0M3419 1142h0M3419 1135h0M3420 1127v3M3451 1173h0M3451 1167h0M3451 1163h0M3451 1155v2M3451 1149v2M3475 1161v2M3475 1153v3M3475 1150v2M3475 1142v3M3475 1137h0M3475 1132v2M3490 1263h0M3490 1255v3M3490 1251h0M3490 1241v3M3490 1238h0M2919 813h0M2919 806v2M2919 799v3M2919 796h0M2919 793h0M2919 786v2M2939 1058h0M2939 1053v2M2939 1045v3M2939 1039h0M3197 1058v2M3197 1052v3M3198 1047v2M3197 1040v3"/></defs>
<use href="#dp6" class="d" stroke="#f7d94e" stroke-width="7.2"/>
<use href="#dp6" class="d" stroke="#e8561a" stroke-width="3.9"/>
<path class="d" stroke="#7d6b3c" stroke-width="3.4" d="M2834 814h0M3011 818h0M3159 782h0M3170 838h0M3521 870h0M3032 892h0M2841 910h0M3172 904h0M3172 926h0M2841 999h0M3173 1011h0M2712 1179h0M2733 1244h0M2754 1101h0M2762 1281h0M2778 1168h0M2796 1152h0M2838 1219h0M2949 1152h0M2984 1256h0M2975 1238h0M2986 1256h0M3171 1251h0M3219 1166h0M3287 1119h0M3287 1133h0M3287 1157h0M3310 1268h0M3369 1135h0M3364 1207h0M3414 1079h0M3541 1177h0M3541 1186h0M3541 1202h0M3535 1166h0M2870 1056h0"/>
<path class="ax" stroke-width="4.5" d="M2684.5 750.9 V1366.4"/>
<path class="ax" stroke-width="3.9" d="M2684.5 1364.4 H3586.7"/>
<path class="ax" stroke-width="3.8" d="M2684.5 1304.5 h10.8 M2684.5 1243 h10.8 M2684.5 1181.5 h10.8 M2684.5 1119.5 h10.8 M2684.5 1057.5 h10.8 M2684.5 996.7 h10.8 M2684.5 936.4 h10.8 M2684.5 873.7 h10.8 M2684.5 812.9 h10.8 M2684.5 752.9 h10.8 M2834.6 1364.4 v-11.8 M2984.6 1364.4 v-11.8 M3134.7 1364.4 v-11.8 M3284.8 1364.4 v-11.8 M3434.8 1364.4 v-11.8 M3584.9 1364.4 v-11.8"/>
</g>
</svg>
</body></html>
